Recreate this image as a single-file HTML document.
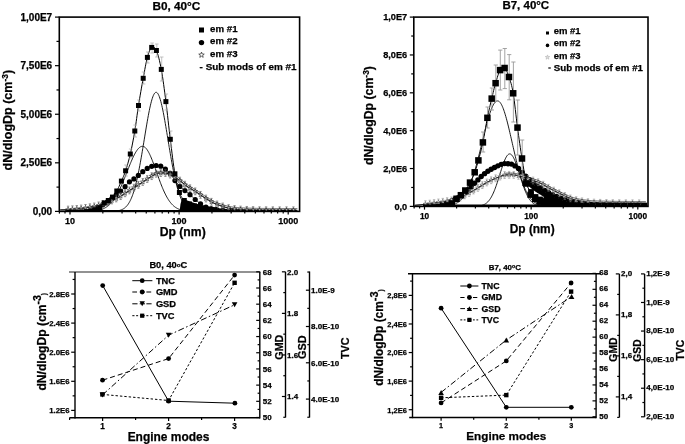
<!DOCTYPE html>
<html><head><meta charset="utf-8"><style>
html,body{margin:0;padding:0;background:#fff;width:685px;height:444px;overflow:hidden}
svg{display:block;will-change:transform}
text{font-family:"Liberation Sans",sans-serif;font-weight:bold;stroke:#000;stroke-width:0.25px}
</style></head><body>
<svg width="685" height="444" viewBox="0 0 685 444">
<clipPath id="c1"><rect x="59.3" y="17.1" width="240.3" height="194.3"/></clipPath><g clip-path="url(#c1)">
<polygon points="182,198.5 186,200 190,201.5 195,203.3 200,204.8 205,206 212,207.5 220,208.5 235,209.6 235,212 179.5,212 180.5,204" fill="#000"/>
<polyline points="60.3,209.83 60.8,209.82 61.3,209.81 61.8,209.8 62.3,209.79 62.8,209.78 63.3,209.77 63.8,209.75 64.3,209.73 64.8,209.71 65.3,209.69 65.8,209.67 66.3,209.65 66.8,209.62 67.3,209.6 67.8,209.57 68.3,209.54 68.8,209.52 69.3,209.49 69.8,209.46 70.3,209.42 70.8,209.39 71.3,209.36 71.8,209.33 72.3,209.29 72.8,209.26 73.3,209.22 73.8,209.19 74.3,209.15 74.8,209.11 75.3,209.08 75.8,209.04 76.3,209 76.8,208.95 77.3,208.91 77.8,208.86 78.3,208.81 78.8,208.76 79.3,208.7 79.8,208.65 80.3,208.59 80.8,208.53 81.3,208.47 81.8,208.41 82.3,208.35 82.8,208.29 83.3,208.22 83.8,208.16 84.3,208.09 84.8,208.03 85.3,207.96 85.8,207.89 86.3,207.82 86.8,207.75 87.3,207.68 87.8,207.6 88.3,207.52 88.8,207.44 89.3,207.36 89.8,207.28 90.3,207.2 90.8,207.11 91.3,207.02 91.8,206.93 92.3,206.84 92.8,206.74 93.3,206.65 93.8,206.55 94.3,206.45 94.8,206.34 95.3,206.24 95.8,206.12 96.3,206.01 96.8,205.89 97.3,205.76 97.8,205.63 98.3,205.49 98.8,205.35 99.3,205.21 99.8,205.06 100.3,204.91 100.8,204.75 101.3,204.59 101.8,204.42 102.3,204.25 102.8,204.08 103.3,203.9 103.8,203.72 104.3,203.53 104.8,203.34 105.3,203.15 105.8,202.96 106.3,202.76 106.8,202.56 107.3,202.36 107.8,202.15 108.3,201.94 108.8,201.74 109.3,201.52 109.8,201.31 110.3,201.1 110.8,200.89 111.3,200.67 111.8,200.46 112.3,200.24 112.8,200.02 113.3,199.8 113.8,199.58 114.3,199.35 114.8,199.12 115.3,198.89 115.8,198.65 116.3,198.41 116.8,198.17 117.3,197.92 117.8,197.67 118.3,197.41 118.8,197.15 119.3,196.88 119.8,196.61 120.3,196.33 120.8,196.04 121.3,195.74 121.8,195.43 122.3,195.11 122.8,194.78 123.3,194.45 123.8,194.12 124.3,193.78 124.8,193.45 125.3,193.11 125.8,192.78 126.3,192.45 126.8,192.13 127.3,191.81 127.8,191.5 128.3,191.18 128.8,190.87 129.3,190.56 129.8,190.25 130.3,189.94 130.8,189.63 131.3,189.32 131.8,189.01 132.3,188.7 132.8,188.38 133.3,188.07 133.8,187.76 134.3,187.44 134.8,187.13 135.3,186.81 135.8,186.49 136.3,186.17 136.8,185.84 137.3,185.52 137.8,185.2 138.3,184.87 138.8,184.55 139.3,184.22 139.8,183.89 140.3,183.57 140.8,183.24 141.3,182.91 141.8,182.58 142.3,182.26 142.8,181.93 143.3,181.6 143.8,181.28 144.3,180.95 144.8,180.63 145.3,180.3 145.8,179.97 146.3,179.64 146.8,179.3 147.3,178.96 147.8,178.61 148.3,178.27 148.8,177.94 149.3,177.61 149.8,177.28 150.3,176.97 150.8,176.67 151.3,176.38 151.8,176.11 152.3,175.84 152.8,175.57 153.3,175.28 153.8,175 154.3,174.72 154.8,174.44 155.3,174.18 155.8,173.94 156.3,173.72 156.8,173.53 157.3,173.38 157.8,173.27 158.3,173.21 158.8,173.18 159.3,173.15 159.8,173.13 160.3,173.1 160.8,173.08 161.3,173.07 161.8,173.05 162.3,173.04 162.8,173.02 163.3,173.01 163.8,173.01 164.3,173 164.8,173 165.3,173.01 165.8,173.06 166.3,173.16 166.8,173.28 167.3,173.44 167.8,173.62 168.3,173.81 168.8,174.02 169.3,174.22 169.8,174.42 170.3,174.62 170.8,174.83 171.3,175.07 171.8,175.31 172.3,175.58 172.8,175.85 173.3,176.14 173.8,176.43 174.3,176.74 174.8,177.05 175.3,177.36 175.8,177.67 176.3,177.99 176.8,178.32 177.3,178.67 177.8,179.02 178.3,179.39 178.8,179.76 179.3,180.14 179.8,180.52 180.3,180.91 180.8,181.3 181.3,181.69 181.8,182.08 182.3,182.48 182.8,182.89 183.3,183.3 183.8,183.73 184.3,184.15 184.8,184.58 185.3,184.99 185.8,185.4 186.3,185.79 186.8,186.16 187.3,186.51 187.8,186.85 188.3,187.17 188.8,187.49 189.3,187.79 189.8,188.1 190.3,188.39 190.8,188.69 191.3,188.98 191.8,189.27 192.3,189.57 192.8,189.87 193.3,190.18 193.8,190.49 194.3,190.8 194.8,191.11 195.3,191.43 195.8,191.74 196.3,192.06 196.8,192.38 197.3,192.69 197.8,193.02 198.3,193.34 198.8,193.67 199.3,194 199.8,194.34 200.3,194.68 200.8,195.03 201.3,195.38 201.8,195.74 202.3,196.09 202.8,196.44 203.3,196.79 203.8,197.14 204.3,197.48 204.8,197.81 205.3,198.13 205.8,198.44 206.3,198.76 206.8,199.07 207.3,199.37 207.8,199.67 208.3,199.97 208.8,200.27 209.3,200.56 209.8,200.84 210.3,201.13 210.8,201.41 211.3,201.7 211.8,201.98 212.3,202.26 212.8,202.54 213.3,202.81 213.8,203.07 214.3,203.32 214.8,203.56 215.3,203.77 215.8,203.99 216.3,204.19 216.8,204.38 217.3,204.57 217.8,204.76 218.3,204.94 218.8,205.12 219.3,205.29 219.8,205.46 220.3,205.63 220.8,205.8 221.3,205.97 221.8,206.14 222.3,206.31 222.8,206.47 223.3,206.64 223.8,206.8 224.3,206.95 224.8,207.11 225.3,207.25 225.8,207.39 226.3,207.52 226.8,207.65 227.3,207.77 227.8,207.9 228.3,208.02 228.8,208.13 229.3,208.25 229.8,208.36 230.3,208.46 230.8,208.55 231.3,208.64 231.8,208.72 232.3,208.79 232.8,208.85 233.3,208.91 233.8,208.96 234.3,209.02 234.8,209.07 235.3,209.12 235.8,209.17 236.3,209.22 236.8,209.27 237.3,209.31 237.8,209.35 238.3,209.4 238.8,209.44 239.3,209.47 239.8,209.51 240.3,209.54 240.8,209.58 241.3,209.61 241.8,209.64 242.3,209.67 242.8,209.7 243.3,209.72 243.8,209.75 244.3,209.77 244.8,209.79 245.3,209.81 245.8,209.83 246.3,209.85 246.8,209.87 247.3,209.89 247.8,209.91 248.3,209.93 248.8,209.95 249.3,209.96 249.8,209.98 250.3,210 250.8,210.01 251.3,210.03 251.8,210.05 252.3,210.06 252.8,210.07 253.3,210.09 253.8,210.1 254.3,210.11 254.8,210.12 255.3,210.14 255.8,210.15 256.3,210.16 256.8,210.16 257.3,210.17 257.8,210.18 258.3,210.19 258.8,210.19 259.3,210.2 259.8,210.2 260.3,210.2 260.8,210.2 261.3,210.21 261.8,210.21 262.3,210.21 262.8,210.21 263.3,210.22 263.8,210.22 264.3,210.22 264.8,210.22 265.3,210.23 265.8,210.23 266.3,210.23 266.8,210.23 267.3,210.23 267.8,210.24 268.3,210.24 268.8,210.24 269.3,210.24 269.8,210.25 270.3,210.25 270.8,210.25 271.3,210.25 271.8,210.25 272.3,210.25 272.8,210.26 273.3,210.26 273.8,210.26 274.3,210.26 274.8,210.26 275.3,210.26 275.8,210.27 276.3,210.27 276.8,210.27 277.3,210.27 277.8,210.27 278.3,210.27 278.8,210.27 279.3,210.28 279.8,210.28 280.3,210.28 280.8,210.28 281.3,210.28 281.8,210.28 282.3,210.28 282.8,210.28 283.3,210.28 283.8,210.29 284.3,210.29 284.8,210.29 285.3,210.29 285.8,210.29 286.3,210.29 286.8,210.29 287.3,210.29 287.8,210.29 288.3,210.29 288.8,210.29 289.3,210.29 289.8,210.29 290.3,210.3 290.8,210.3 291.3,210.3 291.8,210.3 292.3,210.3 292.8,210.3 293.3,210.3 293.8,210.3 294.3,210.3 294.8,210.3 295.3,210.3 295.8,210.3 296.3,210.3 296.8,210.3 297.3,210.3" fill="none" stroke="#000" stroke-width="0.9" stroke-linejoin="round"/>
<polyline points="60.3,212.2 60.8,212.2 61.3,212.2 61.8,212.2 62.3,212.2 62.8,212.2 63.3,212.2 63.8,212.2 64.3,212.2 64.8,212.2 65.3,212.19 65.8,212.19 66.3,212.19 66.8,212.19 67.3,212.18 67.8,212.18 68.3,212.18 68.8,212.17 69.3,212.17 69.8,212.16 70.3,212.16 70.8,212.15 71.3,212.15 71.8,212.14 72.3,212.13 72.8,212.13 73.3,212.12 73.8,212.11 74.3,212.11 74.8,212.1 75.3,212.09 75.8,212.08 76.3,212.07 76.8,212.06 77.3,212.06 77.8,212.05 78.3,212.04 78.8,212.03 79.3,212.02 79.8,212 80.3,211.99 80.8,211.97 81.3,211.95 81.8,211.92 82.3,211.89 82.8,211.85 83.3,211.8 83.8,211.75 84.3,211.7 84.8,211.64 85.3,211.58 85.8,211.52 86.3,211.45 86.8,211.38 87.3,211.31 87.8,211.23 88.3,211.15 88.8,211.06 89.3,210.95 89.8,210.83 90.3,210.69 90.8,210.55 91.3,210.39 91.8,210.22 92.3,210.05 92.8,209.87 93.3,209.68 93.8,209.48 94.3,209.28 94.8,209.08 95.3,208.87 95.8,208.64 96.3,208.38 96.8,208.11 97.3,207.82 97.8,207.52 98.3,207.22 98.8,206.91 99.3,206.61 99.8,206.32 100.3,206.03 100.8,205.75 101.3,205.47 101.8,205.19 102.3,204.91 102.8,204.63 103.3,204.35 103.8,204.07 104.3,203.79 104.8,203.5 105.3,203.21 105.8,202.91 106.3,202.6 106.8,202.29 107.3,201.97 107.8,201.64 108.3,201.29 108.8,200.93 109.3,200.56 109.8,200.18 110.3,199.78 110.8,199.37 111.3,198.96 111.8,198.54 112.3,198.12 112.8,197.69 113.3,197.27 113.8,196.84 114.3,196.42 114.8,196 115.3,195.58 115.8,195.17 116.3,194.77 116.8,194.37 117.3,193.97 117.8,193.57 118.3,193.16 118.8,192.74 119.3,192.32 119.8,191.88 120.3,191.43 120.8,190.96 121.3,190.48 121.8,190 122.3,189.5 122.8,188.99 123.3,188.48 123.8,187.96 124.3,187.44 124.8,186.91 125.3,186.37 125.8,185.8 126.3,185.21 126.8,184.6 127.3,184 127.8,183.41 128.3,182.86 128.8,182.36 129.3,181.92 129.8,181.52 130.3,181.16 130.8,180.82 131.3,180.5 131.8,180.19 132.3,179.89 132.8,179.58 133.3,179.27 133.8,178.95 134.3,178.6 134.8,178.24 135.3,177.86 135.8,177.48 136.3,177.1 136.8,176.7 137.3,176.31 137.8,175.9 138.3,175.5 138.8,175.09 139.3,174.66 139.8,174.23 140.3,173.78 140.8,173.34 141.3,172.91 141.8,172.48 142.3,172.06 142.8,171.66 143.3,171.27 143.8,170.88 144.3,170.5 144.8,170.12 145.3,169.75 145.8,169.39 146.3,169.05 146.8,168.72 147.3,168.4 147.8,168.11 148.3,167.84 148.8,167.57 149.3,167.3 149.8,167.05 150.3,166.81 150.8,166.6 151.3,166.41 151.8,166.25 152.3,166.12 152.8,166 153.3,165.88 153.8,165.77 154.3,165.67 154.8,165.59 155.3,165.53 155.8,165.5 156.3,165.5 156.8,165.53 157.3,165.57 157.8,165.62 158.3,165.69 158.8,165.78 159.3,165.87 159.8,165.97 160.3,166.08 160.8,166.2 161.3,166.35 161.8,166.56 162.3,166.83 162.8,167.13 163.3,167.48 163.8,167.85 164.3,168.23 164.8,168.63 165.3,169.03 165.8,169.42 166.3,169.81 166.8,170.21 167.3,170.63 167.8,171.06 168.3,171.52 168.8,171.99 169.3,172.49 169.8,173.02 170.3,173.57 170.8,174.17 171.3,174.85 171.8,175.59 172.3,176.39 172.8,177.22 173.3,178.05 173.8,178.86 174.3,179.64 174.8,180.36 175.3,181.03 175.8,181.69 176.3,182.34 176.8,182.97 177.3,183.58 177.8,184.17 178.3,184.74 178.8,185.28 179.3,185.8 179.8,186.29 180.3,186.75 180.8,187.2 181.3,187.63 181.8,188.04 182.3,188.45 182.8,188.84 183.3,189.24 183.8,189.64 184.3,190.04 184.8,190.44 185.3,190.84 185.8,191.23 186.3,191.61 186.8,192 187.3,192.38 187.8,192.77 188.3,193.17 188.8,193.58 189.3,194 189.8,194.44 190.3,194.9 190.8,195.37 191.3,195.85 191.8,196.34 192.3,196.83 192.8,197.32 193.3,197.79 193.8,198.26 194.3,198.71 194.8,199.15 195.3,199.58 195.8,200 196.3,200.42 196.8,200.84 197.3,201.25 197.8,201.65 198.3,202.05 198.8,202.44 199.3,202.82 199.8,203.2 200.3,203.58 200.8,203.97 201.3,204.36 201.8,204.74 202.3,205.12 202.8,205.48 203.3,205.81 203.8,206.13 204.3,206.4 204.8,206.65 205.3,206.87 205.8,207.08 206.3,207.29 206.8,207.49 207.3,207.68 207.8,207.86 208.3,208.03 208.8,208.19 209.3,208.34 209.8,208.49 210.3,208.62 210.8,208.75 211.3,208.86 211.8,208.96 212.3,209.06 212.8,209.15 213.3,209.23 213.8,209.32 214.3,209.4 214.8,209.49 215.3,209.56 215.8,209.64 216.3,209.71 216.8,209.78 217.3,209.85 217.8,209.92 218.3,209.98 218.8,210.04 219.3,210.1 219.8,210.16 220.3,210.21 220.8,210.26 221.3,210.31 221.8,210.36 222.3,210.4 222.8,210.45 223.3,210.49 223.8,210.52 224.3,210.56 224.8,210.59 225.3,210.62 225.8,210.65 226.3,210.68 226.8,210.7 227.3,210.73 227.8,210.76 228.3,210.79 228.8,210.81 229.3,210.84 229.8,210.86 230.3,210.89 230.8,210.91 231.3,210.94 231.8,210.96 232.3,210.98 232.8,211.01 233.3,211.03 233.8,211.05 234.3,211.07 234.8,211.09 235.3,211.11 235.8,211.13 236.3,211.15 236.8,211.17 237.3,211.19 237.8,211.21 238.3,211.23 238.8,211.24 239.3,211.26 239.8,211.28 240.3,211.29 240.8,211.31 241.3,211.32 241.8,211.34 242.3,211.35 242.8,211.36 243.3,211.38 243.8,211.39 244.3,211.4 244.8,211.41 245.3,211.42 245.8,211.43 246.3,211.44 246.8,211.45 247.3,211.46 247.8,211.47 248.3,211.48 248.8,211.48 249.3,211.49 249.8,211.5 250.3,211.5 250.8,211.51 251.3,211.51 251.8,211.52 252.3,211.53 252.8,211.53 253.3,211.54 253.8,211.54 254.3,211.55 254.8,211.55 255.3,211.56 255.8,211.56 256.3,211.57 256.8,211.57 257.3,211.58 257.8,211.58 258.3,211.59 258.8,211.59 259.3,211.6 259.8,211.6 260.3,211.61 260.8,211.61 261.3,211.62 261.8,211.62 262.3,211.63 262.8,211.63 263.3,211.63 263.8,211.64 264.3,211.64 264.8,211.65 265.3,211.65 265.8,211.66 266.3,211.66 266.8,211.66 267.3,211.67 267.8,211.67 268.3,211.68 268.8,211.68 269.3,211.68 269.8,211.69 270.3,211.69 270.8,211.69 271.3,211.7 271.8,211.7 272.3,211.7 272.8,211.71 273.3,211.71 273.8,211.71 274.3,211.72 274.8,211.72 275.3,211.72 275.8,211.73 276.3,211.73 276.8,211.73 277.3,211.74 277.8,211.74 278.3,211.74 278.8,211.74 279.3,211.75 279.8,211.75 280.3,211.75 280.8,211.75 281.3,211.76 281.8,211.76 282.3,211.76 282.8,211.76 283.3,211.77 283.8,211.77 284.3,211.77 284.8,211.77 285.3,211.77 285.8,211.78 286.3,211.78 286.8,211.78 287.3,211.78 287.8,211.78 288.3,211.78 288.8,211.79 289.3,211.79 289.8,211.79 290.3,211.79 290.8,211.79 291.3,211.79 291.8,211.79 292.3,211.79 292.8,211.79 293.3,211.8 293.8,211.8 294.3,211.8 294.8,211.8 295.3,211.8 295.8,211.8 296.3,211.8 296.8,211.8 297.3,211.8" fill="none" stroke="#000" stroke-width="0.9" stroke-linejoin="round"/>
<polyline points="60.3,211.4 60.8,211.4 61.3,211.4 61.8,211.4 62.3,211.4 62.8,211.4 63.3,211.4 63.8,211.4 64.3,211.4 64.8,211.4 65.3,211.4 65.8,211.4 66.3,211.4 66.8,211.4 67.3,211.4 67.8,211.4 68.3,211.4 68.8,211.4 69.3,211.4 69.8,211.4 70.3,211.4 70.8,211.4 71.3,211.4 71.8,211.4 72.3,211.4 72.8,211.4 73.3,211.4 73.8,211.4 74.3,211.4 74.8,211.4 75.3,211.39 75.8,211.39 76.3,211.39 76.8,211.39 77.3,211.39 77.8,211.39 78.3,211.39 78.8,211.39 79.3,211.38 79.8,211.38 80.3,211.38 80.8,211.38 81.3,211.37 81.8,211.37 82.3,211.37 82.8,211.36 83.3,211.36 83.8,211.35 84.3,211.34 84.8,211.34 85.3,211.33 85.8,211.32 86.3,211.31 86.8,211.3 87.3,211.29 87.8,211.27 88.3,211.26 88.8,211.24 89.3,211.22 89.8,211.2 90.3,211.18 90.8,211.15 91.3,211.12 91.8,211.09 92.3,211.06 92.8,211.02 93.3,210.98 93.8,210.93 94.3,210.88 94.8,210.83 95.3,210.77 95.8,210.7 96.3,210.63 96.8,210.56 97.3,210.47 97.8,210.38 98.3,210.28 98.8,210.18 99.3,210.06 99.8,209.94 100.3,209.8 100.8,209.65 101.3,209.5 101.8,209.33 102.3,209.15 102.8,208.95 103.3,208.74 103.8,208.52 104.3,208.28 104.8,208.02 105.3,207.75 105.8,207.45 106.3,207.14 106.8,206.81 107.3,206.46 107.8,206.09 108.3,205.69 108.8,205.28 109.3,204.83 109.8,204.37 110.3,203.88 110.8,203.36 111.3,202.81 111.8,202.24 112.3,201.64 112.8,201.02 113.3,200.36 113.8,199.68 114.3,198.96 114.8,198.22 115.3,197.44 115.8,196.63 116.3,195.8 116.8,194.93 117.3,194.04 117.8,193.11 118.3,192.16 118.8,191.17 119.3,190.16 119.8,189.12 120.3,188.06 120.8,186.97 121.3,185.85 121.8,184.71 122.3,183.55 122.8,182.37 123.3,181.17 123.8,179.96 124.3,178.73 124.8,177.48 125.3,176.23 125.8,174.97 126.3,173.7 126.8,172.42 127.3,171.15 127.8,169.88 128.3,168.61 128.8,167.35 129.3,166.1 129.8,164.86 130.3,163.64 130.8,162.44 131.3,161.26 131.8,160.1 132.3,158.97 132.8,157.88 133.3,156.81 133.8,155.79 134.3,154.8 134.8,153.86 135.3,152.96 135.8,152.11 136.3,151.31 136.8,150.56 137.3,149.86 137.8,149.23 138.3,148.65 138.8,148.13 139.3,147.67 139.8,147.28 140.3,146.95 140.8,146.69 141.3,146.49 141.8,146.37 142.3,146.31 142.8,146.31 143.3,146.41 143.8,146.58 144.3,146.84 144.8,147.17 145.3,147.59 145.8,148.08 146.3,148.65 146.8,149.3 147.3,150.02 147.8,150.8 148.3,151.65 148.8,152.57 149.3,153.54 149.8,154.57 150.3,155.66 150.8,156.79 151.3,157.97 151.8,159.19 152.3,160.45 152.8,161.74 153.3,163.05 153.8,164.4 154.3,165.76 154.8,167.14 155.3,168.54 155.8,169.94 156.3,171.35 156.8,172.76 157.3,174.17 157.8,175.57 158.3,176.96 158.8,178.35 159.3,179.71 159.8,181.06 160.3,182.39 160.8,183.69 161.3,184.98 161.8,186.23 162.3,187.45 162.8,188.65 163.3,189.81 163.8,190.94 164.3,192.03 164.8,193.09 165.3,194.12 165.8,195.1 166.3,196.05 166.8,196.97 167.3,197.84 167.8,198.68 168.3,199.48 168.8,200.25 169.3,200.98 169.8,201.68 170.3,202.34 170.8,202.96 171.3,203.55 171.8,204.11 172.3,204.64 172.8,205.14 173.3,205.61 173.8,206.05 174.3,206.47 174.8,206.85 175.3,207.22 175.8,207.55 176.3,207.87 176.8,208.16 177.3,208.44 177.8,208.69 178.3,208.92 178.8,209.14 179.3,209.34 179.8,209.53 180.3,209.7 180.8,209.86 181.3,210 181.8,210.13 182.3,210.26 182.8,210.37 183.3,210.47 183.8,210.56 184.3,210.65 184.8,210.72 185.3,210.79 185.8,210.85 186.3,210.91 186.8,210.96 187.3,211.01 187.8,211.05 188.3,211.09 188.8,211.13 189.3,211.16 189.8,211.18 190.3,211.21 190.8,211.23 191.3,211.25 191.8,211.27 192.3,211.28 192.8,211.3 193.3,211.31 193.8,211.32 194.3,211.33 194.8,211.34 195.3,211.35 195.8,211.35 196.3,211.36 196.8,211.36 197.3,211.37 197.8,211.37 198.3,211.38 198.8,211.38 199.3,211.38 199.8,211.39 200.3,211.39 200.8,211.39 201.3,211.39 201.8,211.39 202.3,211.39 202.8,211.39 203.3,211.39 203.8,211.4 204.3,211.4 204.8,211.4 205.3,211.4 205.8,211.4 206.3,211.4 206.8,211.4 207.3,211.4 207.8,211.4 208.3,211.4 208.8,211.4 209.3,211.4 209.8,211.4 210.3,211.4 210.8,211.4 211.3,211.4 211.8,211.4 212.3,211.4 212.8,211.4 213.3,211.4 213.8,211.4 214.3,211.4 214.8,211.4 215.3,211.4 215.8,211.4 216.3,211.4 216.8,211.4 217.3,211.4 217.8,211.4 218.3,211.4 218.8,211.4 219.3,211.4 219.8,211.4 220.3,211.4 220.8,211.4 221.3,211.4 221.8,211.4 222.3,211.4 222.8,211.4 223.3,211.4 223.8,211.4 224.3,211.4 224.8,211.4 225.3,211.4 225.8,211.4 226.3,211.4 226.8,211.4 227.3,211.4 227.8,211.4 228.3,211.4 228.8,211.4 229.3,211.4 229.8,211.4 230.3,211.4 230.8,211.4 231.3,211.4 231.8,211.4 232.3,211.4 232.8,211.4 233.3,211.4 233.8,211.4 234.3,211.4 234.8,211.4 235.3,211.4 235.8,211.4 236.3,211.4 236.8,211.4 237.3,211.4 237.8,211.4 238.3,211.4 238.8,211.4 239.3,211.4 239.8,211.4 240.3,211.4 240.8,211.4 241.3,211.4 241.8,211.4 242.3,211.4 242.8,211.4 243.3,211.4 243.8,211.4 244.3,211.4 244.8,211.4 245.3,211.4 245.8,211.4 246.3,211.4 246.8,211.4 247.3,211.4 247.8,211.4 248.3,211.4 248.8,211.4 249.3,211.4 249.8,211.4 250.3,211.4 250.8,211.4 251.3,211.4 251.8,211.4 252.3,211.4 252.8,211.4 253.3,211.4 253.8,211.4 254.3,211.4 254.8,211.4 255.3,211.4 255.8,211.4 256.3,211.4 256.8,211.4 257.3,211.4 257.8,211.4 258.3,211.4 258.8,211.4 259.3,211.4 259.8,211.4 260.3,211.4 260.8,211.4 261.3,211.4 261.8,211.4 262.3,211.4 262.8,211.4 263.3,211.4 263.8,211.4 264.3,211.4 264.8,211.4 265.3,211.4 265.8,211.4 266.3,211.4 266.8,211.4 267.3,211.4 267.8,211.4 268.3,211.4 268.8,211.4 269.3,211.4 269.8,211.4 270.3,211.4 270.8,211.4 271.3,211.4 271.8,211.4 272.3,211.4 272.8,211.4 273.3,211.4 273.8,211.4 274.3,211.4 274.8,211.4 275.3,211.4 275.8,211.4 276.3,211.4 276.8,211.4 277.3,211.4 277.8,211.4 278.3,211.4 278.8,211.4 279.3,211.4 279.8,211.4 280.3,211.4 280.8,211.4 281.3,211.4 281.8,211.4 282.3,211.4 282.8,211.4 283.3,211.4 283.8,211.4 284.3,211.4 284.8,211.4 285.3,211.4 285.8,211.4 286.3,211.4 286.8,211.4 287.3,211.4 287.8,211.4 288.3,211.4 288.8,211.4 289.3,211.4 289.8,211.4 290.3,211.4 290.8,211.4 291.3,211.4 291.8,211.4 292.3,211.4 292.8,211.4 293.3,211.4 293.8,211.4 294.3,211.4 294.8,211.4 295.3,211.4 295.8,211.4 296.3,211.4 296.8,211.4 297.3,211.4" fill="none" stroke="#000" stroke-width="0.9" stroke-linejoin="round"/>
<polyline points="60.3,211.4 60.8,211.4 61.3,211.4 61.8,211.4 62.3,211.4 62.8,211.4 63.3,211.4 63.8,211.4 64.3,211.4 64.8,211.4 65.3,211.4 65.8,211.4 66.3,211.4 66.8,211.4 67.3,211.4 67.8,211.4 68.3,211.4 68.8,211.4 69.3,211.4 69.8,211.4 70.3,211.4 70.8,211.4 71.3,211.4 71.8,211.4 72.3,211.4 72.8,211.4 73.3,211.4 73.8,211.4 74.3,211.4 74.8,211.4 75.3,211.4 75.8,211.4 76.3,211.4 76.8,211.4 77.3,211.4 77.8,211.4 78.3,211.4 78.8,211.4 79.3,211.4 79.8,211.4 80.3,211.4 80.8,211.4 81.3,211.4 81.8,211.4 82.3,211.4 82.8,211.4 83.3,211.4 83.8,211.4 84.3,211.4 84.8,211.4 85.3,211.4 85.8,211.4 86.3,211.4 86.8,211.4 87.3,211.4 87.8,211.4 88.3,211.4 88.8,211.4 89.3,211.4 89.8,211.4 90.3,211.4 90.8,211.4 91.3,211.4 91.8,211.4 92.3,211.4 92.8,211.4 93.3,211.4 93.8,211.4 94.3,211.4 94.8,211.4 95.3,211.4 95.8,211.4 96.3,211.4 96.8,211.4 97.3,211.4 97.8,211.4 98.3,211.4 98.8,211.4 99.3,211.4 99.8,211.4 100.3,211.4 100.8,211.4 101.3,211.4 101.8,211.4 102.3,211.4 102.8,211.4 103.3,211.39 103.8,211.39 104.3,211.39 104.8,211.39 105.3,211.39 105.8,211.39 106.3,211.38 106.8,211.38 107.3,211.38 107.8,211.37 108.3,211.37 108.8,211.36 109.3,211.35 109.8,211.35 110.3,211.34 110.8,211.32 111.3,211.31 111.8,211.3 112.3,211.28 112.8,211.26 113.3,211.23 113.8,211.21 114.3,211.18 114.8,211.14 115.3,211.1 115.8,211.05 116.3,211 116.8,210.94 117.3,210.87 117.8,210.79 118.3,210.7 118.8,210.59 119.3,210.48 119.8,210.35 120.3,210.21 120.8,210.04 121.3,209.86 121.8,209.66 122.3,209.43 122.8,209.18 123.3,208.9 123.8,208.59 124.3,208.25 124.8,207.87 125.3,207.45 125.8,206.99 126.3,206.49 126.8,205.94 127.3,205.34 127.8,204.69 128.3,203.98 128.8,203.2 129.3,202.37 129.8,201.46 130.3,200.49 130.8,199.44 131.3,198.32 131.8,197.11 132.3,195.82 132.8,194.45 133.3,192.98 133.8,191.43 134.3,189.78 134.8,188.05 135.3,186.21 135.8,184.28 136.3,182.26 136.8,180.14 137.3,177.93 137.8,175.62 138.3,173.22 138.8,170.74 139.3,168.17 139.8,165.53 140.3,162.8 140.8,160.01 141.3,157.16 141.8,154.25 142.3,151.29 142.8,148.3 143.3,145.27 143.8,142.22 144.3,139.16 144.8,136.1 145.3,133.06 145.8,130.03 146.3,127.04 146.8,124.1 147.3,121.21 147.8,118.4 148.3,115.67 148.8,113.04 149.3,110.52 149.8,108.12 150.3,105.85 150.8,103.73 151.3,101.76 151.8,99.95 152.3,98.32 152.8,96.87 153.3,95.61 153.8,94.54 154.3,93.68 154.8,93.02 155.3,92.57 155.8,92.34 156.3,92.32 156.8,92.51 157.3,92.91 157.8,93.53 158.3,94.35 158.8,95.38 159.3,96.6 159.8,98.01 160.3,99.61 160.8,101.38 161.3,103.32 161.8,105.42 162.3,107.66 162.8,110.03 163.3,112.53 163.8,115.14 164.3,117.85 164.8,120.64 165.3,123.52 165.8,126.45 166.3,129.43 166.8,132.45 167.3,135.49 167.8,138.55 168.3,141.61 168.8,144.66 169.3,147.69 169.8,150.7 170.3,153.66 170.8,156.58 171.3,159.45 171.8,162.25 172.3,164.99 172.8,167.65 173.3,170.23 173.8,172.73 174.3,175.15 174.8,177.47 175.3,179.7 175.8,181.84 176.3,183.89 176.8,185.83 177.3,187.69 177.8,189.44 178.3,191.11 178.8,192.68 179.3,194.16 179.8,195.55 180.3,196.86 180.8,198.08 181.3,199.22 181.8,200.29 182.3,201.27 182.8,202.19 183.3,203.04 183.8,203.83 184.3,204.55 184.8,205.21 185.3,205.83 185.8,206.38 186.3,206.9 186.8,207.36 187.3,207.79 187.8,208.17 188.3,208.52 188.8,208.84 189.3,209.13 189.8,209.38 190.3,209.61 190.8,209.82 191.3,210.01 191.8,210.17 192.3,210.32 192.8,210.46 193.3,210.57 193.8,210.68 194.3,210.77 194.8,210.85 195.3,210.92 195.8,210.99 196.3,211.04 196.8,211.09 197.3,211.13 197.8,211.17 198.3,211.2 198.8,211.23 199.3,211.25 199.8,211.27 200.3,211.29 200.8,211.31 201.3,211.32 201.8,211.33 202.3,211.34 202.8,211.35 203.3,211.36 203.8,211.37 204.3,211.37 204.8,211.38 205.3,211.38 205.8,211.38 206.3,211.39 206.8,211.39 207.3,211.39 207.8,211.39 208.3,211.39 208.8,211.39 209.3,211.4 209.8,211.4 210.3,211.4 210.8,211.4 211.3,211.4 211.8,211.4 212.3,211.4 212.8,211.4 213.3,211.4 213.8,211.4 214.3,211.4 214.8,211.4 215.3,211.4 215.8,211.4 216.3,211.4 216.8,211.4 217.3,211.4 217.8,211.4 218.3,211.4 218.8,211.4 219.3,211.4 219.8,211.4 220.3,211.4 220.8,211.4 221.3,211.4 221.8,211.4 222.3,211.4 222.8,211.4 223.3,211.4 223.8,211.4 224.3,211.4 224.8,211.4 225.3,211.4 225.8,211.4 226.3,211.4 226.8,211.4 227.3,211.4 227.8,211.4 228.3,211.4 228.8,211.4 229.3,211.4 229.8,211.4 230.3,211.4 230.8,211.4 231.3,211.4 231.8,211.4 232.3,211.4 232.8,211.4 233.3,211.4 233.8,211.4 234.3,211.4 234.8,211.4 235.3,211.4 235.8,211.4 236.3,211.4 236.8,211.4 237.3,211.4 237.8,211.4 238.3,211.4 238.8,211.4 239.3,211.4 239.8,211.4 240.3,211.4 240.8,211.4 241.3,211.4 241.8,211.4 242.3,211.4 242.8,211.4 243.3,211.4 243.8,211.4 244.3,211.4 244.8,211.4 245.3,211.4 245.8,211.4 246.3,211.4 246.8,211.4 247.3,211.4 247.8,211.4 248.3,211.4 248.8,211.4 249.3,211.4 249.8,211.4 250.3,211.4 250.8,211.4 251.3,211.4 251.8,211.4 252.3,211.4 252.8,211.4 253.3,211.4 253.8,211.4 254.3,211.4 254.8,211.4 255.3,211.4 255.8,211.4 256.3,211.4 256.8,211.4 257.3,211.4 257.8,211.4 258.3,211.4 258.8,211.4 259.3,211.4 259.8,211.4 260.3,211.4 260.8,211.4 261.3,211.4 261.8,211.4 262.3,211.4 262.8,211.4 263.3,211.4 263.8,211.4 264.3,211.4 264.8,211.4 265.3,211.4 265.8,211.4 266.3,211.4 266.8,211.4 267.3,211.4 267.8,211.4 268.3,211.4 268.8,211.4 269.3,211.4 269.8,211.4 270.3,211.4 270.8,211.4 271.3,211.4 271.8,211.4 272.3,211.4 272.8,211.4 273.3,211.4 273.8,211.4 274.3,211.4 274.8,211.4 275.3,211.4 275.8,211.4 276.3,211.4 276.8,211.4 277.3,211.4 277.8,211.4 278.3,211.4 278.8,211.4 279.3,211.4 279.8,211.4 280.3,211.4 280.8,211.4 281.3,211.4 281.8,211.4 282.3,211.4 282.8,211.4 283.3,211.4 283.8,211.4 284.3,211.4 284.8,211.4 285.3,211.4 285.8,211.4 286.3,211.4 286.8,211.4 287.3,211.4 287.8,211.4 288.3,211.4 288.8,211.4 289.3,211.4 289.8,211.4 290.3,211.4 290.8,211.4 291.3,211.4 291.8,211.4 292.3,211.4 292.8,211.4 293.3,211.4 293.8,211.4 294.3,211.4 294.8,211.4 295.3,211.4 295.8,211.4 296.3,211.4 296.8,211.4 297.3,211.4" fill="none" stroke="#000" stroke-width="0.9" stroke-linejoin="round"/>
<polyline points="69.25,212.49 69.59,212.49 70.03,212.48 70.56,212.47 71.15,212.46 71.78,212.45 72.41,212.44 73.03,212.43 73.6,212.41 74.14,212.4 74.69,212.39 75.23,212.37 75.78,212.36 76.32,212.34 76.86,212.32 77.41,212.3 77.95,212.28 78.5,212.26 79.04,212.23 79.59,212.21 80.13,212.18 80.68,212.15 81.22,212.12 81.77,212.09 82.31,212.05 82.86,212.01 83.4,211.97 83.95,211.92 84.5,211.88 85.04,211.83 85.59,211.77 86.13,211.71 86.68,211.65 87.23,211.58 87.77,211.51 88.32,211.43 88.86,211.35 89.41,211.27 89.96,211.17 90.5,211.07 91.05,210.96 91.6,210.84 92.14,210.71 92.69,210.58 93.24,210.45 93.79,210.3 94.33,210.13 94.88,209.96 95.43,209.76 95.98,209.56 96.52,209.37 97.07,209.17 97.62,208.95 98.17,208.7 98.71,208.42 99.26,208.08 99.81,207.69 100.36,207.2 100.91,206.63 101.47,205.99 102.02,205.32 102.58,204.64 103.12,203.99 103.67,203.4 104.2,202.9 104.73,202.49 105.24,202.16 105.75,201.87 106.26,201.61 106.77,201.37 107.27,201.11 107.78,200.83 108.3,200.5 108.82,200.14 109.34,199.78 109.86,199.42 110.39,199.03 110.91,198.62 111.44,198.16 111.97,197.66 112.5,197.1 113.03,196.49 113.56,195.85 114.09,195.18 114.62,194.46 115.16,193.68 115.7,192.86 116.25,191.96 116.8,191 117.36,189.95 117.94,188.8 118.52,187.58 119.11,186.31 119.69,185.01 120.27,183.69 120.84,182.38 121.4,181.1 121.94,179.88 122.47,178.71 122.98,177.55 123.49,176.38 124.01,175.16 124.52,173.84 125.05,172.4 125.6,170.8 126.16,169.05 126.74,167.2 127.33,165.25 127.93,163.19 128.53,161.04 129.13,158.79 129.72,156.44 130.3,154 130.88,151.44 131.46,148.74 132.04,145.94 132.61,143.04 133.18,140.08 133.74,137.07 134.28,134.04 134.8,131 135.29,127.94 135.76,124.84 136.2,121.7 136.64,118.51 137.07,115.3 137.52,112.05 138,108.79 138.5,105.5 139.04,102.14 139.62,98.67 140.21,95.15 140.82,91.61 141.43,88.11 142.04,84.7 142.63,81.41 143.2,78.3 143.75,75.31 144.28,72.38 144.81,69.52 145.32,66.77 145.84,64.16 146.35,61.71 146.87,59.45 147.4,57.4 147.93,55.54 148.46,53.83 148.99,52.28 149.52,50.9 150.05,49.71 150.59,48.72 151.14,47.95 151.7,47.4 152.27,47.05 152.84,46.88 153.42,46.91 154.01,47.14 154.61,47.6 155.2,48.31 155.8,49.27 156.4,50.5 157,52.02 157.62,53.8 158.24,55.85 158.86,58.13 159.48,60.64 160.09,63.37 160.7,66.29 161.3,69.4 161.89,72.75 162.48,76.39 163.06,80.26 163.63,84.33 164.2,88.54 164.77,92.85 165.34,97.22 165.9,101.6 166.46,106.07 167.01,110.71 167.56,115.48 168.1,120.31 168.64,125.16 169.19,129.97 169.74,134.7 170.3,139.3 170.87,143.87 171.44,148.52 172.01,153.17 172.59,157.74 173.17,162.16 173.75,166.36 174.33,170.27 174.9,173.8 175.46,176.97 176.02,179.84 176.58,182.44 177.13,184.81 177.69,186.97 178.25,188.95 178.82,190.78 179.4,192.5 179.99,194.04 180.59,195.36 181.2,196.48 181.81,197.45 182.42,198.3 183.04,199.07 183.67,199.79 184.3,200.5 184.94,201.16 185.58,201.73 186.24,202.21 186.89,202.62 187.55,203 188.21,203.34 188.86,203.67 189.5,204 190.13,204.33 190.76,204.62 191.39,204.89 192.01,205.14 192.63,205.37 193.25,205.58 193.88,205.79 194.5,206 195.12,206.2 195.75,206.38 196.38,206.55 197,206.71 197.62,206.87 198.25,207.01 198.88,207.16 199.5,207.3 200.12,207.44 200.75,207.58 201.38,207.71 202,207.84 202.62,207.96 203.25,208.08 203.88,208.19 204.5,208.3 205.12,208.4 205.75,208.5 206.38,208.59 207,208.68 207.62,208.76 208.25,208.84 208.88,208.92 209.5,209 210.12,209.06 210.73,209.11 211.35,209.14 211.96,209.17 212.58,209.22 213.2,209.3 213.84,209.42 214.5,209.6 215.18,209.86 215.87,210.21 216.57,210.61 217.29,211.04 218.01,211.46 218.73,211.85 219.45,212.17 220.17,212.4 220.89,212.53 221.6,212.6 222.32,212.61 223.04,212.58 223.77,212.52 224.49,212.47 225.22,212.42 225.95,212.4 226.68,212.4 227.41,212.4 228.14,212.4 228.87,212.4 229.61,212.4 230.35,212.4 231.09,212.4 231.83,212.4 232.57,212.4 233.32,212.4 234.07,212.4 234.81,212.4 235.57,212.4 236.32,212.4 237.07,212.4 237.83,212.4 238.59,212.4 239.35,212.4 240.11,212.4 240.87,212.4 241.64,212.4 242.41,212.4 243.18,212.4 243.95,212.4 244.73,212.4 245.5,212.4 246.28,212.4 247.06,212.4 247.84,212.4 248.63,212.4 249.41,212.4 250.2,212.4 250.99,212.4 251.79,212.4 252.58,212.4 253.38,212.4 254.18,212.4 254.98,212.4 255.78,212.4 256.59,212.4 257.39,212.4 258.2,212.4 259.01,212.4 259.83,212.4 260.64,212.4 261.46,212.4 262.28,212.4 263.1,212.4 263.93,212.4 264.75,212.4 265.58,212.4 266.41,212.4 267.25,212.4 268.08,212.4 268.92,212.4 269.76,212.4 270.6,212.4 271.45,212.4 272.29,212.4 273.14,212.4 273.99,212.4 274.85,212.4 275.7,212.4 276.55,212.4 277.41,212.4 278.26,212.4 279.11,212.4 279.97,212.4 280.82,212.4 281.68,212.4 282.54,212.4 283.4,212.4 284.3,212.4 285.28,212.4 286.28,212.4 287.27,212.4 288.2,212.4 289.05,212.4 289.75,212.4 290.29,212.4" fill="none" stroke="#000" stroke-width="1.0" stroke-linejoin="round"/>
<line x1="65.3" y1="210.7" x2="296.6" y2="210.7" stroke="#000" stroke-width="1.4" stroke-linecap="butt"/>
<circle cx="68.09" cy="212.18" r="2.6" fill="#000"/>
<circle cx="72.43" cy="212.13" r="2.6" fill="#000"/>
<circle cx="76.78" cy="212.07" r="2.6" fill="#000"/>
<circle cx="81.14" cy="211.96" r="2.6" fill="#000"/>
<circle cx="85.51" cy="211.55" r="2.6" fill="#000"/>
<circle cx="89.88" cy="210.81" r="2.6" fill="#000"/>
<circle cx="94.25" cy="209.3" r="2.6" fill="#000"/>
<circle cx="98.63" cy="207.02" r="2.6" fill="#000"/>
<circle cx="103.02" cy="204.51" r="2.6" fill="#000"/>
<circle cx="107.41" cy="201.89" r="2.6" fill="#000"/>
<circle cx="111.81" cy="198.53" r="2.6" fill="#000"/>
<circle cx="116.22" cy="194.84" r="2.6" fill="#000"/>
<circle cx="120.63" cy="191.12" r="2.6" fill="#000"/>
<circle cx="125.05" cy="186.65" r="2.6" fill="#000"/>
<circle cx="129.47" cy="181.78" r="2.6" fill="#000"/>
<circle cx="133.9" cy="178.88" r="2.6" fill="#000"/>
<circle cx="138.33" cy="175.47" r="2.6" fill="#000"/>
<circle cx="142.77" cy="171.68" r="2.6" fill="#000"/>
<circle cx="147.22" cy="168.45" r="2.6" fill="#000"/>
<circle cx="151.7" cy="166.28" r="2.6" fill="#000"/>
<circle cx="156.18" cy="165.5" r="2.6" fill="#000"/>
<circle cx="160.75" cy="166.19" r="2.6" fill="#000"/>
<circle cx="165.4" cy="169.11" r="2.6" fill="#000"/>
<circle cx="170.14" cy="173.39" r="2.6" fill="#000"/>
<circle cx="174.97" cy="180.6" r="2.6" fill="#000"/>
<circle cx="179.9" cy="186.38" r="2.6" fill="#000"/>
<circle cx="184.91" cy="190.53" r="2.6" fill="#000"/>
<circle cx="190.02" cy="194.64" r="2.6" fill="#000"/>
<circle cx="195.23" cy="199.52" r="2.6" fill="#000"/>
<circle cx="200.53" cy="203.76" r="2.6" fill="#000"/>
<circle cx="205.94" cy="207.14" r="2.6" fill="#000"/>
<circle cx="211.45" cy="208.89" r="2.6" fill="#000"/>
<circle cx="217.06" cy="209.82" r="2.6" fill="#000"/>
<circle cx="222.77" cy="210.44" r="2.6" fill="#000"/>
<circle cx="228.6" cy="210.8" r="2.6" fill="#000"/>
<circle cx="234.54" cy="211.08" r="2.6" fill="#000"/>
<circle cx="240.59" cy="211.3" r="2.6" fill="#000"/>
<circle cx="246.77" cy="211.45" r="2.6" fill="#000"/>
<circle cx="253.08" cy="211.53" r="2.6" fill="#000"/>
<circle cx="259.52" cy="211.6" r="2.6" fill="#000"/>
<circle cx="266.1" cy="211.66" r="2.6" fill="#000"/>
<circle cx="272.82" cy="211.71" r="2.6" fill="#000"/>
<circle cx="279.64" cy="211.75" r="2.6" fill="#000"/>
<circle cx="286.5" cy="211.78" r="2.6" fill="#000"/>
<circle cx="293.41" cy="211.8" r="2.6" fill="#000"/>
<line x1="68.09" y1="206.16" x2="68.09" y2="212.96" stroke="#555" stroke-width="0.6" stroke-linecap="butt"/>
<line x1="66.89" y1="206.16" x2="69.29" y2="206.16" stroke="#555" stroke-width="0.6" stroke-linecap="butt"/>
<line x1="66.89" y1="212.96" x2="69.29" y2="212.96" stroke="#555" stroke-width="0.6" stroke-linecap="butt"/>
<line x1="72.43" y1="205.88" x2="72.43" y2="212.68" stroke="#555" stroke-width="0.6" stroke-linecap="butt"/>
<line x1="71.23" y1="205.88" x2="73.63" y2="205.88" stroke="#555" stroke-width="0.6" stroke-linecap="butt"/>
<line x1="71.23" y1="212.68" x2="73.63" y2="212.68" stroke="#555" stroke-width="0.6" stroke-linecap="butt"/>
<line x1="76.78" y1="205.55" x2="76.78" y2="212.35" stroke="#555" stroke-width="0.6" stroke-linecap="butt"/>
<line x1="75.58" y1="205.55" x2="77.98" y2="205.55" stroke="#555" stroke-width="0.6" stroke-linecap="butt"/>
<line x1="75.58" y1="212.35" x2="77.98" y2="212.35" stroke="#555" stroke-width="0.6" stroke-linecap="butt"/>
<line x1="81.14" y1="205.09" x2="81.14" y2="211.89" stroke="#555" stroke-width="0.6" stroke-linecap="butt"/>
<line x1="79.94" y1="205.09" x2="82.34" y2="205.09" stroke="#555" stroke-width="0.6" stroke-linecap="butt"/>
<line x1="79.94" y1="211.89" x2="82.34" y2="211.89" stroke="#555" stroke-width="0.6" stroke-linecap="butt"/>
<line x1="85.51" y1="204.53" x2="85.51" y2="211.33" stroke="#555" stroke-width="0.6" stroke-linecap="butt"/>
<line x1="84.31" y1="204.53" x2="86.71" y2="204.53" stroke="#555" stroke-width="0.6" stroke-linecap="butt"/>
<line x1="84.31" y1="211.33" x2="86.71" y2="211.33" stroke="#555" stroke-width="0.6" stroke-linecap="butt"/>
<line x1="89.88" y1="203.87" x2="89.88" y2="210.67" stroke="#555" stroke-width="0.6" stroke-linecap="butt"/>
<line x1="88.68" y1="203.87" x2="91.08" y2="203.87" stroke="#555" stroke-width="0.6" stroke-linecap="butt"/>
<line x1="88.68" y1="210.67" x2="91.08" y2="210.67" stroke="#555" stroke-width="0.6" stroke-linecap="butt"/>
<line x1="94.25" y1="203.05" x2="94.25" y2="209.85" stroke="#555" stroke-width="0.6" stroke-linecap="butt"/>
<line x1="93.05" y1="203.05" x2="95.45" y2="203.05" stroke="#555" stroke-width="0.6" stroke-linecap="butt"/>
<line x1="93.05" y1="209.85" x2="95.45" y2="209.85" stroke="#555" stroke-width="0.6" stroke-linecap="butt"/>
<line x1="98.63" y1="202" x2="98.63" y2="208.8" stroke="#555" stroke-width="0.6" stroke-linecap="butt"/>
<line x1="97.43" y1="202" x2="99.83" y2="202" stroke="#555" stroke-width="0.6" stroke-linecap="butt"/>
<line x1="97.43" y1="208.8" x2="99.83" y2="208.8" stroke="#555" stroke-width="0.6" stroke-linecap="butt"/>
<line x1="103.02" y1="200.6" x2="103.02" y2="207.4" stroke="#555" stroke-width="0.6" stroke-linecap="butt"/>
<line x1="101.82" y1="200.6" x2="104.22" y2="200.6" stroke="#555" stroke-width="0.6" stroke-linecap="butt"/>
<line x1="101.82" y1="207.4" x2="104.22" y2="207.4" stroke="#555" stroke-width="0.6" stroke-linecap="butt"/>
<line x1="107.41" y1="198.91" x2="107.41" y2="205.71" stroke="#555" stroke-width="0.6" stroke-linecap="butt"/>
<line x1="106.21" y1="198.91" x2="108.61" y2="198.91" stroke="#555" stroke-width="0.6" stroke-linecap="butt"/>
<line x1="106.21" y1="205.71" x2="108.61" y2="205.71" stroke="#555" stroke-width="0.6" stroke-linecap="butt"/>
<line x1="111.81" y1="197.05" x2="111.81" y2="203.85" stroke="#555" stroke-width="0.6" stroke-linecap="butt"/>
<line x1="110.61" y1="197.05" x2="113.01" y2="197.05" stroke="#555" stroke-width="0.6" stroke-linecap="butt"/>
<line x1="110.61" y1="203.85" x2="113.01" y2="203.85" stroke="#555" stroke-width="0.6" stroke-linecap="butt"/>
<line x1="116.22" y1="195.05" x2="116.22" y2="201.85" stroke="#555" stroke-width="0.6" stroke-linecap="butt"/>
<line x1="115.02" y1="195.05" x2="117.42" y2="195.05" stroke="#555" stroke-width="0.6" stroke-linecap="butt"/>
<line x1="115.02" y1="201.85" x2="117.42" y2="201.85" stroke="#555" stroke-width="0.6" stroke-linecap="butt"/>
<line x1="120.63" y1="192.74" x2="120.63" y2="199.54" stroke="#555" stroke-width="0.6" stroke-linecap="butt"/>
<line x1="119.43" y1="192.74" x2="121.83" y2="192.74" stroke="#555" stroke-width="0.6" stroke-linecap="butt"/>
<line x1="119.43" y1="199.54" x2="121.83" y2="199.54" stroke="#555" stroke-width="0.6" stroke-linecap="butt"/>
<line x1="125.05" y1="189.88" x2="125.05" y2="196.68" stroke="#555" stroke-width="0.6" stroke-linecap="butt"/>
<line x1="123.85" y1="189.88" x2="126.25" y2="189.88" stroke="#555" stroke-width="0.6" stroke-linecap="butt"/>
<line x1="123.85" y1="196.68" x2="126.25" y2="196.68" stroke="#555" stroke-width="0.6" stroke-linecap="butt"/>
<line x1="129.47" y1="187.05" x2="129.47" y2="193.85" stroke="#555" stroke-width="0.6" stroke-linecap="butt"/>
<line x1="128.27" y1="187.05" x2="130.67" y2="187.05" stroke="#555" stroke-width="0.6" stroke-linecap="butt"/>
<line x1="128.27" y1="193.85" x2="130.67" y2="193.85" stroke="#555" stroke-width="0.6" stroke-linecap="butt"/>
<line x1="133.9" y1="184.3" x2="133.9" y2="191.1" stroke="#555" stroke-width="0.6" stroke-linecap="butt"/>
<line x1="132.7" y1="184.3" x2="135.1" y2="184.3" stroke="#555" stroke-width="0.6" stroke-linecap="butt"/>
<line x1="132.7" y1="191.1" x2="135.1" y2="191.1" stroke="#555" stroke-width="0.6" stroke-linecap="butt"/>
<line x1="138.33" y1="181.45" x2="138.33" y2="188.25" stroke="#555" stroke-width="0.6" stroke-linecap="butt"/>
<line x1="137.13" y1="181.45" x2="139.53" y2="181.45" stroke="#555" stroke-width="0.6" stroke-linecap="butt"/>
<line x1="137.13" y1="188.25" x2="139.53" y2="188.25" stroke="#555" stroke-width="0.6" stroke-linecap="butt"/>
<line x1="142.77" y1="178.55" x2="142.77" y2="185.35" stroke="#555" stroke-width="0.6" stroke-linecap="butt"/>
<line x1="141.57" y1="178.55" x2="143.97" y2="178.55" stroke="#555" stroke-width="0.6" stroke-linecap="butt"/>
<line x1="141.57" y1="185.35" x2="143.97" y2="185.35" stroke="#555" stroke-width="0.6" stroke-linecap="butt"/>
<line x1="147.22" y1="175.61" x2="147.22" y2="182.41" stroke="#555" stroke-width="0.6" stroke-linecap="butt"/>
<line x1="146.02" y1="175.61" x2="148.42" y2="175.61" stroke="#555" stroke-width="0.6" stroke-linecap="butt"/>
<line x1="146.02" y1="182.41" x2="148.42" y2="182.41" stroke="#555" stroke-width="0.6" stroke-linecap="butt"/>
<line x1="151.7" y1="172.76" x2="151.7" y2="179.56" stroke="#555" stroke-width="0.6" stroke-linecap="butt"/>
<line x1="150.5" y1="172.76" x2="152.9" y2="172.76" stroke="#555" stroke-width="0.6" stroke-linecap="butt"/>
<line x1="150.5" y1="179.56" x2="152.9" y2="179.56" stroke="#555" stroke-width="0.6" stroke-linecap="butt"/>
<line x1="156.18" y1="170.37" x2="156.18" y2="177.17" stroke="#555" stroke-width="0.6" stroke-linecap="butt"/>
<line x1="154.98" y1="170.37" x2="157.38" y2="170.37" stroke="#555" stroke-width="0.6" stroke-linecap="butt"/>
<line x1="154.98" y1="177.17" x2="157.38" y2="177.17" stroke="#555" stroke-width="0.6" stroke-linecap="butt"/>
<line x1="160.75" y1="169.69" x2="160.75" y2="176.49" stroke="#555" stroke-width="0.6" stroke-linecap="butt"/>
<line x1="159.55" y1="169.69" x2="161.95" y2="169.69" stroke="#555" stroke-width="0.6" stroke-linecap="butt"/>
<line x1="159.55" y1="176.49" x2="161.95" y2="176.49" stroke="#555" stroke-width="0.6" stroke-linecap="butt"/>
<line x1="165.4" y1="169.62" x2="165.4" y2="176.42" stroke="#555" stroke-width="0.6" stroke-linecap="butt"/>
<line x1="164.2" y1="169.62" x2="166.6" y2="169.62" stroke="#555" stroke-width="0.6" stroke-linecap="butt"/>
<line x1="164.2" y1="176.42" x2="166.6" y2="176.42" stroke="#555" stroke-width="0.6" stroke-linecap="butt"/>
<line x1="170.14" y1="171.16" x2="170.14" y2="177.96" stroke="#555" stroke-width="0.6" stroke-linecap="butt"/>
<line x1="168.94" y1="171.16" x2="171.34" y2="171.16" stroke="#555" stroke-width="0.6" stroke-linecap="butt"/>
<line x1="168.94" y1="177.96" x2="171.34" y2="177.96" stroke="#555" stroke-width="0.6" stroke-linecap="butt"/>
<line x1="174.97" y1="173.75" x2="174.97" y2="180.55" stroke="#555" stroke-width="0.6" stroke-linecap="butt"/>
<line x1="173.77" y1="173.75" x2="176.17" y2="173.75" stroke="#555" stroke-width="0.6" stroke-linecap="butt"/>
<line x1="173.77" y1="180.55" x2="176.17" y2="180.55" stroke="#555" stroke-width="0.6" stroke-linecap="butt"/>
<line x1="179.9" y1="177.2" x2="179.9" y2="184" stroke="#555" stroke-width="0.6" stroke-linecap="butt"/>
<line x1="178.7" y1="177.2" x2="181.1" y2="177.2" stroke="#555" stroke-width="0.6" stroke-linecap="butt"/>
<line x1="178.7" y1="184" x2="181.1" y2="184" stroke="#555" stroke-width="0.6" stroke-linecap="butt"/>
<line x1="184.91" y1="181.27" x2="184.91" y2="188.07" stroke="#555" stroke-width="0.6" stroke-linecap="butt"/>
<line x1="183.71" y1="181.27" x2="186.11" y2="181.27" stroke="#555" stroke-width="0.6" stroke-linecap="butt"/>
<line x1="183.71" y1="188.07" x2="186.11" y2="188.07" stroke="#555" stroke-width="0.6" stroke-linecap="butt"/>
<line x1="190.02" y1="184.83" x2="190.02" y2="191.63" stroke="#555" stroke-width="0.6" stroke-linecap="butt"/>
<line x1="188.82" y1="184.83" x2="191.22" y2="184.83" stroke="#555" stroke-width="0.6" stroke-linecap="butt"/>
<line x1="188.82" y1="191.63" x2="191.22" y2="191.63" stroke="#555" stroke-width="0.6" stroke-linecap="butt"/>
<line x1="195.23" y1="187.98" x2="195.23" y2="194.78" stroke="#555" stroke-width="0.6" stroke-linecap="butt"/>
<line x1="194.03" y1="187.98" x2="196.43" y2="187.98" stroke="#555" stroke-width="0.6" stroke-linecap="butt"/>
<line x1="194.03" y1="194.78" x2="196.43" y2="194.78" stroke="#555" stroke-width="0.6" stroke-linecap="butt"/>
<line x1="200.53" y1="191.45" x2="200.53" y2="198.25" stroke="#555" stroke-width="0.6" stroke-linecap="butt"/>
<line x1="199.33" y1="191.45" x2="201.73" y2="191.45" stroke="#555" stroke-width="0.6" stroke-linecap="butt"/>
<line x1="199.33" y1="198.25" x2="201.73" y2="198.25" stroke="#555" stroke-width="0.6" stroke-linecap="butt"/>
<line x1="205.94" y1="195.13" x2="205.94" y2="201.93" stroke="#555" stroke-width="0.6" stroke-linecap="butt"/>
<line x1="204.74" y1="195.13" x2="207.14" y2="195.13" stroke="#555" stroke-width="0.6" stroke-linecap="butt"/>
<line x1="204.74" y1="201.93" x2="207.14" y2="201.93" stroke="#555" stroke-width="0.6" stroke-linecap="butt"/>
<line x1="211.45" y1="198.38" x2="211.45" y2="205.18" stroke="#555" stroke-width="0.6" stroke-linecap="butt"/>
<line x1="210.25" y1="198.38" x2="212.65" y2="198.38" stroke="#555" stroke-width="0.6" stroke-linecap="butt"/>
<line x1="210.25" y1="205.18" x2="212.65" y2="205.18" stroke="#555" stroke-width="0.6" stroke-linecap="butt"/>
<line x1="217.06" y1="201.08" x2="217.06" y2="207.88" stroke="#555" stroke-width="0.6" stroke-linecap="butt"/>
<line x1="215.86" y1="201.08" x2="218.26" y2="201.08" stroke="#555" stroke-width="0.6" stroke-linecap="butt"/>
<line x1="215.86" y1="207.88" x2="218.26" y2="207.88" stroke="#555" stroke-width="0.6" stroke-linecap="butt"/>
<line x1="222.77" y1="203.06" x2="222.77" y2="209.86" stroke="#555" stroke-width="0.6" stroke-linecap="butt"/>
<line x1="221.57" y1="203.06" x2="223.97" y2="203.06" stroke="#555" stroke-width="0.6" stroke-linecap="butt"/>
<line x1="221.57" y1="209.86" x2="223.97" y2="209.86" stroke="#555" stroke-width="0.6" stroke-linecap="butt"/>
<line x1="228.6" y1="204.69" x2="228.6" y2="211.49" stroke="#555" stroke-width="0.6" stroke-linecap="butt"/>
<line x1="227.4" y1="204.69" x2="229.8" y2="204.69" stroke="#555" stroke-width="0.6" stroke-linecap="butt"/>
<line x1="227.4" y1="211.49" x2="229.8" y2="211.49" stroke="#555" stroke-width="0.6" stroke-linecap="butt"/>
<line x1="234.54" y1="205.64" x2="234.54" y2="212.44" stroke="#555" stroke-width="0.6" stroke-linecap="butt"/>
<line x1="233.34" y1="205.64" x2="235.74" y2="205.64" stroke="#555" stroke-width="0.6" stroke-linecap="butt"/>
<line x1="233.34" y1="212.44" x2="235.74" y2="212.44" stroke="#555" stroke-width="0.6" stroke-linecap="butt"/>
<line x1="240.59" y1="206.16" x2="240.59" y2="212.96" stroke="#555" stroke-width="0.6" stroke-linecap="butt"/>
<line x1="239.39" y1="206.16" x2="241.79" y2="206.16" stroke="#555" stroke-width="0.6" stroke-linecap="butt"/>
<line x1="239.39" y1="212.96" x2="241.79" y2="212.96" stroke="#555" stroke-width="0.6" stroke-linecap="butt"/>
<line x1="246.77" y1="206.47" x2="246.77" y2="213.27" stroke="#555" stroke-width="0.6" stroke-linecap="butt"/>
<line x1="245.57" y1="206.47" x2="247.97" y2="206.47" stroke="#555" stroke-width="0.6" stroke-linecap="butt"/>
<line x1="245.57" y1="213.27" x2="247.97" y2="213.27" stroke="#555" stroke-width="0.6" stroke-linecap="butt"/>
<line x1="253.08" y1="206.68" x2="253.08" y2="213.48" stroke="#555" stroke-width="0.6" stroke-linecap="butt"/>
<line x1="251.88" y1="206.68" x2="254.28" y2="206.68" stroke="#555" stroke-width="0.6" stroke-linecap="butt"/>
<line x1="251.88" y1="213.48" x2="254.28" y2="213.48" stroke="#555" stroke-width="0.6" stroke-linecap="butt"/>
<line x1="259.52" y1="206.8" x2="259.52" y2="213.6" stroke="#555" stroke-width="0.6" stroke-linecap="butt"/>
<line x1="258.32" y1="206.8" x2="260.72" y2="206.8" stroke="#555" stroke-width="0.6" stroke-linecap="butt"/>
<line x1="258.32" y1="213.6" x2="260.72" y2="213.6" stroke="#555" stroke-width="0.6" stroke-linecap="butt"/>
<line x1="266.1" y1="206.83" x2="266.1" y2="213.63" stroke="#555" stroke-width="0.6" stroke-linecap="butt"/>
<line x1="264.9" y1="206.83" x2="267.3" y2="206.83" stroke="#555" stroke-width="0.6" stroke-linecap="butt"/>
<line x1="264.9" y1="213.63" x2="267.3" y2="213.63" stroke="#555" stroke-width="0.6" stroke-linecap="butt"/>
<line x1="272.82" y1="206.86" x2="272.82" y2="213.66" stroke="#555" stroke-width="0.6" stroke-linecap="butt"/>
<line x1="271.62" y1="206.86" x2="274.02" y2="206.86" stroke="#555" stroke-width="0.6" stroke-linecap="butt"/>
<line x1="271.62" y1="213.66" x2="274.02" y2="213.66" stroke="#555" stroke-width="0.6" stroke-linecap="butt"/>
<line x1="279.64" y1="206.88" x2="279.64" y2="213.68" stroke="#555" stroke-width="0.6" stroke-linecap="butt"/>
<line x1="278.44" y1="206.88" x2="280.84" y2="206.88" stroke="#555" stroke-width="0.6" stroke-linecap="butt"/>
<line x1="278.44" y1="213.68" x2="280.84" y2="213.68" stroke="#555" stroke-width="0.6" stroke-linecap="butt"/>
<line x1="286.5" y1="206.89" x2="286.5" y2="213.69" stroke="#555" stroke-width="0.6" stroke-linecap="butt"/>
<line x1="285.3" y1="206.89" x2="287.7" y2="206.89" stroke="#555" stroke-width="0.6" stroke-linecap="butt"/>
<line x1="285.3" y1="213.69" x2="287.7" y2="213.69" stroke="#555" stroke-width="0.6" stroke-linecap="butt"/>
<line x1="293.41" y1="206.9" x2="293.41" y2="213.7" stroke="#555" stroke-width="0.6" stroke-linecap="butt"/>
<line x1="292.21" y1="206.9" x2="294.61" y2="206.9" stroke="#555" stroke-width="0.6" stroke-linecap="butt"/>
<line x1="292.21" y1="213.7" x2="294.61" y2="213.7" stroke="#555" stroke-width="0.6" stroke-linecap="butt"/>
<polygon points="68.09,207.06 68.7,208.71 70.46,208.78 69.08,209.88 69.55,211.58 68.09,210.61 66.62,211.58 67.09,209.88 65.71,208.78 67.47,208.71" fill="#fff" stroke="#333" stroke-width="0.6"/>
<polygon points="72.43,206.78 73.05,208.43 74.81,208.51 73.43,209.61 73.9,211.31 72.43,210.33 70.96,211.31 71.43,209.61 70.05,208.51 71.81,208.43" fill="#fff" stroke="#333" stroke-width="0.6"/>
<polygon points="76.78,206.45 77.4,208.1 79.16,208.18 77.78,209.28 78.25,210.98 76.78,210 75.31,210.98 75.79,209.28 74.41,208.18 76.17,208.1" fill="#fff" stroke="#333" stroke-width="0.6"/>
<polygon points="81.14,205.99 81.76,207.64 83.52,207.72 82.14,208.82 82.61,210.51 81.14,209.54 79.67,210.51 80.14,208.82 78.76,207.72 80.53,207.64" fill="#fff" stroke="#333" stroke-width="0.6"/>
<polygon points="85.51,205.43 86.12,207.08 87.88,207.16 86.51,208.26 86.98,209.95 85.51,208.98 84.04,209.95 84.51,208.26 83.13,207.16 84.89,207.08" fill="#fff" stroke="#333" stroke-width="0.6"/>
<polygon points="89.88,204.77 90.49,206.42 92.25,206.49 90.87,207.59 91.35,209.29 89.88,208.32 88.41,209.29 88.88,207.59 87.5,206.49 89.26,206.42" fill="#fff" stroke="#333" stroke-width="0.6"/>
<polygon points="94.25,203.95 94.87,205.61 96.63,205.68 95.25,206.78 95.72,208.48 94.25,207.5 92.78,208.48 93.25,206.78 91.87,205.68 93.63,205.61" fill="#fff" stroke="#333" stroke-width="0.6"/>
<polygon points="98.63,202.9 99.25,204.55 101.01,204.63 99.63,205.72 100.1,207.42 98.63,206.45 97.16,207.42 97.63,205.72 96.26,204.63 98.02,204.55" fill="#fff" stroke="#333" stroke-width="0.6"/>
<polygon points="103.02,201.5 103.64,203.15 105.4,203.23 104.02,204.33 104.49,206.02 103.02,205.05 101.55,206.02 102.02,204.33 100.64,203.23 102.4,203.15" fill="#fff" stroke="#333" stroke-width="0.6"/>
<polygon points="107.41,199.81 108.03,201.46 109.79,201.54 108.41,202.63 108.88,204.33 107.41,203.36 105.94,204.33 106.42,202.63 105.04,201.54 106.8,201.46" fill="#fff" stroke="#333" stroke-width="0.6"/>
<polygon points="111.81,197.95 112.43,199.6 114.19,199.68 112.81,200.78 113.28,202.47 111.81,201.5 110.34,202.47 110.81,200.78 109.44,199.68 111.2,199.6" fill="#fff" stroke="#333" stroke-width="0.6"/>
<polygon points="116.22,195.95 116.84,197.6 118.6,197.68 117.22,198.78 117.69,200.47 116.22,199.5 114.75,200.47 115.22,198.78 113.84,197.68 115.6,197.6" fill="#fff" stroke="#333" stroke-width="0.6"/>
<polygon points="120.63,193.64 121.25,195.29 123.01,195.37 121.63,196.47 122.1,198.16 120.63,197.19 119.16,198.16 119.63,196.47 118.25,195.37 120.01,195.29" fill="#fff" stroke="#333" stroke-width="0.6"/>
<polygon points="125.05,190.78 125.66,192.43 127.42,192.51 126.04,193.61 126.52,195.31 125.05,194.33 123.58,195.31 124.05,193.61 122.67,192.51 124.43,192.43" fill="#fff" stroke="#333" stroke-width="0.6"/>
<polygon points="129.47,187.95 130.09,189.6 131.85,189.68 130.47,190.78 130.94,192.48 129.47,191.5 128,192.48 128.47,190.78 127.09,189.68 128.85,189.6" fill="#fff" stroke="#333" stroke-width="0.6"/>
<polygon points="133.9,185.2 134.51,186.85 136.27,186.93 134.9,188.02 135.37,189.72 133.9,188.75 132.43,189.72 132.9,188.02 131.52,186.93 133.28,186.85" fill="#fff" stroke="#333" stroke-width="0.6"/>
<polygon points="138.33,182.35 138.95,184 140.71,184.08 139.33,185.18 139.8,186.87 138.33,185.9 136.86,186.87 137.33,185.18 135.95,184.08 137.71,184" fill="#fff" stroke="#333" stroke-width="0.6"/>
<polygon points="142.77,179.45 143.39,181.1 145.15,181.18 143.77,182.27 144.24,183.97 142.77,183 141.3,183.97 141.77,182.27 140.39,181.18 142.15,181.1" fill="#fff" stroke="#333" stroke-width="0.6"/>
<polygon points="147.22,176.51 147.84,178.16 149.6,178.24 148.22,179.34 148.69,181.03 147.22,180.06 145.75,181.03 146.22,179.34 144.84,178.24 146.6,178.16" fill="#fff" stroke="#333" stroke-width="0.6"/>
<polygon points="151.7,173.66 152.32,175.31 154.08,175.39 152.7,176.48 153.17,178.18 151.7,177.21 150.23,178.18 150.7,176.48 149.32,175.39 151.08,175.31" fill="#fff" stroke="#333" stroke-width="0.6"/>
<polygon points="156.18,171.27 156.8,172.92 158.56,173 157.18,174.09 157.65,175.79 156.18,174.82 154.71,175.79 155.18,174.09 153.8,173 155.56,172.92" fill="#fff" stroke="#333" stroke-width="0.6"/>
<polygon points="160.75,170.59 161.37,172.24 163.13,172.31 161.75,173.41 162.22,175.11 160.75,174.14 159.28,175.11 159.75,173.41 158.37,172.31 160.13,172.24" fill="#fff" stroke="#333" stroke-width="0.6"/>
<polygon points="165.4,170.52 166.02,172.17 167.78,172.24 166.4,173.34 166.87,175.04 165.4,174.07 163.93,175.04 164.4,173.34 163.02,172.24 164.78,172.17" fill="#fff" stroke="#333" stroke-width="0.6"/>
<polygon points="170.14,172.06 170.76,173.71 172.52,173.78 171.14,174.88 171.61,176.58 170.14,175.61 168.67,176.58 169.14,174.88 167.77,173.78 169.53,173.71" fill="#fff" stroke="#333" stroke-width="0.6"/>
<polygon points="174.97,174.65 175.59,176.31 177.35,176.38 175.97,177.48 176.44,179.18 174.97,178.2 173.5,179.18 173.98,177.48 172.6,176.38 174.36,176.31" fill="#fff" stroke="#333" stroke-width="0.6"/>
<polygon points="179.9,178.1 180.51,179.75 182.27,179.83 180.89,180.92 181.37,182.62 179.9,181.65 178.43,182.62 178.9,180.92 177.52,179.83 179.28,179.75" fill="#fff" stroke="#333" stroke-width="0.6"/>
<polygon points="184.91,182.17 185.53,183.82 187.29,183.9 185.91,184.99 186.38,186.69 184.91,185.72 183.44,186.69 183.91,184.99 182.53,183.9 184.29,183.82" fill="#fff" stroke="#333" stroke-width="0.6"/>
<polygon points="190.02,185.73 190.64,187.38 192.4,187.45 191.02,188.55 191.49,190.25 190.02,189.28 188.55,190.25 189.02,188.55 187.64,187.45 189.4,187.38" fill="#fff" stroke="#333" stroke-width="0.6"/>
<polygon points="195.23,188.88 195.84,190.53 197.61,190.61 196.23,191.71 196.7,193.4 195.23,192.43 193.76,193.4 194.23,191.71 192.85,190.61 194.61,190.53" fill="#fff" stroke="#333" stroke-width="0.6"/>
<polygon points="200.53,192.35 201.15,194 202.91,194.07 201.53,195.17 202,196.87 200.53,195.9 199.06,196.87 199.53,195.17 198.15,194.07 199.92,194" fill="#fff" stroke="#333" stroke-width="0.6"/>
<polygon points="205.94,196.03 206.55,197.68 208.32,197.76 206.94,198.86 207.41,200.55 205.94,199.58 204.47,200.55 204.94,198.86 203.56,197.76 205.32,197.68" fill="#fff" stroke="#333" stroke-width="0.6"/>
<polygon points="211.45,199.28 212.06,200.93 213.82,201.01 212.44,202.1 212.91,203.8 211.45,202.83 209.98,203.8 210.45,202.1 209.07,201.01 210.83,200.93" fill="#fff" stroke="#333" stroke-width="0.6"/>
<polygon points="217.06,201.98 217.67,203.63 219.43,203.71 218.06,204.81 218.53,206.51 217.06,205.53 215.59,206.51 216.06,204.81 214.68,203.71 216.44,203.63" fill="#fff" stroke="#333" stroke-width="0.6"/>
<polygon points="222.77,203.96 223.39,205.62 225.15,205.69 223.77,206.79 224.24,208.49 222.77,207.51 221.3,208.49 221.78,206.79 220.4,205.69 222.16,205.62" fill="#fff" stroke="#333" stroke-width="0.6"/>
<polygon points="228.6,205.59 229.22,207.24 230.98,207.32 229.6,208.41 230.07,210.11 228.6,209.14 227.13,210.11 227.6,208.41 226.22,207.32 227.98,207.24" fill="#fff" stroke="#333" stroke-width="0.6"/>
<polygon points="234.54,206.54 235.15,208.19 236.91,208.27 235.53,209.37 236,211.07 234.54,210.09 233.07,211.07 233.54,209.37 232.16,208.27 233.92,208.19" fill="#fff" stroke="#333" stroke-width="0.6"/>
<polygon points="240.59,207.06 241.21,208.72 242.97,208.79 241.59,209.89 242.06,211.59 240.59,210.61 239.12,211.59 239.59,209.89 238.21,208.79 239.97,208.72" fill="#fff" stroke="#333" stroke-width="0.6"/>
<polygon points="246.77,207.37 247.39,209.02 249.15,209.1 247.77,210.19 248.24,211.89 246.77,210.92 245.3,211.89 245.77,210.19 244.39,209.1 246.15,209.02" fill="#fff" stroke="#333" stroke-width="0.6"/>
<polygon points="253.08,207.58 253.7,209.23 255.46,209.31 254.08,210.41 254.55,212.1 253.08,211.13 251.61,212.1 252.08,210.41 250.7,209.31 252.46,209.23" fill="#fff" stroke="#333" stroke-width="0.6"/>
<polygon points="259.52,207.7 260.14,209.35 261.9,209.42 260.52,210.52 260.99,212.22 259.52,211.25 258.05,212.22 258.53,210.52 257.15,209.42 258.91,209.35" fill="#fff" stroke="#333" stroke-width="0.6"/>
<polygon points="266.1,207.73 266.72,209.38 268.48,209.46 267.1,210.55 267.57,212.25 266.1,211.28 264.63,212.25 265.11,210.55 263.73,209.46 265.49,209.38" fill="#fff" stroke="#333" stroke-width="0.6"/>
<polygon points="272.82,207.76 273.44,209.41 275.2,209.48 273.82,210.58 274.29,212.28 272.82,211.31 271.35,212.28 271.82,210.58 270.44,209.48 272.2,209.41" fill="#fff" stroke="#333" stroke-width="0.6"/>
<polygon points="279.64,207.78 280.26,209.43 282.02,209.5 280.64,210.6 281.11,212.3 279.64,211.33 278.17,212.3 278.64,210.6 277.26,209.5 279.02,209.43" fill="#fff" stroke="#333" stroke-width="0.6"/>
<polygon points="286.5,207.79 287.12,209.44 288.88,209.52 287.5,210.61 287.97,212.31 286.5,211.34 285.04,212.31 285.51,210.61 284.13,209.52 285.89,209.44" fill="#fff" stroke="#333" stroke-width="0.6"/>
<polygon points="293.41,207.8 294.03,209.45 295.79,209.53 294.41,210.62 294.88,212.32 293.41,211.35 291.95,212.32 292.42,210.62 291.04,209.53 292.8,209.45" fill="#fff" stroke="#333" stroke-width="0.6"/>
<polyline points="60.3,209.83 60.8,209.82 61.3,209.81 61.8,209.8 62.3,209.79 62.8,209.78 63.3,209.77 63.8,209.75 64.3,209.73 64.8,209.71 65.3,209.69 65.8,209.67 66.3,209.65 66.8,209.62 67.3,209.6 67.8,209.57 68.3,209.54 68.8,209.52 69.3,209.49 69.8,209.46 70.3,209.42 70.8,209.39 71.3,209.36 71.8,209.33 72.3,209.29 72.8,209.26 73.3,209.22 73.8,209.19 74.3,209.15 74.8,209.11 75.3,209.08 75.8,209.04 76.3,209 76.8,208.95 77.3,208.91 77.8,208.86 78.3,208.81 78.8,208.76 79.3,208.7 79.8,208.65 80.3,208.59 80.8,208.53 81.3,208.47 81.8,208.41 82.3,208.35 82.8,208.29 83.3,208.22 83.8,208.16 84.3,208.09 84.8,208.03 85.3,207.96 85.8,207.89 86.3,207.82 86.8,207.75 87.3,207.68 87.8,207.6 88.3,207.52 88.8,207.44 89.3,207.36 89.8,207.28 90.3,207.2 90.8,207.11 91.3,207.02 91.8,206.93 92.3,206.84 92.8,206.74 93.3,206.65 93.8,206.55 94.3,206.45 94.8,206.34 95.3,206.24 95.8,206.12 96.3,206.01 96.8,205.89 97.3,205.76 97.8,205.63 98.3,205.49 98.8,205.35 99.3,205.21 99.8,205.06 100.3,204.91 100.8,204.75 101.3,204.59 101.8,204.42 102.3,204.25 102.8,204.08 103.3,203.9 103.8,203.72 104.3,203.53 104.8,203.34 105.3,203.15 105.8,202.96 106.3,202.76 106.8,202.56 107.3,202.36 107.8,202.15 108.3,201.94 108.8,201.74 109.3,201.52 109.8,201.31 110.3,201.1 110.8,200.89 111.3,200.67 111.8,200.46 112.3,200.24 112.8,200.02 113.3,199.8 113.8,199.58 114.3,199.35 114.8,199.12 115.3,198.89 115.8,198.65 116.3,198.41 116.8,198.17 117.3,197.92 117.8,197.67 118.3,197.41 118.8,197.15 119.3,196.88 119.8,196.61 120.3,196.33 120.8,196.04 121.3,195.74 121.8,195.43 122.3,195.11 122.8,194.78 123.3,194.45 123.8,194.12 124.3,193.78 124.8,193.45 125.3,193.11 125.8,192.78 126.3,192.45 126.8,192.13 127.3,191.81 127.8,191.5 128.3,191.18 128.8,190.87 129.3,190.56 129.8,190.25 130.3,189.94 130.8,189.63 131.3,189.32 131.8,189.01 132.3,188.7 132.8,188.38 133.3,188.07 133.8,187.76 134.3,187.44 134.8,187.13 135.3,186.81 135.8,186.49 136.3,186.17 136.8,185.84 137.3,185.52 137.8,185.2 138.3,184.87 138.8,184.55 139.3,184.22 139.8,183.89 140.3,183.57 140.8,183.24 141.3,182.91 141.8,182.58 142.3,182.26 142.8,181.93 143.3,181.6 143.8,181.28 144.3,180.95 144.8,180.63 145.3,180.3 145.8,179.97 146.3,179.64 146.8,179.3 147.3,178.96 147.8,178.61 148.3,178.27 148.8,177.94 149.3,177.61 149.8,177.28 150.3,176.97 150.8,176.67 151.3,176.38 151.8,176.11 152.3,175.84 152.8,175.57 153.3,175.28 153.8,175 154.3,174.72 154.8,174.44 155.3,174.18 155.8,173.94 156.3,173.72 156.8,173.53 157.3,173.38 157.8,173.27 158.3,173.21 158.8,173.18 159.3,173.15 159.8,173.13 160.3,173.1 160.8,173.08 161.3,173.07 161.8,173.05 162.3,173.04 162.8,173.02 163.3,173.01 163.8,173.01 164.3,173 164.8,173 165.3,173.01 165.8,173.06 166.3,173.16 166.8,173.28 167.3,173.44 167.8,173.62 168.3,173.81 168.8,174.02 169.3,174.22 169.8,174.42 170.3,174.62 170.8,174.83 171.3,175.07 171.8,175.31 172.3,175.58 172.8,175.85 173.3,176.14 173.8,176.43 174.3,176.74 174.8,177.05 175.3,177.36 175.8,177.67 176.3,177.99 176.8,178.32 177.3,178.67 177.8,179.02 178.3,179.39 178.8,179.76 179.3,180.14 179.8,180.52 180.3,180.91 180.8,181.3 181.3,181.69 181.8,182.08 182.3,182.48 182.8,182.89 183.3,183.3 183.8,183.73 184.3,184.15 184.8,184.58 185.3,184.99 185.8,185.4 186.3,185.79 186.8,186.16 187.3,186.51 187.8,186.85 188.3,187.17 188.8,187.49 189.3,187.79 189.8,188.1 190.3,188.39 190.8,188.69 191.3,188.98 191.8,189.27 192.3,189.57 192.8,189.87 193.3,190.18 193.8,190.49 194.3,190.8 194.8,191.11 195.3,191.43 195.8,191.74 196.3,192.06 196.8,192.38 197.3,192.69 197.8,193.02 198.3,193.34 198.8,193.67 199.3,194 199.8,194.34 200.3,194.68 200.8,195.03 201.3,195.38 201.8,195.74 202.3,196.09 202.8,196.44 203.3,196.79 203.8,197.14 204.3,197.48 204.8,197.81 205.3,198.13 205.8,198.44 206.3,198.76 206.8,199.07 207.3,199.37 207.8,199.67 208.3,199.97 208.8,200.27 209.3,200.56 209.8,200.84 210.3,201.13 210.8,201.41 211.3,201.7 211.8,201.98 212.3,202.26 212.8,202.54 213.3,202.81 213.8,203.07 214.3,203.32 214.8,203.56 215.3,203.77 215.8,203.99 216.3,204.19 216.8,204.38 217.3,204.57 217.8,204.76 218.3,204.94 218.8,205.12 219.3,205.29 219.8,205.46 220.3,205.63 220.8,205.8 221.3,205.97 221.8,206.14 222.3,206.31 222.8,206.47 223.3,206.64 223.8,206.8 224.3,206.95 224.8,207.11 225.3,207.25 225.8,207.39 226.3,207.52 226.8,207.65 227.3,207.77 227.8,207.9 228.3,208.02 228.8,208.13 229.3,208.25 229.8,208.36 230.3,208.46 230.8,208.55 231.3,208.64 231.8,208.72 232.3,208.79 232.8,208.85 233.3,208.91 233.8,208.96 234.3,209.02 234.8,209.07 235.3,209.12 235.8,209.17 236.3,209.22 236.8,209.27 237.3,209.31 237.8,209.35 238.3,209.4 238.8,209.44 239.3,209.47 239.8,209.51 240.3,209.54 240.8,209.58 241.3,209.61 241.8,209.64 242.3,209.67 242.8,209.7 243.3,209.72 243.8,209.75 244.3,209.77 244.8,209.79 245.3,209.81 245.8,209.83 246.3,209.85 246.8,209.87 247.3,209.89 247.8,209.91 248.3,209.93 248.8,209.95 249.3,209.96 249.8,209.98 250.3,210 250.8,210.01 251.3,210.03 251.8,210.05 252.3,210.06 252.8,210.07 253.3,210.09 253.8,210.1 254.3,210.11 254.8,210.12 255.3,210.14 255.8,210.15 256.3,210.16 256.8,210.16 257.3,210.17 257.8,210.18 258.3,210.19 258.8,210.19 259.3,210.2 259.8,210.2 260.3,210.2 260.8,210.2 261.3,210.21 261.8,210.21 262.3,210.21 262.8,210.21 263.3,210.22 263.8,210.22 264.3,210.22 264.8,210.22 265.3,210.23 265.8,210.23 266.3,210.23 266.8,210.23 267.3,210.23 267.8,210.24 268.3,210.24 268.8,210.24 269.3,210.24 269.8,210.25 270.3,210.25 270.8,210.25 271.3,210.25 271.8,210.25 272.3,210.25 272.8,210.26 273.3,210.26 273.8,210.26 274.3,210.26 274.8,210.26 275.3,210.26 275.8,210.27 276.3,210.27 276.8,210.27 277.3,210.27 277.8,210.27 278.3,210.27 278.8,210.27 279.3,210.28 279.8,210.28 280.3,210.28 280.8,210.28 281.3,210.28 281.8,210.28 282.3,210.28 282.8,210.28 283.3,210.28 283.8,210.29 284.3,210.29 284.8,210.29 285.3,210.29 285.8,210.29 286.3,210.29 286.8,210.29 287.3,210.29 287.8,210.29 288.3,210.29 288.8,210.29 289.3,210.29 289.8,210.29 290.3,210.3 290.8,210.3 291.3,210.3 291.8,210.3 292.3,210.3 292.8,210.3 293.3,210.3 293.8,210.3 294.3,210.3 294.8,210.3 295.3,210.3 295.8,210.3 296.3,210.3 296.8,210.3 297.3,210.3" fill="none" stroke="#000" stroke-width="0.8" stroke-linejoin="round"/>
<polyline points="150.3,175.17 150.8,174.87 151.3,174.58 151.8,174.31 152.3,174.04 152.8,173.77 153.3,173.48 153.8,173.2 154.3,172.92 154.8,172.64 155.3,172.38 155.8,172.14 156.3,171.92 156.8,171.73 157.3,171.58 157.8,171.47 158.3,171.41 158.8,171.38 159.3,171.35 159.8,171.33 160.3,171.3 160.8,171.28 161.3,171.27 161.8,171.25 162.3,171.24 162.8,171.22 163.3,171.21 163.8,171.21 164.3,171.2 164.8,171.2 165.3,171.21 165.8,171.26 166.3,171.36 166.8,171.48 167.3,171.64 167.8,171.82 168.3,172.01 168.8,172.22 169.3,172.42 169.8,172.62 170.3,172.82 170.8,173.03 171.3,173.27 171.8,173.51 172.3,173.78 172.8,174.05 173.3,174.34 173.8,174.63 174.3,174.94 174.8,175.25 175.3,175.56 175.8,175.87 176.3,176.19 176.8,176.52 177.3,176.87 177.8,177.22 178.3,177.59 178.8,177.96 179.3,178.34 179.8,178.72 180.3,179.11 180.8,179.5 181.3,179.89 181.8,180.28 182.3,180.68 182.8,181.09 183.3,181.5 183.8,181.93 184.3,182.35 184.8,182.78 185.3,183.19 185.8,183.6 186.3,183.99 186.8,184.36 187.3,184.71 187.8,185.05 188.3,185.37 188.8,185.69 189.3,185.99 189.8,186.3 190.3,186.59 190.8,186.89 191.3,187.18 191.8,187.47 192.3,187.77 192.8,188.07 193.3,188.38 193.8,188.69 194.3,189 194.8,189.31 195.3,189.63 195.8,189.94 196.3,190.26 196.8,190.58 197.3,190.89 197.8,191.22 198.3,191.54 198.8,191.87 199.3,192.2 199.8,192.54 200.3,192.88 200.8,193.23 201.3,193.58 201.8,193.94 202.3,194.29 202.8,194.64 203.3,194.99 203.8,195.34 204.3,195.68 204.8,196.01 205.3,196.33 205.8,196.64 206.3,196.96 206.8,197.27 207.3,197.57 207.8,197.87 208.3,198.17 208.8,198.47 209.3,198.76 209.8,199.04 210.3,199.33 210.8,199.61 211.3,199.9 211.8,200.18 212.3,200.46 212.8,200.74 213.3,201.01 213.8,201.27 214.3,201.52 214.8,201.76 215.3,201.97 215.8,202.19 216.3,202.39 216.8,202.58 217.3,202.77 217.8,202.96 218.3,203.14 218.8,203.32 219.3,203.49 219.8,203.66 220.3,203.83 220.8,204 221.3,204.17 221.8,204.34 222.3,204.51 222.8,204.67 223.3,204.84 223.8,205 224.3,205.15 224.8,205.31 225.3,205.45 225.8,205.59 226.3,205.72 226.8,205.85 227.3,205.97 227.8,206.1 228.3,206.22 228.8,206.33 229.3,206.45 229.8,206.56 230.3,206.66 230.8,206.75 231.3,206.84 231.8,206.92 232.3,206.99 232.8,207.05 233.3,207.11 233.8,207.16 234.3,207.22 234.8,207.27 235.3,207.32 235.8,207.37 236.3,207.42 236.8,207.47 237.3,207.51 237.8,207.55 238.3,207.6 238.8,207.64 239.3,207.67 239.8,207.71 240.3,207.74 240.8,207.78 241.3,207.81 241.8,207.84 242.3,207.87 242.8,207.9 243.3,207.92 243.8,207.95 244.3,207.97 244.8,207.99 245.3,208.01 245.8,208.03 246.3,208.05 246.8,208.07 247.3,208.09 247.8,208.11 248.3,208.13 248.8,208.15 249.3,208.16 249.8,208.18 250.3,208.2 250.8,208.21 251.3,208.23 251.8,208.25 252.3,208.26 252.8,208.27 253.3,208.29 253.8,208.3 254.3,208.31 254.8,208.32 255.3,208.34 255.8,208.35 256.3,208.36 256.8,208.36 257.3,208.37 257.8,208.38 258.3,208.39 258.8,208.39 259.3,208.4 259.8,208.4 260.3,208.4 260.8,208.4 261.3,208.41 261.8,208.41 262.3,208.41 262.8,208.41 263.3,208.42 263.8,208.42 264.3,208.42 264.8,208.42 265.3,208.43 265.8,208.43 266.3,208.43 266.8,208.43 267.3,208.43 267.8,208.44 268.3,208.44 268.8,208.44 269.3,208.44 269.8,208.45 270.3,208.45 270.8,208.45 271.3,208.45 271.8,208.45 272.3,208.45 272.8,208.46 273.3,208.46 273.8,208.46 274.3,208.46 274.8,208.46 275.3,208.46 275.8,208.47 276.3,208.47 276.8,208.47 277.3,208.47 277.8,208.47 278.3,208.47 278.8,208.47 279.3,208.48 279.8,208.48 280.3,208.48 280.8,208.48 281.3,208.48 281.8,208.48 282.3,208.48 282.8,208.48 283.3,208.48 283.8,208.49 284.3,208.49 284.8,208.49 285.3,208.49 285.8,208.49 286.3,208.49 286.8,208.49 287.3,208.49 287.8,208.49 288.3,208.49 288.8,208.49 289.3,208.49 289.8,208.49 290.3,208.5 290.8,208.5 291.3,208.5 291.8,208.5 292.3,208.5 292.8,208.5 293.3,208.5 293.8,208.5 294.3,208.5 294.8,208.5 295.3,208.5 295.8,208.5 296.3,208.5 296.8,208.5 297.3,208.5" fill="none" stroke="#222" stroke-width="0.7" stroke-linejoin="round"/>
<line x1="126" y1="165" x2="126" y2="176" stroke="#aaa" stroke-width="0.7" stroke-linecap="butt"/>
<line x1="124.2" y1="165" x2="127.8" y2="165" stroke="#aaa" stroke-width="0.7" stroke-linecap="butt"/>
<line x1="124.2" y1="176" x2="127.8" y2="176" stroke="#aaa" stroke-width="0.7" stroke-linecap="butt"/>
<line x1="130.7" y1="149" x2="130.7" y2="158" stroke="#aaa" stroke-width="0.7" stroke-linecap="butt"/>
<line x1="128.9" y1="149" x2="132.5" y2="149" stroke="#aaa" stroke-width="0.7" stroke-linecap="butt"/>
<line x1="128.9" y1="158" x2="132.5" y2="158" stroke="#aaa" stroke-width="0.7" stroke-linecap="butt"/>
<line x1="135.2" y1="125" x2="135.2" y2="137" stroke="#aaa" stroke-width="0.7" stroke-linecap="butt"/>
<line x1="133.4" y1="125" x2="137" y2="125" stroke="#aaa" stroke-width="0.7" stroke-linecap="butt"/>
<line x1="133.4" y1="137" x2="137" y2="137" stroke="#aaa" stroke-width="0.7" stroke-linecap="butt"/>
<line x1="138.9" y1="100" x2="138.9" y2="111" stroke="#aaa" stroke-width="0.7" stroke-linecap="butt"/>
<line x1="137.1" y1="100" x2="140.7" y2="100" stroke="#aaa" stroke-width="0.7" stroke-linecap="butt"/>
<line x1="137.1" y1="111" x2="140.7" y2="111" stroke="#aaa" stroke-width="0.7" stroke-linecap="butt"/>
<line x1="143.6" y1="72" x2="143.6" y2="84" stroke="#aaa" stroke-width="0.7" stroke-linecap="butt"/>
<line x1="141.8" y1="72" x2="145.4" y2="72" stroke="#aaa" stroke-width="0.7" stroke-linecap="butt"/>
<line x1="141.8" y1="84" x2="145.4" y2="84" stroke="#aaa" stroke-width="0.7" stroke-linecap="butt"/>
<line x1="147.8" y1="52" x2="147.8" y2="63" stroke="#aaa" stroke-width="0.7" stroke-linecap="butt"/>
<line x1="146" y1="52" x2="149.6" y2="52" stroke="#aaa" stroke-width="0.7" stroke-linecap="butt"/>
<line x1="146" y1="63" x2="149.6" y2="63" stroke="#aaa" stroke-width="0.7" stroke-linecap="butt"/>
<line x1="152.1" y1="43" x2="152.1" y2="53" stroke="#aaa" stroke-width="0.7" stroke-linecap="butt"/>
<line x1="150.3" y1="43" x2="153.9" y2="43" stroke="#aaa" stroke-width="0.7" stroke-linecap="butt"/>
<line x1="150.3" y1="53" x2="153.9" y2="53" stroke="#aaa" stroke-width="0.7" stroke-linecap="butt"/>
<line x1="156.8" y1="44" x2="156.8" y2="57" stroke="#aaa" stroke-width="0.7" stroke-linecap="butt"/>
<line x1="155" y1="44" x2="158.6" y2="44" stroke="#aaa" stroke-width="0.7" stroke-linecap="butt"/>
<line x1="155" y1="57" x2="158.6" y2="57" stroke="#aaa" stroke-width="0.7" stroke-linecap="butt"/>
<line x1="161.7" y1="57" x2="161.7" y2="81" stroke="#aaa" stroke-width="0.7" stroke-linecap="butt"/>
<line x1="159.9" y1="57" x2="163.5" y2="57" stroke="#aaa" stroke-width="0.7" stroke-linecap="butt"/>
<line x1="159.9" y1="81" x2="163.5" y2="81" stroke="#aaa" stroke-width="0.7" stroke-linecap="butt"/>
<line x1="166.3" y1="94" x2="166.3" y2="110" stroke="#aaa" stroke-width="0.7" stroke-linecap="butt"/>
<line x1="164.5" y1="94" x2="168.1" y2="94" stroke="#aaa" stroke-width="0.7" stroke-linecap="butt"/>
<line x1="164.5" y1="110" x2="168.1" y2="110" stroke="#aaa" stroke-width="0.7" stroke-linecap="butt"/>
<line x1="170.7" y1="131" x2="170.7" y2="147" stroke="#aaa" stroke-width="0.7" stroke-linecap="butt"/>
<line x1="168.9" y1="131" x2="172.5" y2="131" stroke="#aaa" stroke-width="0.7" stroke-linecap="butt"/>
<line x1="168.9" y1="147" x2="172.5" y2="147" stroke="#aaa" stroke-width="0.7" stroke-linecap="butt"/>
<rect x="66.75" y="209.99" width="5" height="5" fill="#000"/>
<rect x="71.1" y="209.91" width="5" height="5" fill="#000"/>
<rect x="75.45" y="209.78" width="5" height="5" fill="#000"/>
<rect x="79.81" y="209.55" width="5" height="5" fill="#000"/>
<rect x="84.18" y="209.15" width="5" height="5" fill="#000"/>
<rect x="88.55" y="208.46" width="5" height="5" fill="#000"/>
<rect x="92.93" y="207.26" width="5" height="5" fill="#000"/>
<rect x="97.31" y="205.19" width="5" height="5" fill="#000"/>
<rect x="101.7" y="200.4" width="5" height="5" fill="#000"/>
<rect x="105.8" y="198" width="5" height="5" fill="#000"/>
<rect x="110" y="194.6" width="5" height="5" fill="#000"/>
<rect x="114.3" y="188.5" width="5" height="5" fill="#000"/>
<rect x="118.9" y="178.6" width="5" height="5" fill="#000"/>
<rect x="123.1" y="168.3" width="5" height="5" fill="#000"/>
<rect x="127.8" y="151.5" width="5" height="5" fill="#000"/>
<rect x="132.3" y="128.5" width="5" height="5" fill="#000"/>
<rect x="136" y="103" width="5" height="5" fill="#000"/>
<rect x="140.7" y="75.8" width="5" height="5" fill="#000"/>
<rect x="144.9" y="54.9" width="5" height="5" fill="#000"/>
<rect x="149.2" y="44.9" width="5" height="5" fill="#000"/>
<rect x="153.9" y="48" width="5" height="5" fill="#000"/>
<rect x="158.8" y="66.9" width="5" height="5" fill="#000"/>
<rect x="163.4" y="99.1" width="5" height="5" fill="#000"/>
<rect x="167.8" y="136.8" width="5" height="5" fill="#000"/>
<rect x="172.4" y="171.3" width="5" height="5" fill="#000"/>
<rect x="176.9" y="190" width="5" height="5" fill="#000"/>
<rect x="181.8" y="198" width="5" height="5" fill="#000"/>
<rect x="187" y="201.5" width="5" height="5" fill="#000"/>
<rect x="192" y="203.5" width="5" height="5" fill="#000"/>
<rect x="197" y="204.8" width="5" height="5" fill="#000"/>
<rect x="202" y="205.8" width="5" height="5" fill="#000"/>
<rect x="207" y="206.5" width="5" height="5" fill="#000"/>
<rect x="212" y="207.1" width="5" height="5" fill="#000"/>
<rect x="217.67" y="209.9" width="5" height="5" fill="#000"/>
<rect x="223.45" y="209.9" width="5" height="5" fill="#000"/>
<rect x="229.33" y="209.9" width="5" height="5" fill="#000"/>
<rect x="235.33" y="209.9" width="5" height="5" fill="#000"/>
<rect x="241.45" y="209.9" width="5" height="5" fill="#000"/>
<rect x="247.7" y="209.9" width="5" height="5" fill="#000"/>
<rect x="254.09" y="209.9" width="5" height="5" fill="#000"/>
<rect x="260.6" y="209.9" width="5" height="5" fill="#000"/>
<rect x="267.26" y="209.9" width="5" height="5" fill="#000"/>
<rect x="274.05" y="209.9" width="5" height="5" fill="#000"/>
<rect x="280.9" y="209.9" width="5" height="5" fill="#000"/>
<rect x="287.79" y="209.9" width="5" height="5" fill="#000"/>
</g>
<rect x="59.3" y="17.1" width="240.3" height="194.3" fill="none" stroke="#000" stroke-width="1.6"/>
<line x1="55" y1="211.4" x2="59.3" y2="211.4" stroke="#000" stroke-width="1.2" stroke-linecap="butt"/>
<line x1="56.5" y1="187.11" x2="59.3" y2="187.11" stroke="#000" stroke-width="1.2" stroke-linecap="butt"/>
<line x1="55" y1="162.82" x2="59.3" y2="162.82" stroke="#000" stroke-width="1.2" stroke-linecap="butt"/>
<line x1="56.5" y1="138.54" x2="59.3" y2="138.54" stroke="#000" stroke-width="1.2" stroke-linecap="butt"/>
<line x1="55" y1="114.25" x2="59.3" y2="114.25" stroke="#000" stroke-width="1.2" stroke-linecap="butt"/>
<line x1="56.5" y1="89.96" x2="59.3" y2="89.96" stroke="#000" stroke-width="1.2" stroke-linecap="butt"/>
<line x1="55" y1="65.67" x2="59.3" y2="65.67" stroke="#000" stroke-width="1.2" stroke-linecap="butt"/>
<line x1="56.5" y1="41.39" x2="59.3" y2="41.39" stroke="#000" stroke-width="1.2" stroke-linecap="butt"/>
<line x1="55" y1="17.1" x2="59.3" y2="17.1" stroke="#000" stroke-width="1.2" stroke-linecap="butt"/>
<text x="52.2" y="20.6" font-size="10" text-anchor="end" fill="#000">1,00E7</text>
<text x="52.2" y="69.17" font-size="10" text-anchor="end" fill="#000">7,50E6</text>
<text x="52.2" y="117.75" font-size="10" text-anchor="end" fill="#000">5,00E6</text>
<text x="52.2" y="166.32" font-size="10" text-anchor="end" fill="#000">2,50E6</text>
<text x="52.2" y="214.9" font-size="10" text-anchor="end" fill="#000">0,00</text>
<line x1="59.43" y1="211.4" x2="59.43" y2="213.6" stroke="#000" stroke-width="1.2" stroke-linecap="butt"/>
<line x1="65.01" y1="211.4" x2="65.01" y2="213.6" stroke="#000" stroke-width="1.2" stroke-linecap="butt"/>
<line x1="70" y1="211.4" x2="70" y2="214.6" stroke="#000" stroke-width="1.2" stroke-linecap="butt"/>
<line x1="102.84" y1="211.4" x2="102.84" y2="213.6" stroke="#000" stroke-width="1.2" stroke-linecap="butt"/>
<line x1="122.05" y1="211.4" x2="122.05" y2="213.6" stroke="#000" stroke-width="1.2" stroke-linecap="butt"/>
<line x1="135.68" y1="211.4" x2="135.68" y2="213.6" stroke="#000" stroke-width="1.2" stroke-linecap="butt"/>
<line x1="146.26" y1="211.4" x2="146.26" y2="213.6" stroke="#000" stroke-width="1.2" stroke-linecap="butt"/>
<line x1="154.9" y1="211.4" x2="154.9" y2="213.6" stroke="#000" stroke-width="1.2" stroke-linecap="butt"/>
<line x1="162.2" y1="211.4" x2="162.2" y2="213.6" stroke="#000" stroke-width="1.2" stroke-linecap="butt"/>
<line x1="168.53" y1="211.4" x2="168.53" y2="213.6" stroke="#000" stroke-width="1.2" stroke-linecap="butt"/>
<line x1="174.11" y1="211.4" x2="174.11" y2="213.6" stroke="#000" stroke-width="1.2" stroke-linecap="butt"/>
<line x1="179.1" y1="211.4" x2="179.1" y2="214.6" stroke="#000" stroke-width="1.2" stroke-linecap="butt"/>
<line x1="211.94" y1="211.4" x2="211.94" y2="213.6" stroke="#000" stroke-width="1.2" stroke-linecap="butt"/>
<line x1="231.15" y1="211.4" x2="231.15" y2="213.6" stroke="#000" stroke-width="1.2" stroke-linecap="butt"/>
<line x1="244.78" y1="211.4" x2="244.78" y2="213.6" stroke="#000" stroke-width="1.2" stroke-linecap="butt"/>
<line x1="255.36" y1="211.4" x2="255.36" y2="213.6" stroke="#000" stroke-width="1.2" stroke-linecap="butt"/>
<line x1="264" y1="211.4" x2="264" y2="213.6" stroke="#000" stroke-width="1.2" stroke-linecap="butt"/>
<line x1="271.3" y1="211.4" x2="271.3" y2="213.6" stroke="#000" stroke-width="1.2" stroke-linecap="butt"/>
<line x1="277.63" y1="211.4" x2="277.63" y2="213.6" stroke="#000" stroke-width="1.2" stroke-linecap="butt"/>
<line x1="283.21" y1="211.4" x2="283.21" y2="213.6" stroke="#000" stroke-width="1.2" stroke-linecap="butt"/>
<line x1="288.2" y1="211.4" x2="288.2" y2="214.6" stroke="#000" stroke-width="1.2" stroke-linecap="butt"/>
<text x="70" y="223.8" font-size="9" text-anchor="middle" fill="#000">10</text>
<text x="179.1" y="223.8" font-size="9" text-anchor="middle" fill="#000">100</text>
<text x="288.2" y="223.8" font-size="9" text-anchor="middle" fill="#000">1000</text>
<text x="176.35" y="9.9" font-size="11.3" text-anchor="middle" textLength="47.9" lengthAdjust="spacingAndGlyphs" fill="#000">B0, 40°C</text>
<text x="182.7" y="236" font-size="12.2" text-anchor="middle" textLength="46" lengthAdjust="spacingAndGlyphs" fill="#000">Dp (nm)</text>
<text transform="translate(12.3 120.2) rotate(-90)" font-size="12.5" text-anchor="middle">dN/dlogDp (cm<tspan font-size="8.4" dy="-4.6">-3</tspan><tspan dy="4.6">)</tspan></text>
<rect x="199" y="27.5" width="5" height="5" fill="#000"/>
<text x="210.1" y="31.9" font-size="9.7" fill="#000">em #1</text>
<circle cx="201.5" cy="42.6" r="2.7" fill="#000"/>
<text x="210.1" y="44.2" font-size="9.7" fill="#000">em #2</text>
<polygon points="201.5,52.1 202.22,54.01 204.26,54.1 202.66,55.38 203.2,57.35 201.5,56.22 199.8,57.35 200.34,55.38 198.74,54.1 200.78,54.01" fill="#fff" stroke="#222" stroke-width="0.7"/>
<text x="210.1" y="56.8" font-size="9.7" fill="#000">em #3</text>
<text x="199.6" y="69.6" font-size="9.9" textLength="96.9" lengthAdjust="spacingAndGlyphs" fill="#000">- Sub mods of em #1</text>
<clipPath id="c2"><rect x="413.8" y="17.1" width="234.2" height="189.3"/></clipPath><g clip-path="url(#c2)">
<polygon points="523,174.83 523.5,175.36 524,175.9 524.5,176.43 525,176.97 525.5,177.5 526,178.02 526.5,178.54 527,179.04 527.5,179.53 528,180 528.5,180.46 529,180.92 529.5,181.37 530,181.81 530.5,182.25 531,182.69 531.5,183.11 532,183.53 532.5,183.94 533,184.34 533.5,184.74 534,185.12 534.5,185.49 535,185.86 535.5,186.21 536,186.55 536.5,186.87 537,187.19 537.5,187.5 538,187.8 538.5,188.1 539,188.4 539.5,188.7 540,189 540.5,189.31 541,189.61 541.5,189.92 542,190.23 542.5,190.53 543,190.84 543.5,191.14 544,191.44 544.5,191.74 545,192.04 545.5,192.33 546,192.63 546.5,192.92 547,193.21 547.5,193.5 548,193.8 548.5,194.09 549,194.39 549.5,194.67 550,194.96 550.5,195.23 551,195.5 551.5,195.75 552,196 552.5,196.24 553,196.47 553.5,196.69 554,196.92 554.5,197.13 555,197.34 555.5,197.55 556,197.76 556.5,197.96 557,198.16 557.5,198.35 558,198.54 558.5,198.74 559,198.92 559.5,199.11 560,199.3 560.5,199.49 561,199.67 561.5,199.85 562,200.02 562.5,200.2 563,200.37 563.5,200.54 564,200.71 564.5,200.88 565,201.05 565.5,201.21 566,201.37 566.5,201.54 567,201.7 567.5,201.86 568,202.03 568.5,202.2 569,202.37 569.5,202.55 570,202.72 570.5,202.89 571,203.05 571.5,203.21 572,203.37 572.5,203.51 573,203.65 573.5,203.78 574,203.9 574.5,204 575,204.1 575.5,204.19 575.5,206.4 575,206.4 574.5,206.4 574,206.4 573.5,206.4 573,206.4 572.5,206.4 572,206.4 571.5,206.4 571,206.4 570.5,206.4 570,206.4 569.5,206.4 569,206.4 568.5,206.4 568,206.4 567.5,206.4 567,206.4 566.5,206.4 566,206.4 565.5,206.4 565,206.4 564.5,206.4 564,206.4 563.5,206.4 563,206.4 562.5,206.4 562,206.4 561.5,206.4 561,206.4 560.5,206.4 560,206.4 559.5,206.4 559,206.4 558.5,206.4 558,206.4 557.5,206.4 557,206.4 556.5,206.4 556,206.4 555.5,206.4 555,206.4 554.5,206.4 554,206.4 553.5,206.4 553,206.4 552.5,206.4 552,206.4 551.5,206.4 551,206.4 550.5,206.4 550,206.4 549.5,206.4 549,206.4 548.5,206.4 548,206.4 547.5,206.4 547,206.4 546.5,206.4 546,206.4 545.5,206.4 545,206.4 544.5,206.4 544,206.4 543.5,196.64 543,196.34 542.5,196.03 542,195.73 541.5,195.42 541,195.11 540.5,194.81 540,194.5 539.5,194.2 539,193.9 538.5,193.6 538,193.3 537.5,193 537,192.69 536.5,192.37 536,192.05 535.5,191.71 535,191.36 534.5,190.99 534,190.62 533.5,190.24 533,189.84 532.5,189.44 532,189.03 531.5,188.61 531,188.19 530.5,187.75 530,187.31 529.5,186.87 529,186.42 528.5,185.96 528,185.5 527.5,185.03 527,184.54 526.5,184.04 526,183.52 525.5,183 525,182.47 524.5,181.93 524,181.4 523.5,180.86 523,180.33" fill="#000"/>
<rect x="522.4" y="179.9" width="6.2" height="6.2" fill="#000"/>
<rect x="527.4" y="191.7" width="6.2" height="6.2" fill="#000"/>
<rect x="531.9" y="196.1" width="6.2" height="6.2" fill="#000"/>
<rect x="536.4" y="198.7" width="6.2" height="6.2" fill="#000"/>
<rect x="540.4" y="200.2" width="6.2" height="6.2" fill="#000"/>
<polyline points="414.8,205.32 415.3,205.27 415.8,205.22 416.3,205.17 416.8,205.12 417.3,205.07 417.8,205.02 418.3,204.97 418.8,204.91 419.3,204.86 419.8,204.81 420.3,204.75 420.8,204.7 421.3,204.64 421.8,204.58 422.3,204.53 422.8,204.47 423.3,204.41 423.8,204.36 424.3,204.3 424.8,204.24 425.3,204.18 425.8,204.12 426.3,204.06 426.8,204 427.3,203.94 427.8,203.87 428.3,203.81 428.8,203.75 429.3,203.69 429.8,203.63 430.3,203.56 430.8,203.5 431.3,203.43 431.8,203.37 432.3,203.3 432.8,203.24 433.3,203.17 433.8,203.1 434.3,203.03 434.8,202.96 435.3,202.89 435.8,202.82 436.3,202.75 436.8,202.68 437.3,202.61 437.8,202.53 438.3,202.46 438.8,202.38 439.3,202.31 439.8,202.23 440.3,202.15 440.8,202.08 441.3,202 441.8,201.93 442.3,201.86 442.8,201.79 443.3,201.71 443.8,201.64 444.3,201.57 444.8,201.5 445.3,201.42 445.8,201.35 446.3,201.28 446.8,201.2 447.3,201.12 447.8,201.04 448.3,200.96 448.8,200.88 449.3,200.8 449.8,200.71 450.3,200.62 450.8,200.52 451.3,200.43 451.8,200.33 452.3,200.23 452.8,200.12 453.3,200.01 453.8,199.89 454.3,199.77 454.8,199.65 455.3,199.52 455.8,199.38 456.3,199.22 456.8,199.04 457.3,198.86 457.8,198.66 458.3,198.46 458.8,198.24 459.3,198.02 459.8,197.79 460.3,197.55 460.8,197.31 461.3,197.06 461.8,196.81 462.3,196.56 462.8,196.31 463.3,196.05 463.8,195.8 464.3,195.55 464.8,195.3 465.3,195.05 465.8,194.8 466.3,194.54 466.8,194.28 467.3,194.01 467.8,193.74 468.3,193.46 468.8,193.18 469.3,192.9 469.8,192.62 470.3,192.33 470.8,192.04 471.3,191.75 471.8,191.46 472.3,191.17 472.8,190.88 473.3,190.59 473.8,190.3 474.3,190 474.8,189.72 475.3,189.43 475.8,189.13 476.3,188.84 476.8,188.54 477.3,188.23 477.8,187.92 478.3,187.62 478.8,187.3 479.3,186.99 479.8,186.68 480.3,186.36 480.8,186.05 481.3,185.74 481.8,185.42 482.3,185.11 482.8,184.8 483.3,184.5 483.8,184.19 484.3,183.89 484.8,183.59 485.3,183.3 485.8,183.01 486.3,182.73 486.8,182.45 487.3,182.18 487.8,181.91 488.3,181.65 488.8,181.4 489.3,181.15 489.8,180.91 490.3,180.67 490.8,180.43 491.3,180.2 491.8,179.97 492.3,179.74 492.8,179.51 493.3,179.29 493.8,179.07 494.3,178.85 494.8,178.64 495.3,178.43 495.8,178.22 496.3,178.02 496.8,177.82 497.3,177.62 497.8,177.42 498.3,177.23 498.8,177.04 499.3,176.85 499.8,176.67 500.3,176.49 500.8,176.29 501.3,176.09 501.8,175.89 502.3,175.69 502.8,175.5 503.3,175.33 503.8,175.19 504.3,175.08 504.8,175.02 505.3,174.98 505.8,174.96 506.3,174.93 506.8,174.91 507.3,174.89 507.8,174.87 508.3,174.85 508.8,174.84 509.3,174.83 509.8,174.82 510.3,174.81 510.8,174.8 511.3,174.8 511.8,174.8 512.3,174.82 512.8,174.85 513.3,174.89 513.8,174.94 514.3,175.01 514.8,175.09 515.3,175.18 515.8,175.27 516.3,175.37 516.8,175.48 517.3,175.59 517.8,175.7 518.3,175.81 518.8,175.93 519.3,176.04 519.8,176.16 520.3,176.27 520.8,176.39 521.3,176.52 521.8,176.66 522.3,176.8 522.8,176.96 523.3,177.12 523.8,177.28 524.3,177.45 524.8,177.63 525.3,177.81 525.8,177.99 526.3,178.17 526.8,178.35 527.3,178.54 527.8,178.72 528.3,178.9 528.8,179.08 529.3,179.26 529.8,179.43 530.3,179.6 530.8,179.77 531.3,179.93 531.8,180.1 532.3,180.26 532.8,180.42 533.3,180.58 533.8,180.74 534.3,180.9 534.8,181.07 535.3,181.23 535.8,181.4 536.3,181.58 536.8,181.75 537.3,181.93 537.8,182.12 538.3,182.31 538.8,182.5 539.3,182.7 539.8,182.91 540.3,183.13 540.8,183.36 541.3,183.61 541.8,183.87 542.3,184.13 542.8,184.41 543.3,184.7 543.8,184.99 544.3,185.28 544.8,185.59 545.3,185.89 545.8,186.19 546.3,186.5 546.8,186.8 547.3,187.1 547.8,187.39 548.3,187.68 548.8,187.97 549.3,188.24 549.8,188.51 550.3,188.77 550.8,189.03 551.3,189.29 551.8,189.55 552.3,189.8 552.8,190.06 553.3,190.31 553.8,190.56 554.3,190.81 554.8,191.06 555.3,191.31 555.8,191.55 556.3,191.8 556.8,192.04 557.3,192.28 557.8,192.53 558.3,192.77 558.8,193.01 559.3,193.24 559.8,193.48 560.3,193.72 560.8,193.95 561.3,194.19 561.8,194.43 562.3,194.67 562.8,194.92 563.3,195.16 563.8,195.41 564.3,195.66 564.8,195.9 565.3,196.15 565.8,196.39 566.3,196.63 566.8,196.87 567.3,197.1 567.8,197.33 568.3,197.55 568.8,197.77 569.3,197.98 569.8,198.18 570.3,198.38 570.8,198.56 571.3,198.74 571.8,198.91 572.3,199.06 572.8,199.21 573.3,199.36 573.8,199.51 574.3,199.65 574.8,199.79 575.3,199.93 575.8,200.06 576.3,200.19 576.8,200.31 577.3,200.43 577.8,200.55 578.3,200.66 578.8,200.77 579.3,200.87 579.8,200.97 580.3,201.06 580.8,201.14 581.3,201.22 581.8,201.3 582.3,201.37 582.8,201.44 583.3,201.51 583.8,201.58 584.3,201.65 584.8,201.71 585.3,201.78 585.8,201.84 586.3,201.9 586.8,201.96 587.3,202.02 587.8,202.07 588.3,202.13 588.8,202.18 589.3,202.23 589.8,202.27 590.3,202.32 590.8,202.36 591.3,202.4 591.8,202.44 592.3,202.47 592.8,202.51 593.3,202.54 593.8,202.56 594.3,202.59 594.8,202.61 595.3,202.63 595.8,202.65 596.3,202.67 596.8,202.69 597.3,202.71 597.8,202.72 598.3,202.74 598.8,202.76 599.3,202.78 599.8,202.79 600.3,202.81 600.8,202.83 601.3,202.84 601.8,202.86 602.3,202.88 602.8,202.89 603.3,202.9 603.8,202.92 604.3,202.93 604.8,202.95 605.3,202.96 605.8,202.97 606.3,202.99 606.8,203 607.3,203.01 607.8,203.02 608.3,203.03 608.8,203.04 609.3,203.05 609.8,203.06 610.3,203.07 610.8,203.08 611.3,203.09 611.8,203.1 612.3,203.11 612.8,203.12 613.3,203.13 613.8,203.13 614.3,203.14 614.8,203.15 615.3,203.15 615.8,203.16 616.3,203.17 616.8,203.17 617.3,203.18 617.8,203.18 618.3,203.19 618.8,203.19 619.3,203.2 619.8,203.2 620.3,203.2 620.8,203.21 621.3,203.21 621.8,203.21 622.3,203.21 622.8,203.22 623.3,203.22 623.8,203.22 624.3,203.23 624.8,203.23 625.3,203.23 625.8,203.24 626.3,203.24 626.8,203.24 627.3,203.24 627.8,203.25 628.3,203.25 628.8,203.25 629.3,203.25 629.8,203.26 630.3,203.26 630.8,203.26 631.3,203.26 631.8,203.27 632.3,203.27 632.8,203.27 633.3,203.27 633.8,203.27 634.3,203.28 634.8,203.28 635.3,203.28 635.8,203.28 636.3,203.28 636.8,203.29 637.3,203.29 637.8,203.29 638.3,203.29 638.8,203.29 639.3,203.29 639.8,203.29 640.3,203.29 640.8,203.3 641.3,203.3 641.8,203.3 642.3,203.3 642.8,203.3 643.3,203.3 643.8,203.3 644.3,203.3 644.8,203.3 645.3,203.3 645.8,203.3" fill="none" stroke="#000" stroke-width="0.9" stroke-linejoin="round"/>
<polyline points="414.8,207.5 415.3,207.5 415.8,207.5 416.3,207.5 416.8,207.5 417.3,207.49 417.8,207.49 418.3,207.48 418.8,207.48 419.3,207.47 419.8,207.46 420.3,207.44 420.8,207.43 421.3,207.42 421.8,207.4 422.3,207.38 422.8,207.36 423.3,207.35 423.8,207.33 424.3,207.3 424.8,207.28 425.3,207.26 425.8,207.23 426.3,207.21 426.8,207.18 427.3,207.16 427.8,207.13 428.3,207.1 428.8,207.07 429.3,207.04 429.8,207.01 430.3,206.98 430.8,206.94 431.3,206.9 431.8,206.84 432.3,206.78 432.8,206.72 433.3,206.65 433.8,206.57 434.3,206.49 434.8,206.4 435.3,206.31 435.8,206.22 436.3,206.12 436.8,206.02 437.3,205.91 437.8,205.8 438.3,205.69 438.8,205.58 439.3,205.46 439.8,205.35 440.3,205.23 440.8,205.1 441.3,204.95 441.8,204.8 442.3,204.63 442.8,204.46 443.3,204.27 443.8,204.09 444.3,203.89 444.8,203.69 445.3,203.49 445.8,203.29 446.3,203.09 446.8,202.88 447.3,202.68 447.8,202.48 448.3,202.28 448.8,202.08 449.3,201.88 449.8,201.68 450.3,201.48 450.8,201.28 451.3,201.07 451.8,200.86 452.3,200.64 452.8,200.42 453.3,200.2 453.8,199.97 454.3,199.74 454.8,199.5 455.3,199.25 455.8,199 456.3,198.75 456.8,198.48 457.3,198.21 457.8,197.93 458.3,197.65 458.8,197.35 459.3,197.05 459.8,196.73 460.3,196.4 460.8,196.06 461.3,195.7 461.8,195.33 462.3,194.95 462.8,194.56 463.3,194.16 463.8,193.75 464.3,193.33 464.8,192.9 465.3,192.47 465.8,192.04 466.3,191.6 466.8,191.15 467.3,190.7 467.8,190.23 468.3,189.75 468.8,189.26 469.3,188.76 469.8,188.26 470.3,187.75 470.8,187.24 471.3,186.72 471.8,186.2 472.3,185.68 472.8,185.16 473.3,184.64 473.8,184.13 474.3,183.61 474.8,183.1 475.3,182.6 475.8,182.09 476.3,181.58 476.8,181.05 477.3,180.52 477.8,179.99 478.3,179.45 478.8,178.92 479.3,178.39 479.8,177.87 480.3,177.35 480.8,176.85 481.3,176.37 481.8,175.9 482.3,175.45 482.8,175.02 483.3,174.62 483.8,174.23 484.3,173.85 484.8,173.47 485.3,173.1 485.8,172.74 486.3,172.38 486.8,172.03 487.3,171.69 487.8,171.35 488.3,171.02 488.8,170.7 489.3,170.39 489.8,170.08 490.3,169.78 490.8,169.49 491.3,169.21 491.8,168.93 492.3,168.66 492.8,168.4 493.3,168.14 493.8,167.9 494.3,167.66 494.8,167.41 495.3,167.15 495.8,166.9 496.3,166.64 496.8,166.38 497.3,166.12 497.8,165.86 498.3,165.61 498.8,165.37 499.3,165.13 499.8,164.91 500.3,164.69 500.8,164.5 501.3,164.31 501.8,164.14 502.3,164 502.8,163.87 503.3,163.76 503.8,163.68 504.3,163.63 504.8,163.6 505.3,163.6 505.8,163.61 506.3,163.62 506.8,163.63 507.3,163.65 507.8,163.67 508.3,163.69 508.8,163.72 509.3,163.75 509.8,163.79 510.3,163.83 510.8,163.91 511.3,164.04 511.8,164.2 512.3,164.4 512.8,164.63 513.3,164.89 513.8,165.17 514.3,165.47 514.8,165.79 515.3,166.12 515.8,166.46 516.3,166.8 516.8,167.15 517.3,167.5 517.8,167.88 518.3,168.31 518.8,168.79 519.3,169.31 519.8,169.85 520.3,170.41 520.8,170.97 521.3,171.53 521.8,172.08 522.3,172.6 522.8,173.12 523.3,173.65 523.8,174.18 524.3,174.72 524.8,175.25 525.3,175.79 525.8,176.31 526.3,176.83 526.8,177.34 527.3,177.83 527.8,178.31 528.3,178.78 528.8,179.24 529.3,179.69 529.8,180.14 530.3,180.58 530.8,181.01 531.3,181.44 531.8,181.86 532.3,182.28 532.8,182.68 533.3,183.08 533.8,183.47 534.3,183.85 534.8,184.21 535.3,184.57 535.8,184.91 536.3,185.24 536.8,185.56 537.3,185.87 537.8,186.18 538.3,186.48 538.8,186.78 539.3,187.08 539.8,187.38 540.3,187.68 540.8,187.99 541.3,188.3 541.8,188.6 542.3,188.91 542.8,189.21 543.3,189.52 543.8,189.82 544.3,190.12 544.8,190.42 545.3,190.71 545.8,191.01 546.3,191.3 546.8,191.59 547.3,191.89 547.8,192.18 548.3,192.48 548.8,192.77 549.3,193.06 549.8,193.34 550.3,193.62 550.8,193.89 551.3,194.15 551.8,194.4 552.3,194.64 552.8,194.88 553.3,195.1 553.8,195.33 554.3,195.55 554.8,195.76 555.3,195.97 555.8,196.17 556.3,196.38 556.8,196.58 557.3,196.77 557.8,196.97 558.3,197.16 558.8,197.35 559.3,197.54 559.8,197.73 560.3,197.91 560.8,198.1 561.3,198.28 561.8,198.45 562.3,198.63 562.8,198.8 563.3,198.98 563.8,199.15 564.3,199.31 564.8,199.48 565.3,199.65 565.8,199.81 566.3,199.97 566.8,200.14 567.3,200.3 567.8,200.46 568.3,200.63 568.8,200.81 569.3,200.98 569.8,201.15 570.3,201.32 570.8,201.49 571.3,201.65 571.8,201.8 572.3,201.95 572.8,202.1 573.3,202.23 573.8,202.35 574.3,202.46 574.8,202.56 575.3,202.66 575.8,202.75 576.3,202.84 576.8,202.93 577.3,203.02 577.8,203.11 578.3,203.19 578.8,203.28 579.3,203.36 579.8,203.44 580.3,203.52 580.8,203.59 581.3,203.66 581.8,203.74 582.3,203.8 582.8,203.87 583.3,203.94 583.8,204 584.3,204.06 584.8,204.12 585.3,204.18 585.8,204.23 586.3,204.28 586.8,204.33 587.3,204.38 587.8,204.43 588.3,204.47 588.8,204.51 589.3,204.55 589.8,204.59 590.3,204.62 590.8,204.65 591.3,204.69 591.8,204.72 592.3,204.75 592.8,204.79 593.3,204.82 593.8,204.85 594.3,204.88 594.8,204.91 595.3,204.94 595.8,204.97 596.3,205 596.8,205.02 597.3,205.05 597.8,205.08 598.3,205.1 598.8,205.13 599.3,205.15 599.8,205.18 600.3,205.2 600.8,205.22 601.3,205.24 601.8,205.26 602.3,205.28 602.8,205.3 603.3,205.32 603.8,205.34 604.3,205.36 604.8,205.38 605.3,205.39 605.8,205.41 606.3,205.42 606.8,205.43 607.3,205.45 607.8,205.46 608.3,205.47 608.8,205.48 609.3,205.49 609.8,205.5 610.3,205.5 610.8,205.51 611.3,205.52 611.8,205.53 612.3,205.53 612.8,205.54 613.3,205.55 613.8,205.56 614.3,205.56 614.8,205.57 615.3,205.58 615.8,205.58 616.3,205.59 616.8,205.6 617.3,205.6 617.8,205.61 618.3,205.61 618.8,205.62 619.3,205.63 619.8,205.63 620.3,205.64 620.8,205.64 621.3,205.65 621.8,205.66 622.3,205.66 622.8,205.67 623.3,205.67 623.8,205.68 624.3,205.68 624.8,205.69 625.3,205.69 625.8,205.7 626.3,205.7 626.8,205.71 627.3,205.71 627.8,205.72 628.3,205.72 628.8,205.72 629.3,205.73 629.8,205.73 630.3,205.74 630.8,205.74 631.3,205.74 631.8,205.75 632.3,205.75 632.8,205.75 633.3,205.76 633.8,205.76 634.3,205.76 634.8,205.77 635.3,205.77 635.8,205.77 636.3,205.78 636.8,205.78 637.3,205.78 637.8,205.78 638.3,205.78 638.8,205.79 639.3,205.79 639.8,205.79 640.3,205.79 640.8,205.79 641.3,205.79 641.8,205.8 642.3,205.8 642.8,205.8 643.3,205.8 643.8,205.8 644.3,205.8 644.8,205.8 645.3,205.8 645.8,205.8" fill="none" stroke="#000" stroke-width="0.9" stroke-linejoin="round"/>
<polyline points="414.8,206.4 415.3,206.4 415.8,206.4 416.3,206.4 416.8,206.4 417.3,206.4 417.8,206.4 418.3,206.4 418.8,206.4 419.3,206.4 419.8,206.4 420.3,206.4 420.8,206.4 421.3,206.4 421.8,206.4 422.3,206.4 422.8,206.4 423.3,206.4 423.8,206.4 424.3,206.4 424.8,206.4 425.3,206.4 425.8,206.4 426.3,206.4 426.8,206.4 427.3,206.4 427.8,206.4 428.3,206.4 428.8,206.39 429.3,206.39 429.8,206.39 430.3,206.39 430.8,206.39 431.3,206.39 431.8,206.39 432.3,206.39 432.8,206.38 433.3,206.38 433.8,206.38 434.3,206.37 434.8,206.37 435.3,206.37 435.8,206.36 436.3,206.36 436.8,206.35 437.3,206.35 437.8,206.34 438.3,206.33 438.8,206.32 439.3,206.31 439.8,206.3 440.3,206.29 440.8,206.27 441.3,206.26 441.8,206.24 442.3,206.22 442.8,206.2 443.3,206.17 443.8,206.14 444.3,206.11 444.8,206.08 445.3,206.04 445.8,206 446.3,205.96 446.8,205.91 447.3,205.85 447.8,205.8 448.3,205.73 448.8,205.66 449.3,205.58 449.8,205.49 450.3,205.4 450.8,205.29 451.3,205.18 451.8,205.06 452.3,204.93 452.8,204.78 453.3,204.62 453.8,204.45 454.3,204.27 454.8,204.07 455.3,203.85 455.8,203.62 456.3,203.37 456.8,203.1 457.3,202.81 457.8,202.5 458.3,202.16 458.8,201.8 459.3,201.42 459.8,201.01 460.3,200.57 460.8,200.1 461.3,199.6 461.8,199.07 462.3,198.51 462.8,197.91 463.3,197.28 463.8,196.61 464.3,195.9 464.8,195.16 465.3,194.37 465.8,193.54 466.3,192.67 466.8,191.75 467.3,190.79 467.8,189.78 468.3,188.73 468.8,187.63 469.3,186.48 469.8,185.28 470.3,184.03 470.8,182.74 471.3,181.39 471.8,180 472.3,178.56 472.8,177.07 473.3,175.53 473.8,173.94 474.3,172.31 474.8,170.64 475.3,168.92 475.8,167.16 476.3,165.36 476.8,163.52 477.3,161.65 477.8,159.74 478.3,157.81 478.8,155.84 479.3,153.85 479.8,151.84 480.3,149.81 480.8,147.77 481.3,145.71 481.8,143.65 482.3,141.59 482.8,139.52 483.3,137.47 483.8,135.42 484.3,133.39 484.8,131.38 485.3,129.4 485.8,127.44 486.3,125.52 486.8,123.64 487.3,121.8 487.8,120.01 488.3,118.28 488.8,116.6 489.3,114.99 489.8,113.45 490.3,111.98 490.8,110.58 491.3,109.26 491.8,108.03 492.3,106.89 492.8,105.84 493.3,104.88 493.8,104.02 494.3,103.26 494.8,102.61 495.3,102.06 495.8,101.61 496.3,101.27 496.8,101.04 497.3,100.92 497.8,100.91 498.3,101.02 498.8,101.26 499.3,101.62 499.8,102.11 500.3,102.71 500.8,103.44 501.3,104.28 501.8,105.23 502.3,106.3 502.8,107.47 503.3,108.74 503.8,110.12 504.3,111.58 504.8,113.14 505.3,114.77 505.8,116.49 506.3,118.28 506.8,120.13 507.3,122.05 507.8,124.02 508.3,126.05 508.8,128.11 509.3,130.21 509.8,132.35 510.3,134.51 510.8,136.69 511.3,138.88 511.8,141.09 512.3,143.29 512.8,145.5 513.3,147.69 513.8,149.88 514.3,152.05 514.8,154.2 515.3,156.32 515.8,158.41 516.3,160.47 516.8,162.49 517.3,164.48 517.8,166.42 518.3,168.32 518.8,170.17 519.3,171.97 519.8,173.72 520.3,175.42 520.8,177.07 521.3,178.66 521.8,180.19 522.3,181.67 522.8,183.1 523.3,184.47 523.8,185.78 524.3,187.04 524.8,188.24 525.3,189.39 525.8,190.48 526.3,191.52 526.8,192.51 527.3,193.45 527.8,194.34 528.3,195.18 528.8,195.98 529.3,196.73 529.8,197.44 530.3,198.1 530.8,198.73 531.3,199.32 531.8,199.87 532.3,200.38 532.8,200.86 533.3,201.31 533.8,201.72 534.3,202.11 534.8,202.47 535.3,202.81 535.8,203.12 536.3,203.4 536.8,203.67 537.3,203.91 537.8,204.14 538.3,204.35 538.8,204.54 539.3,204.71 539.8,204.87 540.3,205.02 540.8,205.15 541.3,205.28 541.8,205.39 542.3,205.49 542.8,205.58 543.3,205.67 543.8,205.74 544.3,205.81 544.8,205.87 545.3,205.93 545.8,205.98 546.3,206.03 546.8,206.07 547.3,206.1 547.8,206.14 548.3,206.17 548.8,206.19 549.3,206.22 549.8,206.24 550.3,206.26 550.8,206.27 551.3,206.29 551.8,206.3 552.3,206.31 552.8,206.32 553.3,206.33 553.8,206.34 554.3,206.35 554.8,206.36 555.3,206.36 555.8,206.37 556.3,206.37 556.8,206.37 557.3,206.38 557.8,206.38 558.3,206.38 558.8,206.39 559.3,206.39 559.8,206.39 560.3,206.39 560.8,206.39 561.3,206.39 561.8,206.39 562.3,206.39 562.8,206.4 563.3,206.4 563.8,206.4 564.3,206.4 564.8,206.4 565.3,206.4 565.8,206.4 566.3,206.4 566.8,206.4 567.3,206.4 567.8,206.4 568.3,206.4 568.8,206.4 569.3,206.4 569.8,206.4 570.3,206.4 570.8,206.4 571.3,206.4 571.8,206.4 572.3,206.4 572.8,206.4 573.3,206.4 573.8,206.4 574.3,206.4 574.8,206.4 575.3,206.4 575.8,206.4 576.3,206.4 576.8,206.4 577.3,206.4 577.8,206.4 578.3,206.4 578.8,206.4 579.3,206.4 579.8,206.4 580.3,206.4 580.8,206.4 581.3,206.4 581.8,206.4 582.3,206.4 582.8,206.4 583.3,206.4 583.8,206.4 584.3,206.4 584.8,206.4 585.3,206.4 585.8,206.4 586.3,206.4 586.8,206.4 587.3,206.4 587.8,206.4 588.3,206.4 588.8,206.4 589.3,206.4 589.8,206.4 590.3,206.4 590.8,206.4 591.3,206.4 591.8,206.4 592.3,206.4 592.8,206.4 593.3,206.4 593.8,206.4 594.3,206.4 594.8,206.4 595.3,206.4 595.8,206.4 596.3,206.4 596.8,206.4 597.3,206.4 597.8,206.4 598.3,206.4 598.8,206.4 599.3,206.4 599.8,206.4 600.3,206.4 600.8,206.4 601.3,206.4 601.8,206.4 602.3,206.4 602.8,206.4 603.3,206.4 603.8,206.4 604.3,206.4 604.8,206.4 605.3,206.4 605.8,206.4 606.3,206.4 606.8,206.4 607.3,206.4 607.8,206.4 608.3,206.4 608.8,206.4 609.3,206.4 609.8,206.4 610.3,206.4 610.8,206.4 611.3,206.4 611.8,206.4 612.3,206.4 612.8,206.4 613.3,206.4 613.8,206.4 614.3,206.4 614.8,206.4 615.3,206.4 615.8,206.4 616.3,206.4 616.8,206.4 617.3,206.4 617.8,206.4 618.3,206.4 618.8,206.4 619.3,206.4 619.8,206.4 620.3,206.4 620.8,206.4 621.3,206.4 621.8,206.4 622.3,206.4 622.8,206.4 623.3,206.4 623.8,206.4 624.3,206.4 624.8,206.4 625.3,206.4 625.8,206.4 626.3,206.4 626.8,206.4 627.3,206.4 627.8,206.4 628.3,206.4 628.8,206.4 629.3,206.4 629.8,206.4 630.3,206.4 630.8,206.4 631.3,206.4 631.8,206.4 632.3,206.4 632.8,206.4 633.3,206.4 633.8,206.4 634.3,206.4 634.8,206.4 635.3,206.4 635.8,206.4 636.3,206.4 636.8,206.4 637.3,206.4 637.8,206.4 638.3,206.4 638.8,206.4 639.3,206.4 639.8,206.4 640.3,206.4 640.8,206.4 641.3,206.4 641.8,206.4 642.3,206.4 642.8,206.4 643.3,206.4 643.8,206.4 644.3,206.4 644.8,206.4 645.3,206.4 645.8,206.4" fill="none" stroke="#000" stroke-width="0.9" stroke-linejoin="round"/>
<polyline points="414.8,206.4 415.3,206.4 415.8,206.4 416.3,206.4 416.8,206.4 417.3,206.4 417.8,206.4 418.3,206.4 418.8,206.4 419.3,206.4 419.8,206.4 420.3,206.4 420.8,206.4 421.3,206.4 421.8,206.4 422.3,206.4 422.8,206.4 423.3,206.4 423.8,206.4 424.3,206.4 424.8,206.4 425.3,206.4 425.8,206.4 426.3,206.4 426.8,206.4 427.3,206.4 427.8,206.4 428.3,206.4 428.8,206.4 429.3,206.4 429.8,206.4 430.3,206.4 430.8,206.4 431.3,206.4 431.8,206.4 432.3,206.4 432.8,206.4 433.3,206.4 433.8,206.4 434.3,206.4 434.8,206.4 435.3,206.4 435.8,206.4 436.3,206.4 436.8,206.4 437.3,206.4 437.8,206.4 438.3,206.4 438.8,206.4 439.3,206.4 439.8,206.4 440.3,206.4 440.8,206.4 441.3,206.4 441.8,206.4 442.3,206.4 442.8,206.4 443.3,206.4 443.8,206.4 444.3,206.4 444.8,206.4 445.3,206.4 445.8,206.4 446.3,206.4 446.8,206.4 447.3,206.4 447.8,206.4 448.3,206.4 448.8,206.4 449.3,206.4 449.8,206.4 450.3,206.4 450.8,206.4 451.3,206.4 451.8,206.4 452.3,206.4 452.8,206.4 453.3,206.4 453.8,206.4 454.3,206.4 454.8,206.4 455.3,206.4 455.8,206.4 456.3,206.4 456.8,206.4 457.3,206.4 457.8,206.4 458.3,206.4 458.8,206.4 459.3,206.4 459.8,206.4 460.3,206.4 460.8,206.4 461.3,206.4 461.8,206.4 462.3,206.4 462.8,206.4 463.3,206.4 463.8,206.4 464.3,206.4 464.8,206.4 465.3,206.4 465.8,206.4 466.3,206.4 466.8,206.4 467.3,206.39 467.8,206.39 468.3,206.39 468.8,206.39 469.3,206.39 469.8,206.38 470.3,206.38 470.8,206.38 471.3,206.37 471.8,206.37 472.3,206.36 472.8,206.35 473.3,206.34 473.8,206.33 474.3,206.31 474.8,206.29 475.3,206.27 475.8,206.25 476.3,206.22 476.8,206.19 477.3,206.15 477.8,206.11 478.3,206.06 478.8,206 479.3,205.93 479.8,205.85 480.3,205.76 480.8,205.66 481.3,205.54 481.8,205.41 482.3,205.26 482.8,205.09 483.3,204.9 483.8,204.69 484.3,204.45 484.8,204.18 485.3,203.88 485.8,203.55 486.3,203.19 486.8,202.78 487.3,202.34 487.8,201.85 488.3,201.32 488.8,200.75 489.3,200.12 489.8,199.44 490.3,198.7 490.8,197.91 491.3,197.07 491.8,196.16 492.3,195.2 492.8,194.17 493.3,193.09 493.8,191.94 494.3,190.74 494.8,189.48 495.3,188.17 495.8,186.81 496.3,185.39 496.8,183.94 497.3,182.44 497.8,180.91 498.3,179.35 498.8,177.76 499.3,176.16 499.8,174.56 500.3,172.95 500.8,171.35 501.3,169.77 501.8,168.22 502.3,166.7 502.8,165.22 503.3,163.8 503.8,162.44 504.3,161.16 504.8,159.95 505.3,158.84 505.8,157.82 506.3,156.91 506.8,156.1 507.3,155.42 507.8,154.86 508.3,154.42 508.8,154.12 509.3,153.94 509.8,153.9 510.3,154 510.8,154.22 511.3,154.58 511.8,155.07 512.3,155.68 512.8,156.41 513.3,157.26 513.8,158.21 514.3,159.27 514.8,160.42 515.3,161.66 515.8,162.98 516.3,164.36 516.8,165.8 517.3,167.3 517.8,168.83 518.3,170.4 518.8,171.99 519.3,173.59 519.8,175.2 520.3,176.8 520.8,178.4 521.3,179.97 521.8,181.52 522.3,183.04 522.8,184.53 523.3,185.97 523.8,187.36 524.3,188.7 524.8,189.99 525.3,191.23 525.8,192.41 526.3,193.53 526.8,194.59 527.3,195.59 527.8,196.53 528.3,197.41 528.8,198.24 529.3,199 529.8,199.72 530.3,200.37 530.8,200.98 531.3,201.54 531.8,202.05 532.3,202.52 532.8,202.95 533.3,203.34 533.8,203.69 534.3,204 534.8,204.29 535.3,204.55 535.8,204.77 536.3,204.98 536.8,205.16 537.3,205.32 537.8,205.47 538.3,205.59 538.8,205.7 539.3,205.8 539.8,205.88 540.3,205.96 540.8,206.02 541.3,206.08 541.8,206.13 542.3,206.17 542.8,206.2 543.3,206.23 543.8,206.26 544.3,206.28 544.8,206.3 545.3,206.32 545.8,206.33 546.3,206.34 546.8,206.35 547.3,206.36 547.8,206.37 548.3,206.37 548.8,206.38 549.3,206.38 549.8,206.39 550.3,206.39 550.8,206.39 551.3,206.39 551.8,206.39 552.3,206.39 552.8,206.4 553.3,206.4 553.8,206.4 554.3,206.4 554.8,206.4 555.3,206.4 555.8,206.4 556.3,206.4 556.8,206.4 557.3,206.4 557.8,206.4 558.3,206.4 558.8,206.4 559.3,206.4 559.8,206.4 560.3,206.4 560.8,206.4 561.3,206.4 561.8,206.4 562.3,206.4 562.8,206.4 563.3,206.4 563.8,206.4 564.3,206.4 564.8,206.4 565.3,206.4 565.8,206.4 566.3,206.4 566.8,206.4 567.3,206.4 567.8,206.4 568.3,206.4 568.8,206.4 569.3,206.4 569.8,206.4 570.3,206.4 570.8,206.4 571.3,206.4 571.8,206.4 572.3,206.4 572.8,206.4 573.3,206.4 573.8,206.4 574.3,206.4 574.8,206.4 575.3,206.4 575.8,206.4 576.3,206.4 576.8,206.4 577.3,206.4 577.8,206.4 578.3,206.4 578.8,206.4 579.3,206.4 579.8,206.4 580.3,206.4 580.8,206.4 581.3,206.4 581.8,206.4 582.3,206.4 582.8,206.4 583.3,206.4 583.8,206.4 584.3,206.4 584.8,206.4 585.3,206.4 585.8,206.4 586.3,206.4 586.8,206.4 587.3,206.4 587.8,206.4 588.3,206.4 588.8,206.4 589.3,206.4 589.8,206.4 590.3,206.4 590.8,206.4 591.3,206.4 591.8,206.4 592.3,206.4 592.8,206.4 593.3,206.4 593.8,206.4 594.3,206.4 594.8,206.4 595.3,206.4 595.8,206.4 596.3,206.4 596.8,206.4 597.3,206.4 597.8,206.4 598.3,206.4 598.8,206.4 599.3,206.4 599.8,206.4 600.3,206.4 600.8,206.4 601.3,206.4 601.8,206.4 602.3,206.4 602.8,206.4 603.3,206.4 603.8,206.4 604.3,206.4 604.8,206.4 605.3,206.4 605.8,206.4 606.3,206.4 606.8,206.4 607.3,206.4 607.8,206.4 608.3,206.4 608.8,206.4 609.3,206.4 609.8,206.4 610.3,206.4 610.8,206.4 611.3,206.4 611.8,206.4 612.3,206.4 612.8,206.4 613.3,206.4 613.8,206.4 614.3,206.4 614.8,206.4 615.3,206.4 615.8,206.4 616.3,206.4 616.8,206.4 617.3,206.4 617.8,206.4 618.3,206.4 618.8,206.4 619.3,206.4 619.8,206.4 620.3,206.4 620.8,206.4 621.3,206.4 621.8,206.4 622.3,206.4 622.8,206.4 623.3,206.4 623.8,206.4 624.3,206.4 624.8,206.4 625.3,206.4 625.8,206.4 626.3,206.4 626.8,206.4 627.3,206.4 627.8,206.4 628.3,206.4 628.8,206.4 629.3,206.4 629.8,206.4 630.3,206.4 630.8,206.4 631.3,206.4 631.8,206.4 632.3,206.4 632.8,206.4 633.3,206.4 633.8,206.4 634.3,206.4 634.8,206.4 635.3,206.4 635.8,206.4 636.3,206.4 636.8,206.4 637.3,206.4 637.8,206.4 638.3,206.4 638.8,206.4 639.3,206.4 639.8,206.4 640.3,206.4 640.8,206.4 641.3,206.4 641.8,206.4 642.3,206.4 642.8,206.4 643.3,206.4 643.8,206.4 644.3,206.4 644.8,206.4 645.3,206.4 645.8,206.4" fill="none" stroke="#000" stroke-width="0.9" stroke-linejoin="round"/>
<polyline points="426.01,207.43 426.34,207.42 426.79,207.41 427.32,207.4 427.91,207.38 428.53,207.37 429.16,207.35 429.77,207.33 430.34,207.31 430.89,207.29 431.43,207.27 431.97,207.25 432.51,207.22 433.06,207.2 433.6,207.17 434.14,207.14 434.69,207.1 435.23,207.07 435.77,207.03 436.32,206.99 436.86,206.95 437.4,206.9 437.95,206.86 438.49,206.8 439.03,206.74 439.58,206.68 440.12,206.62 440.67,206.55 441.21,206.48 441.76,206.4 442.3,206.32 442.84,206.22 443.39,206.12 443.93,206.02 444.48,205.91 445.02,205.79 445.57,205.67 446.12,205.53 446.66,205.39 447.21,205.23 447.75,205.05 448.3,204.88 448.84,204.71 449.39,204.53 449.94,204.34 450.48,204.12 451.03,203.86 451.58,203.56 452.12,203.2 452.67,202.77 453.22,202.26 453.76,201.7 454.31,201.11 454.86,200.5 455.4,199.9 455.95,199.33 456.5,198.8 457.05,198.32 457.6,197.87 458.15,197.44 458.7,197.02 459.25,196.6 459.8,196.16 460.35,195.7 460.9,195.2 461.45,194.69 461.99,194.18 462.54,193.66 463.08,193.12 463.63,192.55 464.18,191.93 464.74,191.25 465.3,190.5 465.87,189.68 466.45,188.81 467.04,187.88 467.63,186.9 468.22,185.88 468.82,184.82 469.41,183.72 470,182.6 470.59,181.44 471.2,180.23 471.81,178.98 472.41,177.7 473.01,176.39 473.6,175.04 474.16,173.68 474.7,172.3 475.2,170.93 475.68,169.58 476.13,168.22 476.56,166.83 477,165.38 477.44,163.84 477.91,162.19 478.4,160.4 478.92,158.49 479.47,156.48 480.03,154.39 480.6,152.19 481.18,149.9 481.76,147.51 482.33,145.01 482.9,142.4 483.46,139.6 484.03,136.59 484.6,133.42 485.16,130.18 485.73,126.92 486.29,123.73 486.85,120.66 487.4,117.8 487.95,115.12 488.5,112.53 489.04,110.04 489.59,107.62 490.13,105.28 490.66,103.01 491.18,100.78 491.7,98.6 492.2,96.48 492.69,94.43 493.17,92.45 493.64,90.52 494.11,88.64 494.59,86.8 495.09,84.99 495.6,83.2 496.13,81.38 496.68,79.51 497.24,77.64 497.81,75.82 498.39,74.11 498.96,72.55 499.53,71.2 500.1,70.1 500.66,69.24 501.23,68.54 501.79,68.02 502.36,67.67 502.92,67.49 503.48,67.49 504.04,67.66 504.6,68 505.16,68.54 505.71,69.3 506.27,70.24 506.82,71.35 507.37,72.6 507.92,73.98 508.46,75.45 509,77 509.53,78.57 510.06,80.14 510.59,81.79 511.11,83.57 511.63,85.55 512.15,87.79 512.67,90.35 513.2,93.3 513.73,96.75 514.26,100.69 514.8,104.99 515.33,109.54 515.87,114.2 516.41,118.84 516.95,123.35 517.5,127.6 518.05,131.67 518.61,135.7 519.17,139.7 519.74,143.63 520.3,147.49 520.87,151.27 521.44,154.94 522,158.5 522.56,162.02 523.12,165.55 523.69,169.03 524.25,172.4 524.81,175.59 525.38,178.55 525.94,181.2 526.5,183.5 527.06,185.38 527.62,186.87 528.19,188.05 528.75,189 529.31,189.79 529.88,190.51 530.44,191.22 531,192 531.56,192.81 532.12,193.55 532.69,194.24 533.25,194.88 533.81,195.46 534.38,196.01 534.94,196.52 535.5,197 536.06,197.44 536.62,197.82 537.19,198.16 537.75,198.47 538.31,198.75 538.88,199 539.44,199.25 540,199.5 540.56,199.74 541.12,199.95 541.69,200.14 542.25,200.31 542.81,200.48 543.38,200.65 543.94,200.82 544.5,201 545.06,201.19 545.62,201.39 546.19,201.58 546.75,201.78 547.31,201.97 547.88,202.16 548.44,202.34 549,202.5 549.56,202.65 550.12,202.79 550.69,202.92 551.25,203.05 551.81,203.17 552.38,203.28 552.94,203.39 553.5,203.5 554.06,203.6 554.62,203.7 555.19,203.8 555.75,203.89 556.31,203.97 556.88,204.05 557.44,204.13 558,204.2 558.59,204.26 559.21,204.31 559.84,204.35 560.47,204.38 561.07,204.42 561.62,204.46 562.1,204.52 562.5,204.6 562.76,204.7 562.89,204.83 562.93,204.97 562.93,205.12 562.95,205.27 563.01,205.41 563.19,205.52 563.51,205.6 563.99,205.65 564.58,205.67 565.27,205.67 566.02,205.66 566.8,205.64 567.6,205.62 568.38,205.61 569.12,205.6 569.82,205.6 570.53,205.6 571.25,205.6 571.96,205.6 572.67,205.6 573.39,205.6 574.11,205.6 574.83,205.6 575.55,205.6 576.27,205.6 576.99,205.6 577.72,205.6 578.45,205.6 579.18,205.6 579.91,205.6 580.64,205.6 581.37,205.6 582.11,205.6 582.85,205.6 583.59,205.6 584.33,205.6 585.07,205.6 585.82,205.6 586.56,205.6 587.31,205.6 588.06,205.6 588.81,205.6 589.56,205.6 590.32,205.6 591.07,205.6 591.83,205.6 592.59,205.6 593.35,205.6 594.11,205.6 594.87,205.6 595.64,205.6 596.41,205.6 597.18,205.6 597.95,205.6 598.72,205.6 599.49,205.6 600.27,205.6 601.04,205.6 601.82,205.6 602.6,205.6 603.38,205.6 604.17,205.6 604.95,205.6 605.74,205.6 606.53,205.6 607.32,205.6 608.11,205.6 608.9,205.6 609.7,205.6 610.5,205.6 611.3,205.6 612.1,205.6 612.9,205.6 613.7,205.6 614.51,205.6 615.31,205.6 616.12,205.6 616.93,205.6 617.75,205.6 618.56,205.6 619.38,205.6 620.2,205.6 621.02,205.6 621.84,205.6 622.66,205.6 623.48,205.6 624.31,205.6 625.13,205.6 625.96,205.6 626.79,205.6 627.61,205.6 628.44,205.6 629.27,205.6 630.1,205.6 630.94,205.6 631.77,205.6 632.6,205.6 633.43,205.6 634.27,205.6 635.1,205.6 635.94,205.6 636.77,205.6 637.61,205.6 638.49,205.6 639.44,205.6 640.42,205.6 641.38,205.6 642.3,205.6 643.12,205.6 643.81,205.6 644.33,205.6" fill="none" stroke="#000" stroke-width="1.0" stroke-linejoin="round"/>
<line x1="423" y1="205.4" x2="645" y2="205.4" stroke="#000" stroke-width="1.8" stroke-linecap="butt"/>
<circle cx="425.43" cy="207.25" r="2.7" fill="#000"/>
<circle cx="428.68" cy="207.08" r="2.7" fill="#000"/>
<circle cx="431.94" cy="206.83" r="2.7" fill="#000"/>
<circle cx="435.19" cy="206.33" r="2.7" fill="#000"/>
<circle cx="438.45" cy="205.66" r="2.7" fill="#000"/>
<circle cx="441.72" cy="204.82" r="2.7" fill="#000"/>
<circle cx="444.99" cy="203.62" r="2.7" fill="#000"/>
<circle cx="448.26" cy="202.3" r="2.7" fill="#000"/>
<circle cx="451.54" cy="200.97" r="2.7" fill="#000"/>
<circle cx="454.82" cy="199.49" r="2.7" fill="#000"/>
<circle cx="458.1" cy="197.76" r="2.7" fill="#000"/>
<circle cx="461.39" cy="195.64" r="2.7" fill="#000"/>
<circle cx="464.68" cy="193" r="2.7" fill="#000"/>
<circle cx="467.98" cy="190.05" r="2.7" fill="#000"/>
<circle cx="471.28" cy="186.74" r="2.7" fill="#000"/>
<circle cx="474.59" cy="183.32" r="2.7" fill="#000"/>
<circle cx="477.9" cy="179.88" r="2.7" fill="#000"/>
<circle cx="481.21" cy="176.45" r="2.7" fill="#000"/>
<circle cx="484.53" cy="173.67" r="2.7" fill="#000"/>
<circle cx="487.85" cy="171.32" r="2.7" fill="#000"/>
<circle cx="491.18" cy="169.27" r="2.7" fill="#000"/>
<circle cx="494.51" cy="167.55" r="2.7" fill="#000"/>
<circle cx="497.85" cy="165.84" r="2.7" fill="#000"/>
<circle cx="501.2" cy="164.35" r="2.7" fill="#000"/>
<circle cx="504.6" cy="163.61" r="2.7" fill="#000"/>
<circle cx="508" cy="163.68" r="2.7" fill="#000"/>
<circle cx="511.45" cy="164.08" r="2.7" fill="#000"/>
<circle cx="514.94" cy="165.88" r="2.7" fill="#000"/>
<circle cx="518.48" cy="168.48" r="2.7" fill="#000"/>
<circle cx="522.07" cy="172.37" r="2.7" fill="#000"/>
<circle cx="525.71" cy="176.22" r="2.7" fill="#000"/>
<circle cx="529.4" cy="179.78" r="2.7" fill="#000"/>
<circle cx="533.14" cy="182.96" r="2.7" fill="#000"/>
<circle cx="536.93" cy="185.65" r="2.7" fill="#000"/>
<circle cx="540.78" cy="187.98" r="2.7" fill="#000"/>
<circle cx="544.67" cy="190.34" r="2.7" fill="#000"/>
<circle cx="548.62" cy="192.66" r="2.7" fill="#000"/>
<circle cx="552.62" cy="194.79" r="2.7" fill="#000"/>
<circle cx="556.68" cy="196.53" r="2.7" fill="#000"/>
<circle cx="560.79" cy="198.09" r="2.7" fill="#000"/>
<circle cx="564.96" cy="199.53" r="2.7" fill="#000"/>
<circle cx="569.19" cy="200.94" r="2.7" fill="#000"/>
<circle cx="573.47" cy="202.27" r="2.7" fill="#000"/>
<circle cx="577.81" cy="203.11" r="2.7" fill="#000"/>
<circle cx="582.21" cy="203.79" r="2.7" fill="#000"/>
<circle cx="586.68" cy="204.32" r="2.7" fill="#000"/>
<circle cx="591.2" cy="204.68" r="2.7" fill="#000"/>
<circle cx="595.78" cy="204.97" r="2.7" fill="#000"/>
<circle cx="600.42" cy="205.2" r="2.7" fill="#000"/>
<circle cx="605.11" cy="205.39" r="2.7" fill="#000"/>
<circle cx="609.87" cy="205.5" r="2.7" fill="#000"/>
<circle cx="614.69" cy="205.57" r="2.7" fill="#000"/>
<circle cx="619.57" cy="205.63" r="2.7" fill="#000"/>
<circle cx="624.52" cy="205.68" r="2.7" fill="#000"/>
<circle cx="629.49" cy="205.73" r="2.7" fill="#000"/>
<circle cx="634.49" cy="205.77" r="2.7" fill="#000"/>
<circle cx="639.51" cy="205.79" r="2.7" fill="#000"/>
<circle cx="644.56" cy="205.8" r="2.7" fill="#000"/>
<line x1="425.41" y1="200.76" x2="425.41" y2="207.56" stroke="#888" stroke-width="0.55" stroke-linecap="butt"/>
<line x1="424.21" y1="200.76" x2="426.61" y2="200.76" stroke="#888" stroke-width="0.55" stroke-linecap="butt"/>
<line x1="424.21" y1="207.56" x2="426.61" y2="207.56" stroke="#888" stroke-width="0.55" stroke-linecap="butt"/>
<line x1="429.75" y1="200.23" x2="429.75" y2="207.03" stroke="#888" stroke-width="0.55" stroke-linecap="butt"/>
<line x1="428.55" y1="200.23" x2="430.95" y2="200.23" stroke="#888" stroke-width="0.55" stroke-linecap="butt"/>
<line x1="428.55" y1="207.03" x2="430.95" y2="207.03" stroke="#888" stroke-width="0.55" stroke-linecap="butt"/>
<line x1="434.09" y1="199.66" x2="434.09" y2="206.46" stroke="#888" stroke-width="0.55" stroke-linecap="butt"/>
<line x1="432.89" y1="199.66" x2="435.29" y2="199.66" stroke="#888" stroke-width="0.55" stroke-linecap="butt"/>
<line x1="432.89" y1="206.46" x2="435.29" y2="206.46" stroke="#888" stroke-width="0.55" stroke-linecap="butt"/>
<line x1="438.43" y1="199.04" x2="438.43" y2="205.84" stroke="#888" stroke-width="0.55" stroke-linecap="butt"/>
<line x1="437.23" y1="199.04" x2="439.63" y2="199.04" stroke="#888" stroke-width="0.55" stroke-linecap="butt"/>
<line x1="437.23" y1="205.84" x2="439.63" y2="205.84" stroke="#888" stroke-width="0.55" stroke-linecap="butt"/>
<line x1="442.79" y1="198.39" x2="442.79" y2="205.19" stroke="#888" stroke-width="0.55" stroke-linecap="butt"/>
<line x1="441.59" y1="198.39" x2="443.99" y2="198.39" stroke="#888" stroke-width="0.55" stroke-linecap="butt"/>
<line x1="441.59" y1="205.19" x2="443.99" y2="205.19" stroke="#888" stroke-width="0.55" stroke-linecap="butt"/>
<line x1="447.15" y1="197.75" x2="447.15" y2="204.55" stroke="#888" stroke-width="0.55" stroke-linecap="butt"/>
<line x1="445.95" y1="197.75" x2="448.35" y2="197.75" stroke="#888" stroke-width="0.55" stroke-linecap="butt"/>
<line x1="445.95" y1="204.55" x2="448.35" y2="204.55" stroke="#888" stroke-width="0.55" stroke-linecap="butt"/>
<line x1="451.52" y1="196.99" x2="451.52" y2="203.79" stroke="#888" stroke-width="0.55" stroke-linecap="butt"/>
<line x1="450.32" y1="196.99" x2="452.72" y2="196.99" stroke="#888" stroke-width="0.55" stroke-linecap="butt"/>
<line x1="450.32" y1="203.79" x2="452.72" y2="203.79" stroke="#888" stroke-width="0.55" stroke-linecap="butt"/>
<line x1="455.9" y1="195.95" x2="455.9" y2="202.75" stroke="#888" stroke-width="0.55" stroke-linecap="butt"/>
<line x1="454.7" y1="195.95" x2="457.1" y2="195.95" stroke="#888" stroke-width="0.55" stroke-linecap="butt"/>
<line x1="454.7" y1="202.75" x2="457.1" y2="202.75" stroke="#888" stroke-width="0.55" stroke-linecap="butt"/>
<line x1="460.28" y1="194.16" x2="460.28" y2="200.96" stroke="#888" stroke-width="0.55" stroke-linecap="butt"/>
<line x1="459.08" y1="194.16" x2="461.48" y2="194.16" stroke="#888" stroke-width="0.55" stroke-linecap="butt"/>
<line x1="459.08" y1="200.96" x2="461.48" y2="200.96" stroke="#888" stroke-width="0.55" stroke-linecap="butt"/>
<line x1="464.67" y1="191.96" x2="464.67" y2="198.76" stroke="#888" stroke-width="0.55" stroke-linecap="butt"/>
<line x1="463.47" y1="191.96" x2="465.87" y2="191.96" stroke="#888" stroke-width="0.55" stroke-linecap="butt"/>
<line x1="463.47" y1="198.76" x2="465.87" y2="198.76" stroke="#888" stroke-width="0.55" stroke-linecap="butt"/>
<line x1="469.07" y1="189.63" x2="469.07" y2="196.43" stroke="#888" stroke-width="0.55" stroke-linecap="butt"/>
<line x1="467.87" y1="189.63" x2="470.27" y2="189.63" stroke="#888" stroke-width="0.55" stroke-linecap="butt"/>
<line x1="467.87" y1="196.43" x2="470.27" y2="196.43" stroke="#888" stroke-width="0.55" stroke-linecap="butt"/>
<line x1="473.48" y1="187.08" x2="473.48" y2="193.88" stroke="#888" stroke-width="0.55" stroke-linecap="butt"/>
<line x1="472.28" y1="187.08" x2="474.68" y2="187.08" stroke="#888" stroke-width="0.55" stroke-linecap="butt"/>
<line x1="472.28" y1="193.88" x2="474.68" y2="193.88" stroke="#888" stroke-width="0.55" stroke-linecap="butt"/>
<line x1="477.89" y1="184.47" x2="477.89" y2="191.27" stroke="#888" stroke-width="0.55" stroke-linecap="butt"/>
<line x1="476.69" y1="184.47" x2="479.09" y2="184.47" stroke="#888" stroke-width="0.55" stroke-linecap="butt"/>
<line x1="476.69" y1="191.27" x2="479.09" y2="191.27" stroke="#888" stroke-width="0.55" stroke-linecap="butt"/>
<line x1="482.31" y1="181.71" x2="482.31" y2="188.51" stroke="#888" stroke-width="0.55" stroke-linecap="butt"/>
<line x1="481.11" y1="181.71" x2="483.51" y2="181.71" stroke="#888" stroke-width="0.55" stroke-linecap="butt"/>
<line x1="481.11" y1="188.51" x2="483.51" y2="188.51" stroke="#888" stroke-width="0.55" stroke-linecap="butt"/>
<line x1="486.74" y1="179.08" x2="486.74" y2="185.88" stroke="#888" stroke-width="0.55" stroke-linecap="butt"/>
<line x1="485.54" y1="179.08" x2="487.94" y2="179.08" stroke="#888" stroke-width="0.55" stroke-linecap="butt"/>
<line x1="485.54" y1="185.88" x2="487.94" y2="185.88" stroke="#888" stroke-width="0.55" stroke-linecap="butt"/>
<line x1="491.17" y1="176.86" x2="491.17" y2="183.66" stroke="#888" stroke-width="0.55" stroke-linecap="butt"/>
<line x1="489.97" y1="176.86" x2="492.37" y2="176.86" stroke="#888" stroke-width="0.55" stroke-linecap="butt"/>
<line x1="489.97" y1="183.66" x2="492.37" y2="183.66" stroke="#888" stroke-width="0.55" stroke-linecap="butt"/>
<line x1="495.61" y1="174.9" x2="495.61" y2="181.7" stroke="#888" stroke-width="0.55" stroke-linecap="butt"/>
<line x1="494.41" y1="174.9" x2="496.81" y2="174.9" stroke="#888" stroke-width="0.55" stroke-linecap="butt"/>
<line x1="494.41" y1="181.7" x2="496.81" y2="181.7" stroke="#888" stroke-width="0.55" stroke-linecap="butt"/>
<line x1="500.07" y1="173.18" x2="500.07" y2="179.98" stroke="#888" stroke-width="0.55" stroke-linecap="butt"/>
<line x1="498.87" y1="173.18" x2="501.27" y2="173.18" stroke="#888" stroke-width="0.55" stroke-linecap="butt"/>
<line x1="498.87" y1="179.98" x2="501.27" y2="179.98" stroke="#888" stroke-width="0.55" stroke-linecap="butt"/>
<line x1="504.6" y1="171.64" x2="504.6" y2="178.44" stroke="#888" stroke-width="0.55" stroke-linecap="butt"/>
<line x1="503.4" y1="171.64" x2="505.8" y2="171.64" stroke="#888" stroke-width="0.55" stroke-linecap="butt"/>
<line x1="503.4" y1="178.44" x2="505.8" y2="178.44" stroke="#888" stroke-width="0.55" stroke-linecap="butt"/>
<line x1="509.13" y1="171.43" x2="509.13" y2="178.23" stroke="#888" stroke-width="0.55" stroke-linecap="butt"/>
<line x1="507.93" y1="171.43" x2="510.33" y2="171.43" stroke="#888" stroke-width="0.55" stroke-linecap="butt"/>
<line x1="507.93" y1="178.23" x2="510.33" y2="178.23" stroke="#888" stroke-width="0.55" stroke-linecap="butt"/>
<line x1="513.75" y1="171.54" x2="513.75" y2="178.34" stroke="#888" stroke-width="0.55" stroke-linecap="butt"/>
<line x1="512.55" y1="171.54" x2="514.95" y2="171.54" stroke="#888" stroke-width="0.55" stroke-linecap="butt"/>
<line x1="512.55" y1="178.34" x2="514.95" y2="178.34" stroke="#888" stroke-width="0.55" stroke-linecap="butt"/>
<line x1="518.45" y1="172.45" x2="518.45" y2="179.25" stroke="#888" stroke-width="0.55" stroke-linecap="butt"/>
<line x1="517.25" y1="172.45" x2="519.65" y2="172.45" stroke="#888" stroke-width="0.55" stroke-linecap="butt"/>
<line x1="517.25" y1="179.25" x2="519.65" y2="179.25" stroke="#888" stroke-width="0.55" stroke-linecap="butt"/>
<line x1="523.24" y1="173.7" x2="523.24" y2="180.5" stroke="#888" stroke-width="0.55" stroke-linecap="butt"/>
<line x1="522.04" y1="173.7" x2="524.44" y2="173.7" stroke="#888" stroke-width="0.55" stroke-linecap="butt"/>
<line x1="522.04" y1="180.5" x2="524.44" y2="180.5" stroke="#888" stroke-width="0.55" stroke-linecap="butt"/>
<line x1="528.11" y1="175.43" x2="528.11" y2="182.23" stroke="#888" stroke-width="0.55" stroke-linecap="butt"/>
<line x1="526.91" y1="175.43" x2="529.31" y2="175.43" stroke="#888" stroke-width="0.55" stroke-linecap="butt"/>
<line x1="526.91" y1="182.23" x2="529.31" y2="182.23" stroke="#888" stroke-width="0.55" stroke-linecap="butt"/>
<line x1="533.07" y1="177.11" x2="533.07" y2="183.91" stroke="#888" stroke-width="0.55" stroke-linecap="butt"/>
<line x1="531.87" y1="177.11" x2="534.27" y2="177.11" stroke="#888" stroke-width="0.55" stroke-linecap="butt"/>
<line x1="531.87" y1="183.91" x2="534.27" y2="183.91" stroke="#888" stroke-width="0.55" stroke-linecap="butt"/>
<line x1="538.13" y1="178.84" x2="538.13" y2="185.64" stroke="#888" stroke-width="0.55" stroke-linecap="butt"/>
<line x1="536.93" y1="178.84" x2="539.33" y2="178.84" stroke="#888" stroke-width="0.55" stroke-linecap="butt"/>
<line x1="536.93" y1="185.64" x2="539.33" y2="185.64" stroke="#888" stroke-width="0.55" stroke-linecap="butt"/>
<line x1="543.27" y1="181.28" x2="543.27" y2="188.08" stroke="#888" stroke-width="0.55" stroke-linecap="butt"/>
<line x1="542.07" y1="181.28" x2="544.47" y2="181.28" stroke="#888" stroke-width="0.55" stroke-linecap="butt"/>
<line x1="542.07" y1="188.08" x2="544.47" y2="188.08" stroke="#888" stroke-width="0.55" stroke-linecap="butt"/>
<line x1="548.51" y1="184.4" x2="548.51" y2="191.2" stroke="#888" stroke-width="0.55" stroke-linecap="butt"/>
<line x1="547.31" y1="184.4" x2="549.71" y2="184.4" stroke="#888" stroke-width="0.55" stroke-linecap="butt"/>
<line x1="547.31" y1="191.2" x2="549.71" y2="191.2" stroke="#888" stroke-width="0.55" stroke-linecap="butt"/>
<line x1="553.85" y1="187.18" x2="553.85" y2="193.98" stroke="#888" stroke-width="0.55" stroke-linecap="butt"/>
<line x1="552.65" y1="187.18" x2="555.05" y2="187.18" stroke="#888" stroke-width="0.55" stroke-linecap="butt"/>
<line x1="552.65" y1="193.98" x2="555.05" y2="193.98" stroke="#888" stroke-width="0.55" stroke-linecap="butt"/>
<line x1="559.28" y1="189.83" x2="559.28" y2="196.63" stroke="#888" stroke-width="0.55" stroke-linecap="butt"/>
<line x1="558.08" y1="189.83" x2="560.48" y2="189.83" stroke="#888" stroke-width="0.55" stroke-linecap="butt"/>
<line x1="558.08" y1="196.63" x2="560.48" y2="196.63" stroke="#888" stroke-width="0.55" stroke-linecap="butt"/>
<line x1="564.81" y1="192.51" x2="564.81" y2="199.31" stroke="#888" stroke-width="0.55" stroke-linecap="butt"/>
<line x1="563.61" y1="192.51" x2="566.01" y2="192.51" stroke="#888" stroke-width="0.55" stroke-linecap="butt"/>
<line x1="563.61" y1="199.31" x2="566.01" y2="199.31" stroke="#888" stroke-width="0.55" stroke-linecap="butt"/>
<line x1="570.44" y1="195.03" x2="570.44" y2="201.83" stroke="#888" stroke-width="0.55" stroke-linecap="butt"/>
<line x1="569.24" y1="195.03" x2="571.64" y2="195.03" stroke="#888" stroke-width="0.55" stroke-linecap="butt"/>
<line x1="569.24" y1="201.83" x2="571.64" y2="201.83" stroke="#888" stroke-width="0.55" stroke-linecap="butt"/>
<line x1="576.18" y1="196.75" x2="576.18" y2="203.55" stroke="#888" stroke-width="0.55" stroke-linecap="butt"/>
<line x1="574.98" y1="196.75" x2="577.38" y2="196.75" stroke="#888" stroke-width="0.55" stroke-linecap="butt"/>
<line x1="574.98" y1="203.55" x2="577.38" y2="203.55" stroke="#888" stroke-width="0.55" stroke-linecap="butt"/>
<line x1="582.01" y1="197.93" x2="582.01" y2="204.73" stroke="#888" stroke-width="0.55" stroke-linecap="butt"/>
<line x1="580.81" y1="197.93" x2="583.21" y2="197.93" stroke="#888" stroke-width="0.55" stroke-linecap="butt"/>
<line x1="580.81" y1="204.73" x2="583.21" y2="204.73" stroke="#888" stroke-width="0.55" stroke-linecap="butt"/>
<line x1="587.96" y1="198.69" x2="587.96" y2="205.49" stroke="#888" stroke-width="0.55" stroke-linecap="butt"/>
<line x1="586.76" y1="198.69" x2="589.16" y2="198.69" stroke="#888" stroke-width="0.55" stroke-linecap="butt"/>
<line x1="586.76" y1="205.49" x2="589.16" y2="205.49" stroke="#888" stroke-width="0.55" stroke-linecap="butt"/>
<line x1="594.01" y1="199.17" x2="594.01" y2="205.97" stroke="#888" stroke-width="0.55" stroke-linecap="butt"/>
<line x1="592.81" y1="199.17" x2="595.21" y2="199.17" stroke="#888" stroke-width="0.55" stroke-linecap="butt"/>
<line x1="592.81" y1="205.97" x2="595.21" y2="205.97" stroke="#888" stroke-width="0.55" stroke-linecap="butt"/>
<line x1="600.17" y1="199.41" x2="600.17" y2="206.21" stroke="#888" stroke-width="0.55" stroke-linecap="butt"/>
<line x1="598.97" y1="199.41" x2="601.37" y2="199.41" stroke="#888" stroke-width="0.55" stroke-linecap="butt"/>
<line x1="598.97" y1="206.21" x2="601.37" y2="206.21" stroke="#888" stroke-width="0.55" stroke-linecap="butt"/>
<line x1="606.43" y1="199.59" x2="606.43" y2="206.39" stroke="#888" stroke-width="0.55" stroke-linecap="butt"/>
<line x1="605.23" y1="199.59" x2="607.63" y2="199.59" stroke="#888" stroke-width="0.55" stroke-linecap="butt"/>
<line x1="605.23" y1="206.39" x2="607.63" y2="206.39" stroke="#888" stroke-width="0.55" stroke-linecap="butt"/>
<line x1="612.79" y1="199.72" x2="612.79" y2="206.52" stroke="#888" stroke-width="0.55" stroke-linecap="butt"/>
<line x1="611.59" y1="199.72" x2="613.99" y2="199.72" stroke="#888" stroke-width="0.55" stroke-linecap="butt"/>
<line x1="611.59" y1="206.52" x2="613.99" y2="206.52" stroke="#888" stroke-width="0.55" stroke-linecap="butt"/>
<line x1="619.27" y1="199.79" x2="619.27" y2="206.59" stroke="#888" stroke-width="0.55" stroke-linecap="butt"/>
<line x1="618.07" y1="199.79" x2="620.47" y2="199.79" stroke="#888" stroke-width="0.55" stroke-linecap="butt"/>
<line x1="618.07" y1="206.59" x2="620.47" y2="206.59" stroke="#888" stroke-width="0.55" stroke-linecap="butt"/>
<line x1="625.86" y1="199.84" x2="625.86" y2="206.64" stroke="#888" stroke-width="0.55" stroke-linecap="butt"/>
<line x1="624.66" y1="199.84" x2="627.06" y2="199.84" stroke="#888" stroke-width="0.55" stroke-linecap="butt"/>
<line x1="624.66" y1="206.64" x2="627.06" y2="206.64" stroke="#888" stroke-width="0.55" stroke-linecap="butt"/>
<line x1="632.5" y1="199.87" x2="632.5" y2="206.67" stroke="#888" stroke-width="0.55" stroke-linecap="butt"/>
<line x1="631.3" y1="199.87" x2="633.7" y2="199.87" stroke="#888" stroke-width="0.55" stroke-linecap="butt"/>
<line x1="631.3" y1="206.67" x2="633.7" y2="206.67" stroke="#888" stroke-width="0.55" stroke-linecap="butt"/>
<line x1="639.18" y1="199.89" x2="639.18" y2="206.69" stroke="#888" stroke-width="0.55" stroke-linecap="butt"/>
<line x1="637.98" y1="199.89" x2="640.38" y2="199.89" stroke="#888" stroke-width="0.55" stroke-linecap="butt"/>
<line x1="637.98" y1="206.69" x2="640.38" y2="206.69" stroke="#888" stroke-width="0.55" stroke-linecap="butt"/>
<polygon points="425.41,201.66 426.03,203.32 427.79,203.39 426.41,204.49 426.88,206.19 425.41,205.21 423.94,206.19 424.41,204.49 423.04,203.39 424.8,203.32" fill="#fff" stroke="#555" stroke-width="0.55"/>
<polygon points="429.75,201.13 430.36,202.78 432.12,202.86 430.75,203.96 431.22,205.65 429.75,204.68 428.28,205.65 428.75,203.96 427.37,202.86 429.13,202.78" fill="#fff" stroke="#555" stroke-width="0.55"/>
<polygon points="434.09,200.56 434.7,202.21 436.46,202.29 435.09,203.39 435.56,205.08 434.09,204.11 432.62,205.08 433.09,203.39 431.71,202.29 433.47,202.21" fill="#fff" stroke="#555" stroke-width="0.55"/>
<polygon points="438.43,199.94 439.05,201.59 440.81,201.66 439.43,202.76 439.9,204.46 438.43,203.49 436.96,204.46 437.44,202.76 436.06,201.66 437.82,201.59" fill="#fff" stroke="#555" stroke-width="0.55"/>
<polygon points="442.79,199.29 443.41,200.94 445.17,201.02 443.79,202.11 444.26,203.81 442.79,202.84 441.32,203.81 441.79,202.11 440.41,201.02 442.17,200.94" fill="#fff" stroke="#555" stroke-width="0.55"/>
<polygon points="447.15,198.65 447.77,200.3 449.53,200.37 448.15,201.47 448.62,203.17 447.15,202.2 445.68,203.17 446.15,201.47 444.77,200.37 446.53,200.3" fill="#fff" stroke="#555" stroke-width="0.55"/>
<polygon points="451.52,197.89 452.14,199.54 453.9,199.61 452.52,200.71 452.99,202.41 451.52,201.44 450.05,202.41 450.52,200.71 449.14,199.61 450.9,199.54" fill="#fff" stroke="#555" stroke-width="0.55"/>
<polygon points="455.9,196.85 456.51,198.5 458.27,198.57 456.89,199.67 457.37,201.37 455.9,200.4 454.43,201.37 454.9,199.67 453.52,198.57 455.28,198.5" fill="#fff" stroke="#555" stroke-width="0.55"/>
<polygon points="460.28,195.06 460.9,196.71 462.66,196.79 461.28,197.89 461.75,199.59 460.28,198.61 458.81,199.59 459.28,197.89 457.9,196.79 459.66,196.71" fill="#fff" stroke="#555" stroke-width="0.55"/>
<polygon points="464.67,192.86 465.29,194.51 467.05,194.59 465.67,195.69 466.14,197.39 464.67,196.41 463.2,197.39 463.67,195.69 462.29,194.59 464.05,194.51" fill="#fff" stroke="#555" stroke-width="0.55"/>
<polygon points="469.07,190.53 469.69,192.18 471.45,192.26 470.07,193.36 470.54,195.06 469.07,194.08 467.6,195.06 468.07,193.36 466.69,192.26 468.45,192.18" fill="#fff" stroke="#555" stroke-width="0.55"/>
<polygon points="473.48,187.98 474.09,189.63 475.85,189.71 474.47,190.81 474.94,192.51 473.48,191.53 472.01,192.51 472.48,190.81 471.1,189.71 472.86,189.63" fill="#fff" stroke="#555" stroke-width="0.55"/>
<polygon points="477.89,185.37 478.51,187.02 480.27,187.1 478.89,188.19 479.36,189.89 477.89,188.92 476.42,189.89 476.89,188.19 475.51,187.1 477.27,187.02" fill="#fff" stroke="#555" stroke-width="0.55"/>
<polygon points="482.31,182.61 482.93,184.26 484.69,184.33 483.31,185.43 483.78,187.13 482.31,186.16 480.84,187.13 481.31,185.43 479.93,184.33 481.69,184.26" fill="#fff" stroke="#555" stroke-width="0.55"/>
<polygon points="486.74,179.98 487.35,181.63 489.11,181.71 487.74,182.81 488.21,184.51 486.74,183.53 485.27,184.51 485.74,182.81 484.36,181.71 486.12,181.63" fill="#fff" stroke="#555" stroke-width="0.55"/>
<polygon points="491.17,177.76 491.79,179.41 493.55,179.49 492.17,180.58 492.64,182.28 491.17,181.31 489.7,182.28 490.17,180.58 488.79,179.49 490.56,179.41" fill="#fff" stroke="#555" stroke-width="0.55"/>
<polygon points="495.61,175.8 496.23,177.45 497.99,177.53 496.61,178.62 497.08,180.32 495.61,179.35 494.15,180.32 494.62,178.62 493.24,177.53 495,177.45" fill="#fff" stroke="#555" stroke-width="0.55"/>
<polygon points="500.07,174.08 500.68,175.73 502.44,175.8 501.06,176.9 501.54,178.6 500.07,177.63 498.6,178.6 499.07,176.9 497.69,175.8 499.45,175.73" fill="#fff" stroke="#555" stroke-width="0.55"/>
<polygon points="504.6,172.54 505.22,174.19 506.98,174.27 505.6,175.36 506.07,177.06 504.6,176.09 503.13,177.06 503.6,175.36 502.22,174.27 503.98,174.19" fill="#fff" stroke="#555" stroke-width="0.55"/>
<polygon points="509.13,172.33 509.75,173.98 511.51,174.06 510.13,175.15 510.6,176.85 509.13,175.88 507.66,176.85 508.14,175.15 506.76,174.06 508.52,173.98" fill="#fff" stroke="#555" stroke-width="0.55"/>
<polygon points="513.75,172.44 514.37,174.09 516.13,174.17 514.75,175.26 515.22,176.96 513.75,175.99 512.28,176.96 512.75,175.26 511.37,174.17 513.13,174.09" fill="#fff" stroke="#555" stroke-width="0.55"/>
<polygon points="518.45,173.35 519.07,175 520.83,175.08 519.45,176.17 519.92,177.87 518.45,176.9 516.98,177.87 517.45,176.17 516.07,175.08 517.83,175" fill="#fff" stroke="#555" stroke-width="0.55"/>
<polygon points="523.24,174.6 523.85,176.25 525.62,176.33 524.24,177.42 524.71,179.12 523.24,178.15 521.77,179.12 522.24,177.42 520.86,176.33 522.62,176.25" fill="#fff" stroke="#555" stroke-width="0.55"/>
<polygon points="528.11,176.33 528.73,177.98 530.49,178.06 529.11,179.16 529.58,180.86 528.11,179.88 526.64,180.86 527.11,179.16 525.73,178.06 527.49,177.98" fill="#fff" stroke="#555" stroke-width="0.55"/>
<polygon points="533.07,178.01 533.69,179.66 535.45,179.73 534.07,180.83 534.54,182.53 533.07,181.56 531.6,182.53 532.08,180.83 530.7,179.73 532.46,179.66" fill="#fff" stroke="#555" stroke-width="0.55"/>
<polygon points="538.13,179.74 538.74,181.39 540.5,181.47 539.13,182.56 539.6,184.26 538.13,183.29 536.66,184.26 537.13,182.56 535.75,181.47 537.51,181.39" fill="#fff" stroke="#555" stroke-width="0.55"/>
<polygon points="543.27,182.18 543.89,183.83 545.65,183.91 544.27,185.01 544.74,186.7 543.27,185.73 541.8,186.7 542.27,185.01 540.89,183.91 542.66,183.83" fill="#fff" stroke="#555" stroke-width="0.55"/>
<polygon points="548.51,185.3 549.13,186.95 550.89,187.03 549.51,188.13 549.98,189.83 548.51,188.85 547.04,189.83 547.51,188.13 546.13,187.03 547.89,186.95" fill="#fff" stroke="#555" stroke-width="0.55"/>
<polygon points="553.85,188.08 554.46,189.73 556.22,189.81 554.84,190.91 555.32,192.61 553.85,191.63 552.38,192.61 552.85,190.91 551.47,189.81 553.23,189.73" fill="#fff" stroke="#555" stroke-width="0.55"/>
<polygon points="559.28,190.73 559.9,192.38 561.66,192.46 560.28,193.56 560.75,195.26 559.28,194.28 557.81,195.26 558.28,193.56 556.9,192.46 558.66,192.38" fill="#fff" stroke="#555" stroke-width="0.55"/>
<polygon points="564.81,193.41 565.43,195.06 567.19,195.13 565.81,196.23 566.28,197.93 564.81,196.96 563.34,197.93 563.81,196.23 562.43,195.13 564.19,195.06" fill="#fff" stroke="#555" stroke-width="0.55"/>
<polygon points="570.44,195.93 571.06,197.58 572.82,197.66 571.44,198.76 571.91,200.45 570.44,199.48 568.97,200.45 569.44,198.76 568.06,197.66 569.82,197.58" fill="#fff" stroke="#555" stroke-width="0.55"/>
<polygon points="576.18,197.65 576.79,199.3 578.55,199.38 577.17,200.48 577.64,202.18 576.18,201.2 574.71,202.18 575.18,200.48 573.8,199.38 575.56,199.3" fill="#fff" stroke="#555" stroke-width="0.55"/>
<polygon points="582.01,198.83 582.63,200.48 584.39,200.56 583.01,201.66 583.48,203.35 582.01,202.38 580.54,203.35 581.02,201.66 579.64,200.56 581.4,200.48" fill="#fff" stroke="#555" stroke-width="0.55"/>
<polygon points="587.96,199.59 588.58,201.24 590.34,201.32 588.96,202.41 589.43,204.11 587.96,203.14 586.49,204.11 586.96,202.41 585.58,201.32 587.34,201.24" fill="#fff" stroke="#555" stroke-width="0.55"/>
<polygon points="594.01,200.07 594.63,201.72 596.39,201.8 595.01,202.9 595.48,204.6 594.01,203.62 592.54,204.6 593.01,202.9 591.63,201.8 593.39,201.72" fill="#fff" stroke="#555" stroke-width="0.55"/>
<polygon points="600.17,200.31 600.78,201.96 602.54,202.03 601.16,203.13 601.63,204.83 600.17,203.86 598.7,204.83 599.17,203.13 597.79,202.03 599.55,201.96" fill="#fff" stroke="#555" stroke-width="0.55"/>
<polygon points="606.43,200.49 607.04,202.14 608.8,202.22 607.42,203.31 607.89,205.01 606.43,204.04 604.96,205.01 605.43,203.31 604.05,202.22 605.81,202.14" fill="#fff" stroke="#555" stroke-width="0.55"/>
<polygon points="612.79,200.62 613.41,202.27 615.17,202.35 613.79,203.44 614.26,205.14 612.79,204.17 611.32,205.14 611.79,203.44 610.41,202.35 612.18,202.27" fill="#fff" stroke="#555" stroke-width="0.55"/>
<polygon points="619.27,200.69 619.89,202.35 621.65,202.42 620.27,203.52 620.74,205.22 619.27,204.24 617.8,205.22 618.27,203.52 616.89,202.42 618.65,202.35" fill="#fff" stroke="#555" stroke-width="0.55"/>
<polygon points="625.86,200.74 626.47,202.39 628.23,202.46 626.85,203.56 627.33,205.26 625.86,204.29 624.39,205.26 624.86,203.56 623.48,202.46 625.24,202.39" fill="#fff" stroke="#555" stroke-width="0.55"/>
<polygon points="632.5,200.77 633.11,202.42 634.87,202.5 633.49,203.59 633.96,205.29 632.5,204.32 631.03,205.29 631.5,203.59 630.12,202.5 631.88,202.42" fill="#fff" stroke="#555" stroke-width="0.55"/>
<polygon points="639.18,200.79 639.8,202.44 641.56,202.52 640.18,203.62 640.65,205.31 639.18,204.34 637.71,205.31 638.18,203.62 636.8,202.52 638.56,202.44" fill="#fff" stroke="#555" stroke-width="0.55"/>
<polyline points="414.8,205.32 415.3,205.27 415.8,205.22 416.3,205.17 416.8,205.12 417.3,205.07 417.8,205.02 418.3,204.97 418.8,204.91 419.3,204.86 419.8,204.81 420.3,204.75 420.8,204.7 421.3,204.64 421.8,204.58 422.3,204.53 422.8,204.47 423.3,204.41 423.8,204.36 424.3,204.3 424.8,204.24 425.3,204.18 425.8,204.12 426.3,204.06 426.8,204 427.3,203.94 427.8,203.87 428.3,203.81 428.8,203.75 429.3,203.69 429.8,203.63 430.3,203.56 430.8,203.5 431.3,203.43 431.8,203.37 432.3,203.3 432.8,203.24 433.3,203.17 433.8,203.1 434.3,203.03 434.8,202.96 435.3,202.89 435.8,202.82 436.3,202.75 436.8,202.68 437.3,202.61 437.8,202.53 438.3,202.46 438.8,202.38 439.3,202.31 439.8,202.23 440.3,202.15 440.8,202.08 441.3,202 441.8,201.93 442.3,201.86 442.8,201.79 443.3,201.71 443.8,201.64 444.3,201.57 444.8,201.5 445.3,201.42 445.8,201.35 446.3,201.28 446.8,201.2 447.3,201.12 447.8,201.04 448.3,200.96 448.8,200.88 449.3,200.8 449.8,200.71 450.3,200.62 450.8,200.52 451.3,200.43 451.8,200.33 452.3,200.23 452.8,200.12 453.3,200.01 453.8,199.89 454.3,199.77 454.8,199.65 455.3,199.52 455.8,199.38 456.3,199.22 456.8,199.04 457.3,198.86 457.8,198.66 458.3,198.46 458.8,198.24 459.3,198.02 459.8,197.79 460.3,197.55 460.8,197.31 461.3,197.06 461.8,196.81 462.3,196.56 462.8,196.31 463.3,196.05 463.8,195.8 464.3,195.55 464.8,195.3 465.3,195.05 465.8,194.8 466.3,194.54 466.8,194.28 467.3,194.01 467.8,193.74 468.3,193.46 468.8,193.18 469.3,192.9 469.8,192.62 470.3,192.33 470.8,192.04 471.3,191.75 471.8,191.46 472.3,191.17 472.8,190.88 473.3,190.59 473.8,190.3 474.3,190 474.8,189.72 475.3,189.43 475.8,189.13 476.3,188.84 476.8,188.54 477.3,188.23 477.8,187.92 478.3,187.62 478.8,187.3 479.3,186.99 479.8,186.68 480.3,186.36 480.8,186.05 481.3,185.74 481.8,185.42 482.3,185.11 482.8,184.8 483.3,184.5 483.8,184.19 484.3,183.89 484.8,183.59 485.3,183.3 485.8,183.01 486.3,182.73 486.8,182.45 487.3,182.18 487.8,181.91 488.3,181.65 488.8,181.4 489.3,181.15 489.8,180.91 490.3,180.67 490.8,180.43 491.3,180.2 491.8,179.97 492.3,179.74 492.8,179.51 493.3,179.29 493.8,179.07 494.3,178.85 494.8,178.64 495.3,178.43 495.8,178.22 496.3,178.02 496.8,177.82 497.3,177.62 497.8,177.42 498.3,177.23 498.8,177.04 499.3,176.85 499.8,176.67 500.3,176.49 500.8,176.29 501.3,176.09 501.8,175.89 502.3,175.69 502.8,175.5 503.3,175.33 503.8,175.19 504.3,175.08 504.8,175.02 505.3,174.98 505.8,174.96 506.3,174.93 506.8,174.91 507.3,174.89 507.8,174.87 508.3,174.85 508.8,174.84 509.3,174.83 509.8,174.82 510.3,174.81 510.8,174.8 511.3,174.8 511.8,174.8 512.3,174.82 512.8,174.85 513.3,174.89 513.8,174.94 514.3,175.01 514.8,175.09 515.3,175.18 515.8,175.27 516.3,175.37 516.8,175.48 517.3,175.59 517.8,175.7 518.3,175.81 518.8,175.93 519.3,176.04 519.8,176.16 520.3,176.27 520.8,176.39 521.3,176.52 521.8,176.66 522.3,176.8 522.8,176.96 523.3,177.12 523.8,177.28 524.3,177.45 524.8,177.63 525.3,177.81 525.8,177.99 526.3,178.17 526.8,178.35 527.3,178.54 527.8,178.72 528.3,178.9 528.8,179.08 529.3,179.26 529.8,179.43 530.3,179.6 530.8,179.77 531.3,179.93 531.8,180.1 532.3,180.26 532.8,180.42 533.3,180.58 533.8,180.74 534.3,180.9 534.8,181.07 535.3,181.23 535.8,181.4 536.3,181.58 536.8,181.75 537.3,181.93 537.8,182.12 538.3,182.31 538.8,182.5 539.3,182.7 539.8,182.91 540.3,183.13 540.8,183.36 541.3,183.61 541.8,183.87 542.3,184.13 542.8,184.41 543.3,184.7 543.8,184.99 544.3,185.28 544.8,185.59 545.3,185.89 545.8,186.19 546.3,186.5 546.8,186.8 547.3,187.1 547.8,187.39 548.3,187.68 548.8,187.97 549.3,188.24 549.8,188.51 550.3,188.77 550.8,189.03 551.3,189.29 551.8,189.55 552.3,189.8 552.8,190.06 553.3,190.31 553.8,190.56 554.3,190.81 554.8,191.06 555.3,191.31 555.8,191.55 556.3,191.8 556.8,192.04 557.3,192.28 557.8,192.53 558.3,192.77 558.8,193.01 559.3,193.24 559.8,193.48 560.3,193.72 560.8,193.95 561.3,194.19 561.8,194.43 562.3,194.67 562.8,194.92 563.3,195.16 563.8,195.41 564.3,195.66 564.8,195.9 565.3,196.15 565.8,196.39 566.3,196.63 566.8,196.87 567.3,197.1 567.8,197.33 568.3,197.55 568.8,197.77 569.3,197.98 569.8,198.18 570.3,198.38 570.8,198.56 571.3,198.74 571.8,198.91 572.3,199.06 572.8,199.21 573.3,199.36 573.8,199.51 574.3,199.65 574.8,199.79 575.3,199.93 575.8,200.06 576.3,200.19 576.8,200.31 577.3,200.43 577.8,200.55 578.3,200.66 578.8,200.77 579.3,200.87 579.8,200.97 580.3,201.06 580.8,201.14 581.3,201.22 581.8,201.3 582.3,201.37 582.8,201.44 583.3,201.51 583.8,201.58 584.3,201.65 584.8,201.71 585.3,201.78 585.8,201.84 586.3,201.9 586.8,201.96 587.3,202.02 587.8,202.07 588.3,202.13 588.8,202.18 589.3,202.23 589.8,202.27 590.3,202.32 590.8,202.36 591.3,202.4 591.8,202.44 592.3,202.47 592.8,202.51 593.3,202.54 593.8,202.56 594.3,202.59 594.8,202.61 595.3,202.63 595.8,202.65 596.3,202.67 596.8,202.69 597.3,202.71 597.8,202.72 598.3,202.74 598.8,202.76 599.3,202.78 599.8,202.79 600.3,202.81 600.8,202.83 601.3,202.84 601.8,202.86 602.3,202.88 602.8,202.89 603.3,202.9 603.8,202.92 604.3,202.93 604.8,202.95 605.3,202.96 605.8,202.97 606.3,202.99 606.8,203 607.3,203.01 607.8,203.02 608.3,203.03 608.8,203.04 609.3,203.05 609.8,203.06 610.3,203.07 610.8,203.08 611.3,203.09 611.8,203.1 612.3,203.11 612.8,203.12 613.3,203.13 613.8,203.13 614.3,203.14 614.8,203.15 615.3,203.15 615.8,203.16 616.3,203.17 616.8,203.17 617.3,203.18 617.8,203.18 618.3,203.19 618.8,203.19 619.3,203.2 619.8,203.2 620.3,203.2 620.8,203.21 621.3,203.21 621.8,203.21 622.3,203.21 622.8,203.22 623.3,203.22 623.8,203.22 624.3,203.23 624.8,203.23 625.3,203.23 625.8,203.24 626.3,203.24 626.8,203.24 627.3,203.24 627.8,203.25 628.3,203.25 628.8,203.25 629.3,203.25 629.8,203.26 630.3,203.26 630.8,203.26 631.3,203.26 631.8,203.27 632.3,203.27 632.8,203.27 633.3,203.27 633.8,203.27 634.3,203.28 634.8,203.28 635.3,203.28 635.8,203.28 636.3,203.28 636.8,203.29 637.3,203.29 637.8,203.29 638.3,203.29 638.8,203.29 639.3,203.29 639.8,203.29 640.3,203.29 640.8,203.3 641.3,203.3 641.8,203.3 642.3,203.3 642.8,203.3 643.3,203.3 643.8,203.3 644.3,203.3 644.8,203.3 645.3,203.3 645.8,203.3" fill="none" stroke="#000" stroke-width="0.8" stroke-linejoin="round"/>
<polyline points="505.3,173.18 505.8,173.16 506.3,173.13 506.8,173.11 507.3,173.09 507.8,173.07 508.3,173.05 508.8,173.04 509.3,173.03 509.8,173.02 510.3,173.01 510.8,173 511.3,173 511.8,173 512.3,173.02 512.8,173.05 513.3,173.09 513.8,173.14 514.3,173.21 514.8,173.29 515.3,173.38 515.8,173.47 516.3,173.57 516.8,173.68 517.3,173.79 517.8,173.9 518.3,174.01 518.8,174.13 519.3,174.24 519.8,174.36 520.3,174.47 520.8,174.59 521.3,174.72 521.8,174.86 522.3,175 522.8,175.16 523.3,175.32 523.8,175.48 524.3,175.65 524.8,175.83 525.3,176.01 525.8,176.19 526.3,176.37 526.8,176.55 527.3,176.74 527.8,176.92 528.3,177.1 528.8,177.28 529.3,177.46 529.8,177.63 530.3,177.8 530.8,177.97 531.3,178.13 531.8,178.3 532.3,178.46 532.8,178.62 533.3,178.78 533.8,178.94 534.3,179.1 534.8,179.27 535.3,179.43 535.8,179.6 536.3,179.78 536.8,179.95 537.3,180.13 537.8,180.32 538.3,180.51 538.8,180.7 539.3,180.9 539.8,181.11 540.3,181.33 540.8,181.56 541.3,181.81 541.8,182.07 542.3,182.33 542.8,182.61 543.3,182.9 543.8,183.19 544.3,183.48 544.8,183.79 545.3,184.09 545.8,184.39 546.3,184.7 546.8,185 547.3,185.3 547.8,185.59 548.3,185.88 548.8,186.17 549.3,186.44 549.8,186.71 550.3,186.97 550.8,187.23 551.3,187.49 551.8,187.75 552.3,188 552.8,188.26 553.3,188.51 553.8,188.76 554.3,189.01 554.8,189.26 555.3,189.51 555.8,189.75 556.3,190 556.8,190.24 557.3,190.48 557.8,190.73 558.3,190.97 558.8,191.21 559.3,191.44 559.8,191.68 560.3,191.92 560.8,192.15 561.3,192.39 561.8,192.63 562.3,192.87 562.8,193.12 563.3,193.36 563.8,193.61 564.3,193.86 564.8,194.1 565.3,194.35 565.8,194.59 566.3,194.83 566.8,195.07 567.3,195.3 567.8,195.53 568.3,195.75 568.8,195.97 569.3,196.18 569.8,196.38 570.3,196.58 570.8,196.76 571.3,196.94 571.8,197.11 572.3,197.26 572.8,197.41 573.3,197.56 573.8,197.71 574.3,197.85 574.8,197.99 575.3,198.13 575.8,198.26 576.3,198.39 576.8,198.51 577.3,198.63 577.8,198.75 578.3,198.86 578.8,198.97 579.3,199.07 579.8,199.17 580.3,199.26 580.8,199.34 581.3,199.42 581.8,199.5 582.3,199.57 582.8,199.64 583.3,199.71 583.8,199.78 584.3,199.85 584.8,199.91 585.3,199.98 585.8,200.04 586.3,200.1 586.8,200.16 587.3,200.22 587.8,200.27 588.3,200.33 588.8,200.38 589.3,200.43 589.8,200.47 590.3,200.52 590.8,200.56 591.3,200.6 591.8,200.64 592.3,200.67 592.8,200.71 593.3,200.74 593.8,200.76 594.3,200.79 594.8,200.81 595.3,200.83 595.8,200.85 596.3,200.87 596.8,200.89 597.3,200.91 597.8,200.92 598.3,200.94 598.8,200.96 599.3,200.98 599.8,200.99 600.3,201.01 600.8,201.03 601.3,201.04 601.8,201.06 602.3,201.08 602.8,201.09 603.3,201.1 603.8,201.12 604.3,201.13 604.8,201.15 605.3,201.16 605.8,201.17 606.3,201.19 606.8,201.2 607.3,201.21 607.8,201.22 608.3,201.23 608.8,201.24 609.3,201.25 609.8,201.26 610.3,201.27 610.8,201.28 611.3,201.29 611.8,201.3 612.3,201.31 612.8,201.32 613.3,201.33 613.8,201.33 614.3,201.34 614.8,201.35 615.3,201.35 615.8,201.36 616.3,201.37 616.8,201.37 617.3,201.38 617.8,201.38 618.3,201.39 618.8,201.39 619.3,201.4 619.8,201.4 620.3,201.4 620.8,201.41 621.3,201.41 621.8,201.41 622.3,201.41 622.8,201.42 623.3,201.42 623.8,201.42 624.3,201.43 624.8,201.43 625.3,201.43 625.8,201.44 626.3,201.44 626.8,201.44 627.3,201.44 627.8,201.45 628.3,201.45 628.8,201.45 629.3,201.45 629.8,201.46 630.3,201.46 630.8,201.46 631.3,201.46 631.8,201.47 632.3,201.47 632.8,201.47 633.3,201.47 633.8,201.47 634.3,201.48 634.8,201.48 635.3,201.48 635.8,201.48 636.3,201.48 636.8,201.49 637.3,201.49 637.8,201.49 638.3,201.49 638.8,201.49 639.3,201.49 639.8,201.49 640.3,201.49 640.8,201.5 641.3,201.5 641.8,201.5 642.3,201.5 642.8,201.5 643.3,201.5 643.8,201.5 644.3,201.5 644.8,201.5 645.3,201.5 645.8,201.5" fill="none" stroke="#222" stroke-width="0.7" stroke-linejoin="round"/>
<line x1="483.1" y1="132" x2="483.1" y2="152" stroke="#999" stroke-width="0.9" stroke-linecap="butt"/>
<line x1="481" y1="132" x2="485.2" y2="132" stroke="#999" stroke-width="0.9" stroke-linecap="butt"/>
<line x1="481" y1="152" x2="485.2" y2="152" stroke="#999" stroke-width="0.9" stroke-linecap="butt"/>
<line x1="487.6" y1="107" x2="487.6" y2="128" stroke="#999" stroke-width="0.9" stroke-linecap="butt"/>
<line x1="485.5" y1="107" x2="489.7" y2="107" stroke="#999" stroke-width="0.9" stroke-linecap="butt"/>
<line x1="485.5" y1="128" x2="489.7" y2="128" stroke="#999" stroke-width="0.9" stroke-linecap="butt"/>
<line x1="491.9" y1="88" x2="491.9" y2="110" stroke="#999" stroke-width="0.9" stroke-linecap="butt"/>
<line x1="489.8" y1="88" x2="494" y2="88" stroke="#999" stroke-width="0.9" stroke-linecap="butt"/>
<line x1="489.8" y1="110" x2="494" y2="110" stroke="#999" stroke-width="0.9" stroke-linecap="butt"/>
<line x1="495.8" y1="65" x2="495.8" y2="101" stroke="#999" stroke-width="0.9" stroke-linecap="butt"/>
<line x1="493.7" y1="65" x2="497.9" y2="65" stroke="#999" stroke-width="0.9" stroke-linecap="butt"/>
<line x1="493.7" y1="101" x2="497.9" y2="101" stroke="#999" stroke-width="0.9" stroke-linecap="butt"/>
<line x1="500.3" y1="50.1" x2="500.3" y2="90" stroke="#999" stroke-width="0.9" stroke-linecap="butt"/>
<line x1="498.2" y1="50.1" x2="502.4" y2="50.1" stroke="#999" stroke-width="0.9" stroke-linecap="butt"/>
<line x1="498.2" y1="90" x2="502.4" y2="90" stroke="#999" stroke-width="0.9" stroke-linecap="butt"/>
<line x1="504.8" y1="48.5" x2="504.8" y2="88.6" stroke="#999" stroke-width="0.9" stroke-linecap="butt"/>
<line x1="502.7" y1="48.5" x2="506.9" y2="48.5" stroke="#999" stroke-width="0.9" stroke-linecap="butt"/>
<line x1="502.7" y1="88.6" x2="506.9" y2="88.6" stroke="#999" stroke-width="0.9" stroke-linecap="butt"/>
<line x1="509.2" y1="54.6" x2="509.2" y2="99.8" stroke="#999" stroke-width="0.9" stroke-linecap="butt"/>
<line x1="507.1" y1="54.6" x2="511.3" y2="54.6" stroke="#999" stroke-width="0.9" stroke-linecap="butt"/>
<line x1="507.1" y1="99.8" x2="511.3" y2="99.8" stroke="#999" stroke-width="0.9" stroke-linecap="butt"/>
<line x1="513.4" y1="62" x2="513.4" y2="122" stroke="#999" stroke-width="0.9" stroke-linecap="butt"/>
<line x1="511.3" y1="62" x2="515.5" y2="62" stroke="#999" stroke-width="0.9" stroke-linecap="butt"/>
<line x1="511.3" y1="122" x2="515.5" y2="122" stroke="#999" stroke-width="0.9" stroke-linecap="butt"/>
<line x1="517.7" y1="100" x2="517.7" y2="155" stroke="#999" stroke-width="0.9" stroke-linecap="butt"/>
<line x1="515.6" y1="100" x2="519.8" y2="100" stroke="#999" stroke-width="0.9" stroke-linecap="butt"/>
<line x1="515.6" y1="155" x2="519.8" y2="155" stroke="#999" stroke-width="0.9" stroke-linecap="butt"/>
<line x1="522.2" y1="140" x2="522.2" y2="175" stroke="#999" stroke-width="0.9" stroke-linecap="butt"/>
<line x1="520.1" y1="140" x2="524.3" y2="140" stroke="#999" stroke-width="0.9" stroke-linecap="butt"/>
<line x1="520.1" y1="175" x2="524.3" y2="175" stroke="#999" stroke-width="0.9" stroke-linecap="butt"/>
<rect x="423.11" y="204.53" width="5.8" height="5.8" fill="#000"/>
<rect x="427.44" y="204.41" width="5.8" height="5.8" fill="#000"/>
<rect x="431.79" y="204.2" width="5.8" height="5.8" fill="#000"/>
<rect x="436.13" y="203.84" width="5.8" height="5.8" fill="#000"/>
<rect x="440.49" y="203.22" width="5.8" height="5.8" fill="#000"/>
<rect x="444.85" y="202.15" width="5.8" height="5.8" fill="#000"/>
<rect x="449.22" y="200.3" width="5.8" height="5.8" fill="#000"/>
<rect x="453.25" y="195.55" width="6.5" height="6.5" fill="#000"/>
<rect x="457.65" y="191.95" width="6.5" height="6.5" fill="#000"/>
<rect x="462.05" y="187.25" width="6.5" height="6.5" fill="#000"/>
<rect x="466.75" y="179.35" width="6.5" height="6.5" fill="#000"/>
<rect x="471.45" y="169.05" width="6.5" height="6.5" fill="#000"/>
<rect x="475.15" y="157.15" width="6.5" height="6.5" fill="#000"/>
<rect x="479.65" y="139.15" width="6.5" height="6.5" fill="#000"/>
<rect x="484.15" y="114.55" width="6.5" height="6.5" fill="#000"/>
<rect x="488.45" y="95.35" width="6.5" height="6.5" fill="#000"/>
<rect x="492.35" y="79.95" width="6.5" height="6.5" fill="#000"/>
<rect x="496.85" y="66.85" width="6.5" height="6.5" fill="#000"/>
<rect x="501.35" y="64.75" width="6.5" height="6.5" fill="#000"/>
<rect x="505.75" y="73.75" width="6.5" height="6.5" fill="#000"/>
<rect x="509.95" y="90.05" width="6.5" height="6.5" fill="#000"/>
<rect x="514.25" y="124.35" width="6.5" height="6.5" fill="#000"/>
<rect x="518.75" y="155.25" width="6.5" height="6.5" fill="#000"/>
<rect x="523.25" y="180.25" width="6.5" height="6.5" fill="#000"/>
<rect x="528.1" y="189.1" width="5.8" height="5.8" fill="#000"/>
<rect x="532.6" y="194.1" width="5.8" height="5.8" fill="#000"/>
<rect x="537.1" y="196.6" width="5.8" height="5.8" fill="#000"/>
<rect x="541.6" y="198.1" width="5.8" height="5.8" fill="#000"/>
<rect x="546.1" y="199.6" width="5.8" height="5.8" fill="#000"/>
<rect x="550.6" y="200.6" width="5.8" height="5.8" fill="#000"/>
<rect x="555.1" y="201.3" width="5.8" height="5.8" fill="#000"/>
<rect x="559.6" y="201.7" width="5.8" height="5.8" fill="#000"/>
<rect x="560.61" y="202.7" width="5.8" height="5.8" fill="#000"/>
<rect x="566.22" y="202.7" width="5.8" height="5.8" fill="#000"/>
<rect x="571.93" y="202.7" width="5.8" height="5.8" fill="#000"/>
<rect x="577.74" y="202.7" width="5.8" height="5.8" fill="#000"/>
<rect x="583.66" y="202.7" width="5.8" height="5.8" fill="#000"/>
<rect x="589.69" y="202.7" width="5.8" height="5.8" fill="#000"/>
<rect x="595.82" y="202.7" width="5.8" height="5.8" fill="#000"/>
<rect x="602.05" y="202.7" width="5.8" height="5.8" fill="#000"/>
<rect x="608.4" y="202.7" width="5.8" height="5.8" fill="#000"/>
<rect x="614.85" y="202.7" width="5.8" height="5.8" fill="#000"/>
<rect x="621.41" y="202.7" width="5.8" height="5.8" fill="#000"/>
<rect x="628.04" y="202.7" width="5.8" height="5.8" fill="#000"/>
<rect x="634.71" y="202.7" width="5.8" height="5.8" fill="#000"/>
<rect x="641.43" y="202.7" width="5.8" height="5.8" fill="#000"/>
</g>
<rect x="413.8" y="17.1" width="234.2" height="189.3" fill="none" stroke="#000" stroke-width="1.6"/>
<line x1="409.8" y1="206.4" x2="413.8" y2="206.4" stroke="#000" stroke-width="1.2" stroke-linecap="butt"/>
<line x1="411.2" y1="187.47" x2="413.8" y2="187.47" stroke="#000" stroke-width="1.2" stroke-linecap="butt"/>
<line x1="409.8" y1="168.54" x2="413.8" y2="168.54" stroke="#000" stroke-width="1.2" stroke-linecap="butt"/>
<line x1="411.2" y1="149.61" x2="413.8" y2="149.61" stroke="#000" stroke-width="1.2" stroke-linecap="butt"/>
<line x1="409.8" y1="130.68" x2="413.8" y2="130.68" stroke="#000" stroke-width="1.2" stroke-linecap="butt"/>
<line x1="411.2" y1="111.75" x2="413.8" y2="111.75" stroke="#000" stroke-width="1.2" stroke-linecap="butt"/>
<line x1="409.8" y1="92.82" x2="413.8" y2="92.82" stroke="#000" stroke-width="1.2" stroke-linecap="butt"/>
<line x1="411.2" y1="73.89" x2="413.8" y2="73.89" stroke="#000" stroke-width="1.2" stroke-linecap="butt"/>
<line x1="409.8" y1="54.96" x2="413.8" y2="54.96" stroke="#000" stroke-width="1.2" stroke-linecap="butt"/>
<line x1="411.2" y1="36.03" x2="413.8" y2="36.03" stroke="#000" stroke-width="1.2" stroke-linecap="butt"/>
<line x1="409.8" y1="17.1" x2="413.8" y2="17.1" stroke="#000" stroke-width="1.2" stroke-linecap="butt"/>
<text x="407.2" y="20.3" font-size="9.2" text-anchor="end" fill="#000">1,0E7</text>
<text x="407.2" y="58.16" font-size="9.2" text-anchor="end" fill="#000">8,0E6</text>
<text x="407.2" y="96.02" font-size="9.2" text-anchor="end" fill="#000">6,0E6</text>
<text x="407.2" y="133.88" font-size="9.2" text-anchor="end" fill="#000">4,0E6</text>
<text x="407.2" y="171.74" font-size="9.2" text-anchor="end" fill="#000">2,0E6</text>
<text x="407.2" y="209.6" font-size="9.2" text-anchor="end" fill="#000">0,0</text>
<line x1="414.16" y1="206.4" x2="414.16" y2="208.6" stroke="#000" stroke-width="1.2" stroke-linecap="butt"/>
<line x1="419.62" y1="206.4" x2="419.62" y2="208.6" stroke="#000" stroke-width="1.2" stroke-linecap="butt"/>
<line x1="424.5" y1="206.4" x2="424.5" y2="209.6" stroke="#000" stroke-width="1.2" stroke-linecap="butt"/>
<line x1="456.6" y1="206.4" x2="456.6" y2="208.6" stroke="#000" stroke-width="1.2" stroke-linecap="butt"/>
<line x1="475.38" y1="206.4" x2="475.38" y2="208.6" stroke="#000" stroke-width="1.2" stroke-linecap="butt"/>
<line x1="488.71" y1="206.4" x2="488.71" y2="208.6" stroke="#000" stroke-width="1.2" stroke-linecap="butt"/>
<line x1="499.05" y1="206.4" x2="499.05" y2="208.6" stroke="#000" stroke-width="1.2" stroke-linecap="butt"/>
<line x1="507.49" y1="206.4" x2="507.49" y2="208.6" stroke="#000" stroke-width="1.2" stroke-linecap="butt"/>
<line x1="514.63" y1="206.4" x2="514.63" y2="208.6" stroke="#000" stroke-width="1.2" stroke-linecap="butt"/>
<line x1="520.81" y1="206.4" x2="520.81" y2="208.6" stroke="#000" stroke-width="1.2" stroke-linecap="butt"/>
<line x1="526.27" y1="206.4" x2="526.27" y2="208.6" stroke="#000" stroke-width="1.2" stroke-linecap="butt"/>
<line x1="531.15" y1="206.4" x2="531.15" y2="209.6" stroke="#000" stroke-width="1.2" stroke-linecap="butt"/>
<line x1="563.25" y1="206.4" x2="563.25" y2="208.6" stroke="#000" stroke-width="1.2" stroke-linecap="butt"/>
<line x1="582.03" y1="206.4" x2="582.03" y2="208.6" stroke="#000" stroke-width="1.2" stroke-linecap="butt"/>
<line x1="595.36" y1="206.4" x2="595.36" y2="208.6" stroke="#000" stroke-width="1.2" stroke-linecap="butt"/>
<line x1="605.7" y1="206.4" x2="605.7" y2="208.6" stroke="#000" stroke-width="1.2" stroke-linecap="butt"/>
<line x1="614.14" y1="206.4" x2="614.14" y2="208.6" stroke="#000" stroke-width="1.2" stroke-linecap="butt"/>
<line x1="621.28" y1="206.4" x2="621.28" y2="208.6" stroke="#000" stroke-width="1.2" stroke-linecap="butt"/>
<line x1="627.46" y1="206.4" x2="627.46" y2="208.6" stroke="#000" stroke-width="1.2" stroke-linecap="butt"/>
<line x1="632.92" y1="206.4" x2="632.92" y2="208.6" stroke="#000" stroke-width="1.2" stroke-linecap="butt"/>
<line x1="637.8" y1="206.4" x2="637.8" y2="209.6" stroke="#000" stroke-width="1.2" stroke-linecap="butt"/>
<text x="424.5" y="219.3" font-size="8.3" text-anchor="middle" fill="#000">10</text>
<text x="531.15" y="219.3" font-size="8.3" text-anchor="middle" fill="#000">100</text>
<text x="637.8" y="219.3" font-size="8.3" text-anchor="middle" fill="#000">1000</text>
<text x="525.8" y="9.1" font-size="10.8" text-anchor="middle" textLength="46.8" lengthAdjust="spacingAndGlyphs" fill="#000">B7, 40°C</text>
<text x="532.2" y="233.2" font-size="11.9" text-anchor="middle" textLength="44.9" lengthAdjust="spacingAndGlyphs" fill="#000">Dp (nm)</text>
<text transform="translate(373.3 115.6) rotate(-90)" font-size="12.3" text-anchor="middle">dN/dlogDp (cm<tspan font-size="8.3" dy="-4.5">-3</tspan><tspan dy="4.5">)</tspan></text>
<rect x="546" y="31.5" width="3" height="3" fill="#000"/>
<text x="553.7" y="34" font-size="9.5" fill="#000">em #1</text>
<circle cx="547.5" cy="45.4" r="1.8" fill="#000"/>
<text x="553.7" y="46.3" font-size="9.5" fill="#000">em #2</text>
<polygon points="547.5,54.9 548.09,56.48 549.78,56.56 548.46,57.61 548.91,59.24 547.5,58.31 546.09,59.24 546.54,57.61 545.22,56.56 546.91,56.48" fill="#ddd" stroke="#aaa" stroke-width="0.5"/>
<text x="553.7" y="58.5" font-size="9.5" fill="#000">em #3</text>
<line x1="548.3" y1="68" x2="550.8" y2="68" stroke="#000" stroke-width="1.2" stroke-linecap="butt"/>
<text x="553.7" y="70.8" font-size="9.6" textLength="89.3" lengthAdjust="spacingAndGlyphs" fill="#000">Sub mods of em #1</text>
<line x1="69" y1="272" x2="260.5" y2="272" stroke="#6e6e6e" stroke-width="1.4" stroke-linecap="butt"/>
<line x1="69.4" y1="417.7" x2="259.8" y2="417.7" stroke="#000" stroke-width="1.4" stroke-linecap="butt"/>
<line x1="75" y1="272" x2="75" y2="418.4" stroke="#000" stroke-width="1.4" stroke-linecap="butt"/>
<line x1="259.8" y1="272" x2="259.8" y2="418.4" stroke="#000" stroke-width="1.4" stroke-linecap="butt"/>
<line x1="102.6" y1="417.7" x2="102.6" y2="420.9" stroke="#000" stroke-width="1.2" stroke-linecap="butt"/>
<line x1="168.6" y1="417.7" x2="168.6" y2="420.9" stroke="#000" stroke-width="1.2" stroke-linecap="butt"/>
<line x1="234.6" y1="417.7" x2="234.6" y2="420.9" stroke="#000" stroke-width="1.2" stroke-linecap="butt"/>
<line x1="69.6" y1="417.7" x2="69.6" y2="419.9" stroke="#000" stroke-width="1.2" stroke-linecap="butt"/>
<line x1="135.6" y1="417.7" x2="135.6" y2="419.9" stroke="#000" stroke-width="1.2" stroke-linecap="butt"/>
<line x1="201.6" y1="417.7" x2="201.6" y2="419.9" stroke="#000" stroke-width="1.2" stroke-linecap="butt"/>
<text x="102.6" y="428.8" font-size="8.2" text-anchor="middle" fill="#000">1</text>
<text x="168.6" y="428.8" font-size="8.2" text-anchor="middle" fill="#000">2</text>
<text x="234.6" y="428.8" font-size="8.2" text-anchor="middle" fill="#000">3</text>
<text x="168.5" y="440.5" font-size="12" text-anchor="middle" textLength="81.7" lengthAdjust="spacingAndGlyphs" fill="#000">Engine modes</text>
<line x1="71.2" y1="410.4" x2="75" y2="410.4" stroke="#000" stroke-width="1.2" stroke-linecap="butt"/>
<text x="69.5" y="413.2" font-size="8" text-anchor="end" textLength="20.3" lengthAdjust="spacingAndGlyphs" fill="#000">1.2E6</text>
<line x1="72.6" y1="395.85" x2="75" y2="395.85" stroke="#000" stroke-width="1.2" stroke-linecap="butt"/>
<line x1="71.2" y1="381.3" x2="75" y2="381.3" stroke="#000" stroke-width="1.2" stroke-linecap="butt"/>
<text x="69.5" y="384.1" font-size="8" text-anchor="end" textLength="20.3" lengthAdjust="spacingAndGlyphs" fill="#000">1.6E6</text>
<line x1="72.6" y1="366.75" x2="75" y2="366.75" stroke="#000" stroke-width="1.2" stroke-linecap="butt"/>
<line x1="71.2" y1="352.2" x2="75" y2="352.2" stroke="#000" stroke-width="1.2" stroke-linecap="butt"/>
<text x="69.5" y="355" font-size="8" text-anchor="end" textLength="20.3" lengthAdjust="spacingAndGlyphs" fill="#000">2.0E6</text>
<line x1="72.6" y1="337.65" x2="75" y2="337.65" stroke="#000" stroke-width="1.2" stroke-linecap="butt"/>
<line x1="71.2" y1="323.1" x2="75" y2="323.1" stroke="#000" stroke-width="1.2" stroke-linecap="butt"/>
<text x="69.5" y="325.9" font-size="8" text-anchor="end" textLength="20.3" lengthAdjust="spacingAndGlyphs" fill="#000">2.4E6</text>
<line x1="72.6" y1="308.55" x2="75" y2="308.55" stroke="#000" stroke-width="1.2" stroke-linecap="butt"/>
<line x1="71.2" y1="294" x2="75" y2="294" stroke="#000" stroke-width="1.2" stroke-linecap="butt"/>
<text x="69.5" y="296.8" font-size="8" text-anchor="end" textLength="20.3" lengthAdjust="spacingAndGlyphs" fill="#000">2.8E6</text>
<line x1="72.6" y1="279.45" x2="75" y2="279.45" stroke="#000" stroke-width="1.2" stroke-linecap="butt"/>
<line x1="256.2" y1="417.5" x2="259.8" y2="417.5" stroke="#000" stroke-width="1.2" stroke-linecap="butt"/>
<text x="262.7" y="420.3" font-size="8" fill="#000">50</text>
<line x1="257.6" y1="409.41" x2="259.8" y2="409.41" stroke="#000" stroke-width="1.2" stroke-linecap="butt"/>
<line x1="256.2" y1="401.31" x2="259.8" y2="401.31" stroke="#000" stroke-width="1.2" stroke-linecap="butt"/>
<text x="262.7" y="404.11" font-size="8" fill="#000">52</text>
<line x1="257.6" y1="393.22" x2="259.8" y2="393.22" stroke="#000" stroke-width="1.2" stroke-linecap="butt"/>
<line x1="256.2" y1="385.12" x2="259.8" y2="385.12" stroke="#000" stroke-width="1.2" stroke-linecap="butt"/>
<text x="262.7" y="387.92" font-size="8" fill="#000">54</text>
<line x1="257.6" y1="377.03" x2="259.8" y2="377.03" stroke="#000" stroke-width="1.2" stroke-linecap="butt"/>
<line x1="256.2" y1="368.94" x2="259.8" y2="368.94" stroke="#000" stroke-width="1.2" stroke-linecap="butt"/>
<text x="262.7" y="371.74" font-size="8" fill="#000">56</text>
<line x1="257.6" y1="360.84" x2="259.8" y2="360.84" stroke="#000" stroke-width="1.2" stroke-linecap="butt"/>
<line x1="256.2" y1="352.75" x2="259.8" y2="352.75" stroke="#000" stroke-width="1.2" stroke-linecap="butt"/>
<text x="262.7" y="355.55" font-size="8" fill="#000">58</text>
<line x1="257.6" y1="344.65" x2="259.8" y2="344.65" stroke="#000" stroke-width="1.2" stroke-linecap="butt"/>
<line x1="256.2" y1="336.56" x2="259.8" y2="336.56" stroke="#000" stroke-width="1.2" stroke-linecap="butt"/>
<text x="262.7" y="339.36" font-size="8" fill="#000">60</text>
<line x1="257.6" y1="328.47" x2="259.8" y2="328.47" stroke="#000" stroke-width="1.2" stroke-linecap="butt"/>
<line x1="256.2" y1="320.37" x2="259.8" y2="320.37" stroke="#000" stroke-width="1.2" stroke-linecap="butt"/>
<text x="262.7" y="323.17" font-size="8" fill="#000">62</text>
<line x1="257.6" y1="312.28" x2="259.8" y2="312.28" stroke="#000" stroke-width="1.2" stroke-linecap="butt"/>
<line x1="256.2" y1="304.18" x2="259.8" y2="304.18" stroke="#000" stroke-width="1.2" stroke-linecap="butt"/>
<text x="262.7" y="306.98" font-size="8" fill="#000">64</text>
<line x1="257.6" y1="296.09" x2="259.8" y2="296.09" stroke="#000" stroke-width="1.2" stroke-linecap="butt"/>
<line x1="256.2" y1="288" x2="259.8" y2="288" stroke="#000" stroke-width="1.2" stroke-linecap="butt"/>
<text x="262.7" y="290.8" font-size="8" fill="#000">66</text>
<line x1="257.6" y1="279.9" x2="259.8" y2="279.9" stroke="#000" stroke-width="1.2" stroke-linecap="butt"/>
<line x1="256.2" y1="271.81" x2="259.8" y2="271.81" stroke="#000" stroke-width="1.2" stroke-linecap="butt"/>
<text x="262.7" y="274.61" font-size="8" fill="#000">68</text>
<line x1="285.5" y1="271.8" x2="285.5" y2="417.5" stroke="#000" stroke-width="1.4" stroke-linecap="butt"/>
<line x1="283.3" y1="417.28" x2="285.5" y2="417.28" stroke="#000" stroke-width="1.2" stroke-linecap="butt"/>
<line x1="281.9" y1="396.5" x2="285.5" y2="396.5" stroke="#000" stroke-width="1.2" stroke-linecap="butt"/>
<text x="287.1" y="399.3" font-size="8" fill="#000">1.4</text>
<line x1="283.3" y1="375.72" x2="285.5" y2="375.72" stroke="#000" stroke-width="1.2" stroke-linecap="butt"/>
<line x1="281.9" y1="354.94" x2="285.5" y2="354.94" stroke="#000" stroke-width="1.2" stroke-linecap="butt"/>
<text x="287.1" y="357.74" font-size="8" fill="#000">1.6</text>
<line x1="283.3" y1="334.16" x2="285.5" y2="334.16" stroke="#000" stroke-width="1.2" stroke-linecap="butt"/>
<line x1="281.9" y1="313.38" x2="285.5" y2="313.38" stroke="#000" stroke-width="1.2" stroke-linecap="butt"/>
<text x="287.1" y="316.18" font-size="8" fill="#000">1.8</text>
<line x1="283.3" y1="292.6" x2="285.5" y2="292.6" stroke="#000" stroke-width="1.2" stroke-linecap="butt"/>
<line x1="281.9" y1="271.82" x2="285.5" y2="271.82" stroke="#000" stroke-width="1.2" stroke-linecap="butt"/>
<text x="287.1" y="274.62" font-size="8" fill="#000">2.0</text>
<line x1="309.5" y1="271.5" x2="309.5" y2="417.5" stroke="#000" stroke-width="1.4" stroke-linecap="butt"/>
<line x1="307.3" y1="417.25" x2="309.5" y2="417.25" stroke="#000" stroke-width="1.2" stroke-linecap="butt"/>
<line x1="305.9" y1="399.1" x2="309.5" y2="399.1" stroke="#000" stroke-width="1.2" stroke-linecap="butt"/>
<text x="311.1" y="401.9" font-size="8" fill="#000">4.0E-10</text>
<line x1="307.3" y1="380.95" x2="309.5" y2="380.95" stroke="#000" stroke-width="1.2" stroke-linecap="butt"/>
<line x1="305.9" y1="362.8" x2="309.5" y2="362.8" stroke="#000" stroke-width="1.2" stroke-linecap="butt"/>
<text x="311.1" y="365.6" font-size="8" fill="#000">6.0E-10</text>
<line x1="307.3" y1="344.65" x2="309.5" y2="344.65" stroke="#000" stroke-width="1.2" stroke-linecap="butt"/>
<line x1="305.9" y1="326.5" x2="309.5" y2="326.5" stroke="#000" stroke-width="1.2" stroke-linecap="butt"/>
<text x="311.1" y="329.3" font-size="8" fill="#000">8.0E-10</text>
<line x1="307.3" y1="308.35" x2="309.5" y2="308.35" stroke="#000" stroke-width="1.2" stroke-linecap="butt"/>
<line x1="305.9" y1="290.2" x2="309.5" y2="290.2" stroke="#000" stroke-width="1.2" stroke-linecap="butt"/>
<text x="311.1" y="293" font-size="8" fill="#000">1.0E-9</text>
<line x1="307.3" y1="272.05" x2="309.5" y2="272.05" stroke="#000" stroke-width="1.2" stroke-linecap="butt"/>
<polyline points="102.7,285.6 168.6,401.2 234.9,403.2" fill="none" stroke="#000" stroke-width="1.0" stroke-linejoin="round"/>
<circle cx="102.7" cy="285.6" r="2.4" fill="#000"/>
<circle cx="168.6" cy="401.2" r="2.4" fill="#000"/>
<circle cx="234.9" cy="403.2" r="2.4" fill="#000"/>
<polyline points="102.5,380.2 168.6,358.6 234.6,275.1" fill="none" stroke="#000" stroke-width="1.0" stroke-dasharray="5,3" stroke-linejoin="round"/>
<circle cx="102.5" cy="380.2" r="2.4" fill="#000"/>
<circle cx="168.6" cy="358.6" r="2.4" fill="#000"/>
<circle cx="234.6" cy="275.1" r="2.4" fill="#000"/>
<polyline points="102.4,395 168.6,335.2 234.6,304.8" fill="none" stroke="#000" stroke-width="1.0" stroke-dasharray="6,2.5,1.5,2.5" stroke-linejoin="round"/>
<polygon points="99.6,392.48 105.2,392.48 102.4,397.52" fill="#000"/>
<polygon points="165.8,332.68 171.4,332.68 168.6,337.72" fill="#000"/>
<polygon points="231.8,302.28 237.4,302.28 234.6,307.32" fill="#000"/>
<polyline points="102.4,394.4 168.6,400.5 234.6,282.8" fill="none" stroke="#000" stroke-width="1.0" stroke-dasharray="2.4,2" stroke-linejoin="round"/>
<rect x="100.2" y="392.2" width="4.4" height="4.4" fill="#000"/>
<rect x="166.4" y="398.3" width="4.4" height="4.4" fill="#000"/>
<rect x="232.4" y="280.6" width="4.4" height="4.4" fill="#000"/>
<line x1="132.3" y1="280.7" x2="152.4" y2="280.7" stroke="#000" stroke-width="1.0" stroke-linecap="butt"/>
<circle cx="142.2" cy="280.7" r="2.4" fill="#000"/>
<text x="155.9" y="283.6" font-size="9.3" fill="#000">TNC</text>
<line x1="132.3" y1="292" x2="137.02" y2="292" stroke="#000" stroke-width="1.0" stroke-linecap="butt"/>
<line x1="139.74" y1="292" x2="144.96" y2="292" stroke="#000" stroke-width="1.0" stroke-linecap="butt"/>
<line x1="146.37" y1="292" x2="151.19" y2="292" stroke="#000" stroke-width="1.0" stroke-linecap="butt"/>
<circle cx="142.2" cy="292" r="2.4" fill="#000"/>
<text x="155.9" y="295.2" font-size="9.3" fill="#000">GMD</text>
<line x1="132.3" y1="303.8" x2="137.53" y2="303.8" stroke="#000" stroke-width="1.0" stroke-linecap="butt"/>
<line x1="139.74" y1="303.8" x2="144.96" y2="303.8" stroke="#000" stroke-width="1.0" stroke-linecap="butt"/>
<line x1="146.37" y1="303.8" x2="151.6" y2="303.8" stroke="#000" stroke-width="1.0" stroke-linecap="butt"/>
<polygon points="139.5,301.37 144.9,301.37 142.2,306.23" fill="#000"/>
<text x="155.9" y="306.9" font-size="9.3" fill="#000">GSD</text>
<line x1="132.3" y1="315.7" x2="134.51" y2="315.7" stroke="#000" stroke-width="1.0" stroke-linecap="butt"/>
<line x1="136.12" y1="315.7" x2="138.13" y2="315.7" stroke="#000" stroke-width="1.0" stroke-linecap="butt"/>
<line x1="139.94" y1="315.7" x2="144.76" y2="315.7" stroke="#000" stroke-width="1.0" stroke-linecap="butt"/>
<line x1="146.37" y1="315.7" x2="148.38" y2="315.7" stroke="#000" stroke-width="1.0" stroke-linecap="butt"/>
<line x1="150.19" y1="315.7" x2="152.2" y2="315.7" stroke="#000" stroke-width="1.0" stroke-linecap="butt"/>
<rect x="140.1" y="313.6" width="4.2" height="4.2" fill="#000"/>
<text x="155.9" y="318.7" font-size="9.3" fill="#000">TVC</text>
<text x="168.35" y="268.4" font-size="9.3" text-anchor="middle" fill="#000">B0, 40<tspan font-size="6.2" dy="-1.5">o</tspan><tspan dy="1.5">C</tspan></text>
<text transform="translate(46.3 341.8) rotate(-90)" font-size="12.1" text-anchor="middle">dN/dlogDp (cm<tspan font-size="10.6" dy="-5.8">-3</tspan><tspan font-size="6.5" dy="5.6">)</tspan></text>
<text x="283.4" y="347.2" font-size="10.7" text-anchor="middle" transform="rotate(-90 283.4 347.2)" fill="#000">GMD</text>
<text x="305.8" y="347.2" font-size="10.9" text-anchor="middle" transform="rotate(-90 305.8 347.2)" fill="#000">GSD</text>
<text x="349.3" y="348.2" font-size="10.8" text-anchor="middle" transform="rotate(-90 349.3 348.2)" fill="#000">TVC</text>
<line x1="408" y1="273.7" x2="600.5" y2="273.7" stroke="#000" stroke-width="1.4" stroke-linecap="butt"/>
<line x1="409.2" y1="417.5" x2="596.1" y2="417.5" stroke="#000" stroke-width="1.4" stroke-linecap="butt"/>
<line x1="412.5" y1="273.7" x2="412.5" y2="418.2" stroke="#000" stroke-width="1.4" stroke-linecap="butt"/>
<line x1="596.1" y1="273.7" x2="596.1" y2="418.2" stroke="#000" stroke-width="1.4" stroke-linecap="butt"/>
<line x1="441.1" y1="417.5" x2="441.1" y2="420.7" stroke="#000" stroke-width="1.2" stroke-linecap="butt"/>
<line x1="506.3" y1="417.5" x2="506.3" y2="420.7" stroke="#000" stroke-width="1.2" stroke-linecap="butt"/>
<line x1="571.3" y1="417.5" x2="571.3" y2="420.7" stroke="#000" stroke-width="1.2" stroke-linecap="butt"/>
<line x1="473.7" y1="417.5" x2="473.7" y2="419.7" stroke="#000" stroke-width="1.2" stroke-linecap="butt"/>
<line x1="538.9" y1="417.5" x2="538.9" y2="419.7" stroke="#000" stroke-width="1.2" stroke-linecap="butt"/>
<text x="441.1" y="428.3" font-size="7.2" text-anchor="middle" fill="#000">1</text>
<text x="506.3" y="428.3" font-size="7.2" text-anchor="middle" fill="#000">2</text>
<text x="571.3" y="428.3" font-size="7.2" text-anchor="middle" fill="#000">3</text>
<text x="506.3" y="439.9" font-size="11.8" text-anchor="middle" textLength="80.1" lengthAdjust="spacingAndGlyphs" fill="#000">Engine modes</text>
<line x1="408.7" y1="409.7" x2="412.5" y2="409.7" stroke="#000" stroke-width="1.2" stroke-linecap="butt"/>
<text x="407" y="412.5" font-size="8" text-anchor="end" textLength="19.7" lengthAdjust="spacingAndGlyphs" fill="#000">1,2E6</text>
<line x1="410.1" y1="395.41" x2="412.5" y2="395.41" stroke="#000" stroke-width="1.2" stroke-linecap="butt"/>
<line x1="408.7" y1="381.12" x2="412.5" y2="381.12" stroke="#000" stroke-width="1.2" stroke-linecap="butt"/>
<text x="407" y="383.93" font-size="8" text-anchor="end" textLength="19.7" lengthAdjust="spacingAndGlyphs" fill="#000">1,6E6</text>
<line x1="410.1" y1="366.84" x2="412.5" y2="366.84" stroke="#000" stroke-width="1.2" stroke-linecap="butt"/>
<line x1="408.7" y1="352.55" x2="412.5" y2="352.55" stroke="#000" stroke-width="1.2" stroke-linecap="butt"/>
<text x="407" y="355.35" font-size="8" text-anchor="end" textLength="19.7" lengthAdjust="spacingAndGlyphs" fill="#000">2,0E6</text>
<line x1="410.1" y1="338.26" x2="412.5" y2="338.26" stroke="#000" stroke-width="1.2" stroke-linecap="butt"/>
<line x1="408.7" y1="323.98" x2="412.5" y2="323.98" stroke="#000" stroke-width="1.2" stroke-linecap="butt"/>
<text x="407" y="326.78" font-size="8" text-anchor="end" textLength="19.7" lengthAdjust="spacingAndGlyphs" fill="#000">2,4E6</text>
<line x1="410.1" y1="309.69" x2="412.5" y2="309.69" stroke="#000" stroke-width="1.2" stroke-linecap="butt"/>
<line x1="408.7" y1="295.4" x2="412.5" y2="295.4" stroke="#000" stroke-width="1.2" stroke-linecap="butt"/>
<text x="407" y="298.2" font-size="8" text-anchor="end" textLength="19.7" lengthAdjust="spacingAndGlyphs" fill="#000">2,8E6</text>
<line x1="410.1" y1="281.11" x2="412.5" y2="281.11" stroke="#000" stroke-width="1.2" stroke-linecap="butt"/>
<line x1="592.5" y1="416.8" x2="596.1" y2="416.8" stroke="#000" stroke-width="1.2" stroke-linecap="butt"/>
<text x="599.3" y="418.9" font-size="8" fill="#000">50</text>
<line x1="593.9" y1="408.83" x2="596.1" y2="408.83" stroke="#000" stroke-width="1.2" stroke-linecap="butt"/>
<line x1="592.5" y1="400.87" x2="596.1" y2="400.87" stroke="#000" stroke-width="1.2" stroke-linecap="butt"/>
<text x="599.3" y="402.97" font-size="8" fill="#000">52</text>
<line x1="593.9" y1="392.9" x2="596.1" y2="392.9" stroke="#000" stroke-width="1.2" stroke-linecap="butt"/>
<line x1="592.5" y1="384.93" x2="596.1" y2="384.93" stroke="#000" stroke-width="1.2" stroke-linecap="butt"/>
<text x="599.3" y="387.03" font-size="8" fill="#000">54</text>
<line x1="593.9" y1="376.97" x2="596.1" y2="376.97" stroke="#000" stroke-width="1.2" stroke-linecap="butt"/>
<line x1="592.5" y1="369" x2="596.1" y2="369" stroke="#000" stroke-width="1.2" stroke-linecap="butt"/>
<text x="599.3" y="371.1" font-size="8" fill="#000">56</text>
<line x1="593.9" y1="361.03" x2="596.1" y2="361.03" stroke="#000" stroke-width="1.2" stroke-linecap="butt"/>
<line x1="592.5" y1="353.06" x2="596.1" y2="353.06" stroke="#000" stroke-width="1.2" stroke-linecap="butt"/>
<text x="599.3" y="355.16" font-size="8" fill="#000">58</text>
<line x1="593.9" y1="345.1" x2="596.1" y2="345.1" stroke="#000" stroke-width="1.2" stroke-linecap="butt"/>
<line x1="592.5" y1="337.13" x2="596.1" y2="337.13" stroke="#000" stroke-width="1.2" stroke-linecap="butt"/>
<text x="599.3" y="339.23" font-size="8" fill="#000">60</text>
<line x1="593.9" y1="329.16" x2="596.1" y2="329.16" stroke="#000" stroke-width="1.2" stroke-linecap="butt"/>
<line x1="592.5" y1="321.2" x2="596.1" y2="321.2" stroke="#000" stroke-width="1.2" stroke-linecap="butt"/>
<text x="599.3" y="323.3" font-size="8" fill="#000">62</text>
<line x1="593.9" y1="313.23" x2="596.1" y2="313.23" stroke="#000" stroke-width="1.2" stroke-linecap="butt"/>
<line x1="592.5" y1="305.26" x2="596.1" y2="305.26" stroke="#000" stroke-width="1.2" stroke-linecap="butt"/>
<text x="599.3" y="307.36" font-size="8" fill="#000">64</text>
<line x1="593.9" y1="297.3" x2="596.1" y2="297.3" stroke="#000" stroke-width="1.2" stroke-linecap="butt"/>
<line x1="592.5" y1="289.33" x2="596.1" y2="289.33" stroke="#000" stroke-width="1.2" stroke-linecap="butt"/>
<text x="599.3" y="291.43" font-size="8" fill="#000">66</text>
<line x1="593.9" y1="281.36" x2="596.1" y2="281.36" stroke="#000" stroke-width="1.2" stroke-linecap="butt"/>
<line x1="592.5" y1="273.39" x2="596.1" y2="273.39" stroke="#000" stroke-width="1.2" stroke-linecap="butt"/>
<text x="599.3" y="275.49" font-size="8" fill="#000">68</text>
<line x1="619.4" y1="273.9" x2="619.4" y2="417.4" stroke="#000" stroke-width="1.4" stroke-linecap="butt"/>
<line x1="617.2" y1="417.4" x2="619.4" y2="417.4" stroke="#000" stroke-width="1.2" stroke-linecap="butt"/>
<line x1="615.8" y1="396.9" x2="619.4" y2="396.9" stroke="#000" stroke-width="1.2" stroke-linecap="butt"/>
<text x="621" y="399" font-size="8" fill="#000">1,4</text>
<line x1="617.2" y1="376.4" x2="619.4" y2="376.4" stroke="#000" stroke-width="1.2" stroke-linecap="butt"/>
<line x1="615.8" y1="355.9" x2="619.4" y2="355.9" stroke="#000" stroke-width="1.2" stroke-linecap="butt"/>
<text x="621" y="358" font-size="8" fill="#000">1,6</text>
<line x1="617.2" y1="335.4" x2="619.4" y2="335.4" stroke="#000" stroke-width="1.2" stroke-linecap="butt"/>
<line x1="615.8" y1="314.9" x2="619.4" y2="314.9" stroke="#000" stroke-width="1.2" stroke-linecap="butt"/>
<text x="621" y="317" font-size="8" fill="#000">1,8</text>
<line x1="617.2" y1="294.4" x2="619.4" y2="294.4" stroke="#000" stroke-width="1.2" stroke-linecap="butt"/>
<line x1="615.8" y1="273.9" x2="619.4" y2="273.9" stroke="#000" stroke-width="1.2" stroke-linecap="butt"/>
<text x="621" y="276" font-size="8" fill="#000">2,0</text>
<line x1="644.6" y1="273.9" x2="644.6" y2="416.8" stroke="#000" stroke-width="1.4" stroke-linecap="butt"/>
<line x1="641" y1="416.8" x2="644.6" y2="416.8" stroke="#000" stroke-width="1.2" stroke-linecap="butt"/>
<text x="646.2" y="418.9" font-size="8" fill="#000">2,0E-10</text>
<line x1="642.4" y1="402.51" x2="644.6" y2="402.51" stroke="#000" stroke-width="1.2" stroke-linecap="butt"/>
<line x1="641" y1="388.22" x2="644.6" y2="388.22" stroke="#000" stroke-width="1.2" stroke-linecap="butt"/>
<text x="646.2" y="390.32" font-size="8" fill="#000">4,0E-10</text>
<line x1="642.4" y1="373.93" x2="644.6" y2="373.93" stroke="#000" stroke-width="1.2" stroke-linecap="butt"/>
<line x1="641" y1="359.64" x2="644.6" y2="359.64" stroke="#000" stroke-width="1.2" stroke-linecap="butt"/>
<text x="646.2" y="361.74" font-size="8" fill="#000">6,0E-10</text>
<line x1="642.4" y1="345.35" x2="644.6" y2="345.35" stroke="#000" stroke-width="1.2" stroke-linecap="butt"/>
<line x1="641" y1="331.06" x2="644.6" y2="331.06" stroke="#000" stroke-width="1.2" stroke-linecap="butt"/>
<text x="646.2" y="333.16" font-size="8" fill="#000">8,0E-10</text>
<line x1="642.4" y1="316.77" x2="644.6" y2="316.77" stroke="#000" stroke-width="1.2" stroke-linecap="butt"/>
<line x1="641" y1="302.48" x2="644.6" y2="302.48" stroke="#000" stroke-width="1.2" stroke-linecap="butt"/>
<text x="646.2" y="304.58" font-size="8" fill="#000">1,0E-9</text>
<line x1="642.4" y1="288.19" x2="644.6" y2="288.19" stroke="#000" stroke-width="1.2" stroke-linecap="butt"/>
<line x1="641" y1="273.9" x2="644.6" y2="273.9" stroke="#000" stroke-width="1.2" stroke-linecap="butt"/>
<text x="646.2" y="276" font-size="8" fill="#000">1,2E-9</text>
<polyline points="441.1,308.2 506.3,407.3 571.3,407.3" fill="none" stroke="#000" stroke-width="1.0" stroke-linejoin="round"/>
<circle cx="441.1" cy="308.2" r="2.4" fill="#000"/>
<circle cx="506.3" cy="407.3" r="2.4" fill="#000"/>
<circle cx="571.3" cy="407.3" r="2.4" fill="#000"/>
<polyline points="441.1,402.9 506.3,360.9 571.1,283" fill="none" stroke="#000" stroke-width="1.0" stroke-dasharray="5,3" stroke-linejoin="round"/>
<circle cx="441.1" cy="402.9" r="2.4" fill="#000"/>
<circle cx="506.3" cy="360.9" r="2.4" fill="#000"/>
<circle cx="571.1" cy="283" r="2.4" fill="#000"/>
<polyline points="441.1,392.4 506.3,340 571.6,296.6" fill="none" stroke="#000" stroke-width="1.0" stroke-dasharray="6,2.5,1.5,2.5" stroke-linejoin="round"/>
<polygon points="438.3,394.92 443.9,394.92 441.1,389.88" fill="#000"/>
<polygon points="503.5,342.52 509.1,342.52 506.3,337.48" fill="#000"/>
<polygon points="568.8,299.12 574.4,299.12 571.6,294.08" fill="#000"/>
<polyline points="441.1,397.8 506.3,395.1 571.1,291.6" fill="none" stroke="#000" stroke-width="1.0" stroke-dasharray="2.4,2" stroke-linejoin="round"/>
<rect x="438.9" y="395.6" width="4.4" height="4.4" fill="#000"/>
<rect x="504.1" y="392.9" width="4.4" height="4.4" fill="#000"/>
<rect x="568.9" y="289.4" width="4.4" height="4.4" fill="#000"/>
<line x1="460.3" y1="286" x2="478.4" y2="286" stroke="#000" stroke-width="1.0" stroke-linecap="butt"/>
<circle cx="469.4" cy="286" r="2.4" fill="#000"/>
<text x="481.5" y="288.9" font-size="8.8" fill="#000">TNC</text>
<line x1="460.3" y1="297.5" x2="464.55" y2="297.5" stroke="#000" stroke-width="1.0" stroke-linecap="butt"/>
<line x1="467" y1="297.5" x2="471.7" y2="297.5" stroke="#000" stroke-width="1.0" stroke-linecap="butt"/>
<line x1="472.97" y1="297.5" x2="477.31" y2="297.5" stroke="#000" stroke-width="1.0" stroke-linecap="butt"/>
<circle cx="469.4" cy="297.5" r="2.4" fill="#000"/>
<text x="481.5" y="300.2" font-size="8.8" fill="#000">GMD</text>
<line x1="460.3" y1="308.6" x2="465.01" y2="308.6" stroke="#000" stroke-width="1.0" stroke-linecap="butt"/>
<line x1="467" y1="308.6" x2="471.7" y2="308.6" stroke="#000" stroke-width="1.0" stroke-linecap="butt"/>
<line x1="472.97" y1="308.6" x2="477.68" y2="308.6" stroke="#000" stroke-width="1.0" stroke-linecap="butt"/>
<polygon points="466.7,311.03 472.1,311.03 469.4,306.17" fill="#000"/>
<text x="481.5" y="311.6" font-size="8.8" fill="#000">GSD</text>
<line x1="460.3" y1="319.9" x2="462.29" y2="319.9" stroke="#000" stroke-width="1.0" stroke-linecap="butt"/>
<line x1="463.74" y1="319.9" x2="465.55" y2="319.9" stroke="#000" stroke-width="1.0" stroke-linecap="butt"/>
<line x1="467.18" y1="319.9" x2="471.52" y2="319.9" stroke="#000" stroke-width="1.0" stroke-linecap="butt"/>
<line x1="472.97" y1="319.9" x2="474.78" y2="319.9" stroke="#000" stroke-width="1.0" stroke-linecap="butt"/>
<line x1="476.41" y1="319.9" x2="478.22" y2="319.9" stroke="#000" stroke-width="1.0" stroke-linecap="butt"/>
<rect x="467.3" y="317.8" width="4.2" height="4.2" fill="#000"/>
<text x="481.5" y="322.8" font-size="8.8" fill="#000">TVC</text>
<text x="504.8" y="269.8" font-size="7.9" text-anchor="middle" fill="#000">B7, 40<tspan font-size="5.2" dy="-1.5">o</tspan><tspan dy="1.5">C</tspan></text>
<text transform="translate(382.9 337.5) rotate(-90)" font-size="11.9" text-anchor="middle">dN/dlogDp (cm<tspan font-size="11" dy="-4.6">-3</tspan><tspan font-size="6.5" dy="4.2">)</tspan></text>
<text x="616.6" y="349.5" font-size="10.4" text-anchor="middle" transform="rotate(-90 616.6 349.5)" fill="#000">GMD</text>
<text x="641" y="350.5" font-size="10.3" text-anchor="middle" transform="rotate(-90 641 350.5)" fill="#000">GSD</text>
<text x="684.3" y="350.2" font-size="10.3" text-anchor="middle" transform="rotate(-90 684.3 350.2)" fill="#000">TVC</text>
</svg></body></html>
